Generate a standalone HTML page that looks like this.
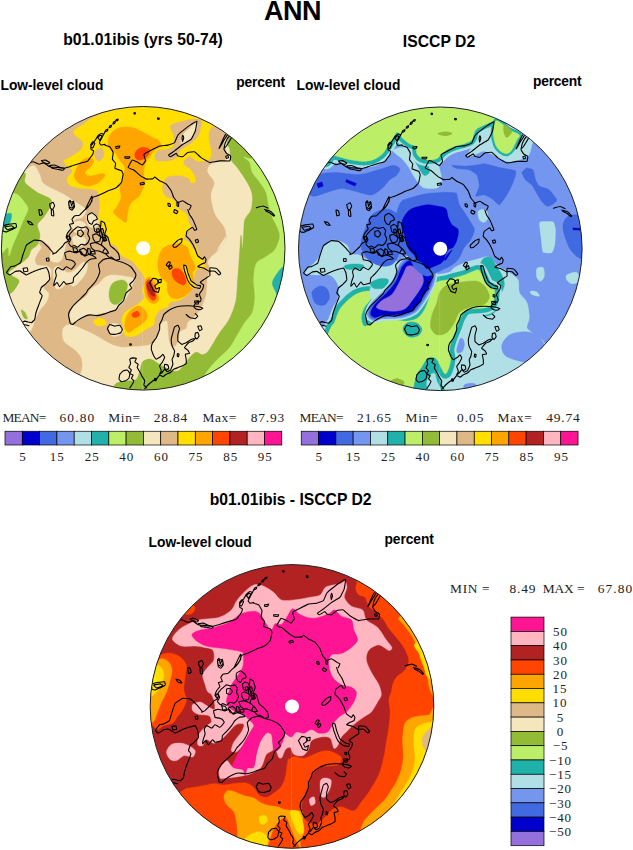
<!DOCTYPE html>
<html><head><meta charset="utf-8"><title>ANN</title>
<style>
html,body{margin:0;padding:0;background:#fff;}
body{width:633px;height:850px;position:relative;overflow:hidden;}
.t{position:absolute;white-space:nowrap;line-height:1.15;color:#000;}
.s{font-family:"Liberation Sans",sans-serif;}
.b{font-weight:bold;}
.r{font-family:"Liberation Serif",serif;}
</style></head><body>
<svg width="633" height="850" viewBox="0 0 633 850" style="position:absolute;left:0;top:0"><defs><clipPath id="cl"><circle cx="143.2" cy="248.3" r="141.8"/></clipPath></defs><g clip-path="url(#cl)"><rect x="-0.6000000000000227" y="104.5" width="287.6" height="287.6" fill="#DEB887"/><path d="M226.1,137.4C226.9,137.3 229.2,139.3 229.9,141.2C230.5,143.1 230.2,147.1 230.3,149.9C230.5,152.7 230.0,157.3 231.1,159.9C232.1,162.5 234.9,164.0 237.3,167.4C239.8,170.8 245.1,178.3 247.3,182.4C249.6,186.5 251.8,190.7 252.3,194.9C252.9,199.0 252.2,206.1 251.1,209.8C249.9,213.6 246.0,216.1 244.8,219.8C243.7,223.6 244.0,230.3 243.6,234.8C243.2,239.3 242.7,249.7 242.3,249.8C242.0,249.8 241.5,235.0 241.1,235.0C240.7,235.0 240.2,245.1 239.8,250.0C239.5,254.8 239.0,262.2 238.6,267.5C238.2,272.7 237.7,280.1 237.3,284.9C237.0,289.8 236.8,295.8 236.1,299.9C235.3,304.0 233.7,309.0 232.3,312.4C231.0,315.8 229.2,319.4 227.4,322.4C225.5,325.4 222.1,329.0 219.9,332.4C217.6,335.7 214.2,341.8 212.4,344.8C210.5,347.8 208.9,350.8 207.4,352.3C205.9,353.8 204.1,354.8 202.4,354.8C200.7,354.8 198.0,351.9 196.2,352.3C194.3,352.7 192.3,354.7 189.9,357.3C187.5,359.9 182.5,367.7 179.9,369.8C177.3,371.9 174.7,371.4 172.4,371.0C170.2,370.7 166.8,368.2 164.9,367.3C163.1,366.4 161.8,365.9 160.0,364.8C158.1,363.7 153.7,361.7 152.5,359.8C151.2,357.9 151.4,354.6 151.5,352.3C151.5,350.1 152.3,347.1 153.0,344.8C153.7,342.6 155.2,339.6 156.2,337.3C157.2,335.1 158.6,332.0 159.5,329.9C160.3,327.7 160.8,324.1 162.0,322.9C163.1,321.6 166.0,320.1 166.9,321.4C167.8,322.7 167.6,328.8 167.9,331.6C168.2,334.4 168.4,337.6 168.9,339.8C169.5,342.1 170.4,345.7 171.4,346.6C172.5,347.4 175.1,346.9 176.2,345.6C177.3,344.3 178.0,340.2 178.7,338.1C179.3,336.0 179.3,333.1 180.4,331.6C181.5,330.1 185.0,329.7 186.2,328.4C187.3,327.0 187.0,323.8 187.9,322.4C188.8,320.9 191.2,320.0 192.4,318.9C193.6,317.8 195.0,316.3 196.2,314.9C197.3,313.5 199.2,311.3 200.4,309.4C201.6,307.4 203.0,304.3 203.9,301.9C204.8,299.5 205.9,296.2 206.4,293.7C206.8,291.1 206.7,287.5 206.9,284.9C207.1,282.3 207.4,278.6 207.9,276.2C208.4,273.8 210.4,270.8 210.4,268.7C210.4,266.6 207.8,264.2 207.9,262.5C208.0,260.7 209.7,258.7 211.1,257.0C212.6,255.3 215.5,253.2 217.4,251.2C219.3,249.2 222.4,246.2 223.9,243.7C225.3,241.3 227.8,234.1 226.9,235.0C225.9,235.9 218.0,248.3 217.4,249.8C216.8,251.2 221.6,246.8 222.9,244.8C224.2,242.7 225.9,238.7 226.1,236.0C226.3,233.4 225.7,230.1 224.4,227.3C223.0,224.5 218.5,219.9 216.9,217.3C215.3,214.7 214.5,213.2 213.6,209.8C212.8,206.5 211.0,199.0 211.1,194.9C211.2,190.7 214.9,185.7 214.4,182.4C213.9,179.0 208.6,174.9 207.9,172.4C207.1,169.8 208.1,167.0 209.4,165.4C210.6,163.8 213.6,162.8 216.1,161.9C218.6,161.0 224.6,161.2 226.1,159.4C227.6,157.6 226.1,152.5 225.9,149.9C225.6,147.4 224.3,144.3 224.4,142.4C224.4,140.6 225.3,137.6 226.1,137.4Z" fill="#F5E6BE" stroke="#F5E6BE" stroke-width="0.4" stroke-linejoin="round"/><path d="M62.4,334.9C62.2,332.6 62.5,328.9 63.7,327.4C64.8,325.8 67.5,324.3 69.9,324.4C72.3,324.4 76.5,326.5 79.9,327.9C83.3,329.2 89.0,331.9 92.4,333.6C95.7,335.3 99.4,337.7 102.3,339.3C105.3,341.0 109.3,343.6 112.3,344.8C115.3,346.0 119.3,347.0 122.3,347.3C125.3,347.6 129.3,347.0 132.3,346.8C135.3,346.6 139.7,346.4 142.3,346.1C144.9,345.8 147.9,345.3 149.8,344.8C151.7,344.3 154.5,342.3 155.0,342.8C155.4,343.4 153.5,346.8 153.0,348.6C152.4,350.4 151.5,352.9 151.5,354.8C151.5,356.7 153.6,360.3 153.0,361.1C152.4,361.8 149.0,359.6 147.5,359.8C145.9,360.0 143.6,360.6 142.5,362.3C141.4,364.0 141.0,368.4 140.0,371.0C139.0,373.7 137.9,378.3 136.0,379.8C134.1,381.3 129.9,380.7 127.3,381.0C124.7,381.4 120.6,381.3 118.6,382.3C116.5,383.3 114.9,385.1 113.6,387.8C112.3,390.4 115.6,398.7 109.8,399.8C104.0,400.8 79.4,398.3 74.9,394.8C70.4,391.2 78.8,380.2 79.9,376.0C81.0,371.9 82.2,370.1 82.4,367.3C82.6,364.5 82.3,359.9 81.1,357.3C80.0,354.7 77.3,352.1 74.9,349.8C72.5,347.6 66.8,344.6 64.9,342.3C63.0,340.1 62.6,337.1 62.4,334.9Z" fill="#F5E6BE" stroke="#F5E6BE" stroke-width="0.4" stroke-linejoin="round"/><path d="M27.5,258.0C29.9,255.3 29.7,252.1 31.2,250.0C32.7,247.8 35.9,244.1 37.4,243.7C38.9,243.4 41.2,246.0 41.2,247.5C41.2,249.0 38.4,251.8 37.4,253.7C36.5,255.6 34.9,258.3 34.9,260.0C34.9,261.6 35.6,264.0 37.4,265.0C39.3,265.9 45.4,265.5 47.4,266.2C49.5,267.0 50.8,267.9 51.2,269.9C51.5,272.0 51.0,277.3 49.9,279.9C48.8,282.6 43.9,285.4 43.7,287.4C43.5,289.5 48.3,291.4 48.7,293.7C49.1,295.9 47.5,300.0 46.2,302.4C44.9,304.8 41.6,307.3 39.9,309.9C38.3,312.5 36.1,317.3 34.9,319.9C33.8,322.5 33.4,325.7 32.5,327.4C31.5,329.0 31.3,332.2 28.7,331.1C26.1,330.0 19.3,324.9 15.0,319.9C10.7,314.8 0.7,301.3 0.0,297.4C-0.7,293.5 7.4,295.5 10.0,293.7C12.6,291.8 16.2,287.0 17.5,284.9C18.8,282.9 19.5,281.2 18.7,279.9C18.0,278.6 14.0,277.3 12.5,276.2C11.0,275.1 8.4,273.8 8.7,272.4C9.1,271.1 12.2,269.6 15.0,267.5C17.8,265.3 25.0,260.6 27.5,258.0Z" fill="#F5E6BE" stroke="#F5E6BE" stroke-width="0.4" stroke-linejoin="round"/><path d="M71.1,321.1C70.4,319.6 69.1,315.0 69.9,312.4C70.6,309.8 73.7,306.1 76.1,303.6C78.6,301.2 83.9,298.4 86.1,296.2C88.4,293.9 89.2,290.5 91.1,288.7C93.0,286.8 96.5,285.4 98.6,283.7C100.7,282.0 102.8,278.7 104.8,277.4C106.9,276.1 109.3,275.1 112.3,274.9C115.3,274.8 121.4,275.6 124.8,276.2C128.2,276.7 133.7,277.4 134.8,278.7C135.9,280.0 133.4,282.3 132.3,284.9C131.2,287.5 128.8,293.3 127.3,296.2C125.8,299.0 124.4,301.6 122.3,303.6C120.3,305.7 116.2,308.6 113.6,309.9C111.0,311.2 107.7,311.7 104.8,312.4C102.0,313.1 97.9,313.8 94.9,314.4C91.9,314.9 87.9,314.9 84.9,316.1C81.9,317.3 76.9,321.6 74.9,322.4C72.8,323.1 71.9,322.6 71.1,321.1Z" fill="#F5E6BE" stroke="#F5E6BE" stroke-width="0.4" stroke-linejoin="round"/><path d="M53.7,268.7C54.4,266.6 56.6,265.6 58.7,266.2C60.7,266.8 65.0,271.9 67.4,272.4C69.8,273.0 72.6,271.4 74.9,269.9C77.1,268.4 80.5,263.4 82.4,262.5C84.2,261.5 86.8,262.2 87.4,263.7C87.9,265.2 87.2,269.8 86.1,272.4C85.0,275.1 81.8,279.1 79.9,281.2C78.0,283.2 75.5,286.0 73.6,286.2C71.8,286.4 69.1,282.2 67.4,282.4C65.7,282.6 64.1,286.5 62.4,287.4C60.7,288.4 57.5,289.8 56.2,288.7C54.9,287.5 54.0,282.9 53.7,279.9C53.3,276.9 52.9,270.8 53.7,268.7Z" fill="#F5E6BE" stroke="#F5E6BE" stroke-width="0.4" stroke-linejoin="round"/><path d="M108.6,328.6C108.6,326.7 110.6,324.2 112.3,323.6C114.0,323.1 118.1,323.9 119.8,324.9C121.5,325.8 123.6,328.4 123.6,329.9C123.6,331.4 121.5,333.9 119.8,334.9C118.1,335.8 114.0,337.0 112.3,336.1C110.6,335.2 108.6,330.5 108.6,328.6Z" fill="#F5E6BE" stroke="#F5E6BE" stroke-width="0.4" stroke-linejoin="round"/><path d="M23.7,172.4C25.0,169.8 31.3,165.0 33.7,165.4C36.1,165.8 38.6,172.3 39.9,174.9C41.3,177.4 40.9,180.5 42.4,182.4C43.9,184.2 46.9,185.7 49.9,187.4C52.9,189.1 59.0,191.7 62.4,193.6C65.8,195.5 69.8,198.2 72.4,199.9C75.0,201.5 77.8,203.3 79.9,204.8C81.9,206.3 85.7,208.0 86.1,209.8C86.5,211.7 84.1,215.8 82.4,217.3C80.7,218.8 76.4,218.3 74.9,219.8C73.4,221.3 73.5,225.1 72.4,227.3C71.3,229.6 68.4,231.8 67.4,234.8C66.4,237.8 66.2,243.8 65.4,247.3C64.7,250.8 62.9,256.3 62.4,258.0C62.0,259.7 63.2,258.0 62.4,258.7C61.7,259.4 59.3,262.3 57.4,262.5C55.5,262.6 50.9,261.8 49.9,260.0C49.0,258.1 51.4,252.2 51.2,250.0C51.0,247.7 50.2,246.3 48.7,245.0C47.2,243.7 42.9,241.3 41.2,241.2C39.5,241.2 37.6,245.7 37.4,244.8C37.3,243.8 39.9,237.8 39.9,234.8C39.9,231.8 36.9,227.4 37.4,224.8C38.0,222.2 41.6,220.3 43.7,217.3C45.7,214.3 50.2,207.7 51.2,204.8C52.1,202.0 52.0,200.5 49.9,198.6C47.9,196.7 41.2,194.8 37.4,192.4C33.7,189.9 27.0,185.4 25.0,182.4C22.9,179.4 22.4,174.9 23.7,172.4Z" fill="#F5E6BE" stroke="#F5E6BE" stroke-width="0.4" stroke-linejoin="round"/><path d="M72.4,223.6C73.1,221.9 77.8,220.9 79.9,221.1C81.9,221.3 85.6,223.3 86.1,224.8C86.7,226.3 85.3,229.9 83.6,231.1C81.9,232.2 76.6,233.4 74.9,232.3C73.2,231.2 71.6,225.2 72.4,223.6Z" fill="#F5E6BE" stroke="#F5E6BE" stroke-width="0.4" stroke-linejoin="round"/><path d="M86.1,216.1C86.9,214.2 91.7,213.0 93.6,213.6C95.5,214.1 98.2,217.8 98.6,219.8C99.0,221.9 97.6,226.4 96.1,227.3C94.6,228.2 90.1,227.7 88.6,226.1C87.1,224.4 85.4,217.9 86.1,216.1Z" fill="#F5E6BE" stroke="#F5E6BE" stroke-width="0.4" stroke-linejoin="round"/><path d="M72.4,237.5C73.1,236.0 77.8,234.6 79.9,235.0C81.9,235.4 85.7,238.3 86.1,240.0C86.5,241.7 84.1,245.5 82.4,246.2C80.7,247.0 76.4,246.3 74.9,245.0C73.4,243.7 71.6,239.0 72.4,237.5Z" fill="#F5E6BE" stroke="#F5E6BE" stroke-width="0.4" stroke-linejoin="round"/><path d="M228.6,138.7C224.9,143.9 229.5,146.7 229.9,149.9C230.2,153.1 230.0,157.3 231.1,159.9C232.2,162.5 234.9,164.0 237.3,167.4C239.8,170.8 245.1,178.3 247.3,182.4C249.6,186.5 251.8,190.7 252.3,194.9C252.9,199.0 252.2,206.1 251.1,209.8C249.9,213.6 246.0,216.1 244.8,219.8C243.7,223.6 244.0,230.3 243.6,234.8C243.2,239.3 242.7,249.7 242.3,249.8C242.0,249.8 241.5,235.0 241.1,235.0C240.7,235.0 240.2,245.1 239.8,250.0C239.5,254.8 239.0,262.2 238.6,267.5C238.2,272.7 237.7,280.1 237.3,284.9C237.0,289.8 236.8,295.8 236.1,299.9C235.3,304.0 233.7,309.0 232.3,312.4C231.0,315.8 229.2,319.4 227.4,322.4C225.5,325.4 222.1,329.0 219.9,332.4C217.6,335.7 214.2,341.8 212.4,344.8C210.5,347.8 208.9,350.8 207.4,352.3C205.9,353.8 204.1,354.8 202.4,354.8C200.7,354.8 198.0,351.9 196.2,352.3C194.3,352.7 192.3,354.7 189.9,357.3C187.5,359.9 182.5,367.7 179.9,369.8C177.3,371.9 174.7,371.4 172.4,371.0C170.2,370.7 166.8,368.2 164.9,367.3C163.1,366.4 161.8,365.9 160.0,364.8C158.1,363.7 154.3,360.6 152.5,359.8C150.6,359.0 149.0,358.9 147.5,359.3C145.9,359.7 143.4,360.5 142.3,362.3C141.1,364.1 140.7,368.4 139.8,371.0C138.9,373.7 137.9,378.3 136.0,379.8C134.2,381.3 129.9,380.7 127.3,381.0C124.7,381.4 120.6,381.3 118.6,382.3C116.5,383.3 114.5,383.7 113.6,387.8C112.6,391.9 83.7,406.4 112.3,409.7C141.0,413.0 275.9,447.2 304.7,409.7C333.6,372.3 312.2,204.3 304.7,160.1C297.2,115.9 266.2,118.2 254.8,115.0C243.4,111.8 232.3,133.4 228.6,138.7Z" fill="#93BB35" stroke="#93BB35" stroke-width="0.4" stroke-linejoin="round"/><path d="M23.7,172.4C28.2,173.5 22.9,179.4 25.0,182.4C27.0,185.4 33.7,189.9 37.4,192.4C41.2,194.8 47.9,196.7 49.9,198.6C52.0,200.5 52.1,202.0 51.2,204.8C50.2,207.7 45.7,214.3 43.7,217.3C41.6,220.3 38.0,222.2 37.4,224.8C36.9,227.4 39.9,231.8 39.9,234.8C39.9,237.8 38.8,242.5 37.4,244.8C36.1,247.1 32.7,248.0 31.2,250.0C29.7,252.0 29.9,255.3 27.5,258.0C25.0,260.6 17.8,265.3 15.0,267.5C12.2,269.6 9.1,271.1 8.7,272.4C8.4,273.8 11.0,275.1 12.5,276.2C14.0,277.3 18.0,278.6 18.7,279.9C19.5,281.2 18.8,282.9 17.5,284.9C16.2,287.0 13.4,292.2 10.0,293.7C6.6,295.2 -2.7,312.7 -5.0,294.9C-7.2,277.1 -9.3,193.3 -5.0,174.9C-0.7,156.5 19.2,171.3 23.7,172.4Z" fill="#93BB35" stroke="#93BB35" stroke-width="0.4" stroke-linejoin="round"/><path d="M21.2,309.9C21.4,309.1 24.0,311.1 25.0,312.4C25.9,313.7 27.6,317.9 27.5,318.6C27.3,319.4 24.7,318.7 23.7,317.4C22.8,316.1 21.0,310.6 21.2,309.9Z" fill="#93BB35" stroke="#93BB35" stroke-width="0.4" stroke-linejoin="round"/><path d="M109.8,288.7C110.5,286.6 111.7,283.7 113.6,282.4C115.5,281.1 120.3,279.7 122.3,279.9C124.4,280.1 126.7,281.8 127.3,283.7C127.9,285.5 126.8,290.0 126.1,292.4C125.3,294.8 123.8,298.1 122.3,299.9C120.8,301.7 117.8,304.0 116.1,304.4C114.4,304.8 112.1,303.6 111.1,302.4C110.0,301.2 109.3,298.2 109.1,296.2C108.9,294.1 109.2,290.7 109.8,288.7Z" fill="#93BB35" stroke="#93BB35" stroke-width="0.4" stroke-linejoin="round"/><path d="M246.8,157.9C238.6,154.5 249.0,160.2 249.8,162.4C250.6,164.6 250.8,169.4 252.3,172.4C253.8,175.4 257.7,179.4 259.8,182.4C261.9,185.4 264.7,189.0 266.0,192.4C267.4,195.7 267.6,201.1 268.5,204.8C269.5,208.6 271.0,214.0 272.3,217.3C273.6,220.7 276.2,224.5 277.3,227.3C278.4,230.1 279.8,233.4 279.8,236.0C279.8,238.7 278.2,242.7 277.3,245.0C276.3,247.3 275.4,249.4 273.5,251.2C271.7,253.1 267.4,255.6 264.8,257.5C262.2,259.3 257.7,260.3 256.1,263.7C254.4,267.1 253.8,274.9 253.6,279.9C253.4,285.0 255.0,292.5 254.8,297.4C254.6,302.3 253.8,308.6 252.3,312.4C250.8,316.1 247.1,319.0 244.8,322.4C242.6,325.7 239.6,331.1 237.3,334.9C235.1,338.6 232.1,344.3 229.9,347.3C227.6,350.3 225.0,352.2 222.4,354.8C219.7,357.4 215.0,361.8 212.4,364.8C209.8,367.8 206.6,371.8 204.9,374.8C203.2,377.8 197.4,379.5 201.1,384.8C204.9,390.0 214.3,406.0 229.9,409.7C245.4,413.5 293.5,443.4 304.7,409.7C316.0,376.0 313.4,222.8 304.7,185.1C296.1,147.3 255.1,161.3 246.8,157.9Z" fill="#BCEE68" stroke="#BCEE68" stroke-width="0.4" stroke-linejoin="round"/><path d="M15.0,193.6C19.5,194.2 23.5,201.2 25.5,203.6C27.4,206.0 28.3,207.2 28.0,209.8C27.6,212.5 24.5,217.5 23.0,221.1C21.5,224.6 19.5,230.0 18.0,233.5C16.5,237.1 14.3,241.4 13.0,244.8C11.6,248.2 9.7,255.6 9.0,256.0C8.2,256.4 9.3,247.8 8.0,247.5C6.6,247.1 1.9,255.6 0.0,253.7C-1.9,251.8 -4.2,243.1 -5.0,235.0C-5.7,226.9 -8.0,206.1 -5.0,199.9C-2.0,193.6 10.4,193.0 15.0,193.6Z" fill="#BCEE68" stroke="#BCEE68" stroke-width="0.4" stroke-linejoin="round"/><path d="M272.3,282.4C272.8,279.1 277.4,272.8 279.3,270.4C281.1,268.1 282.4,266.7 284.8,267.0C287.1,267.3 294.0,266.0 294.8,272.4C295.5,278.9 292.0,305.7 289.8,309.9C287.5,314.1 281.8,303.0 279.8,300.4C277.7,297.8 277.2,295.1 276.0,292.4C274.9,289.7 271.8,285.7 272.3,282.4Z" fill="#20B2AA" stroke="#20B2AA" stroke-width="0.4" stroke-linejoin="round"/><path d="M3.0,215.3C4.9,213.6 10.2,212.5 11.2,213.6C12.3,214.6 11.2,220.2 10.0,222.3C8.7,224.5 4.7,227.4 3.0,227.8C1.3,228.2 -1.2,226.7 -1.2,224.8C-1.2,222.9 1.1,217.0 3.0,215.3Z" fill="#20B2AA" stroke="#20B2AA" stroke-width="0.4" stroke-linejoin="round"/><path d="M99.9,114.5C88.5,119.0 86.3,122.5 82.4,125.0C78.4,127.5 74.8,129.7 73.6,131.2C72.5,132.7 73.6,133.4 74.9,134.9C76.2,136.4 81.3,139.3 82.4,141.2C83.5,143.1 83.1,145.7 82.4,147.4C81.6,149.1 79.6,150.7 77.4,152.4C75.1,154.1 69.5,157.4 67.4,158.7C65.3,160.0 63.7,160.0 63.7,161.2C63.7,162.3 66.1,164.7 67.4,166.2C68.7,167.6 72.2,169.6 72.4,171.1C72.6,172.6 69.5,174.6 68.6,176.1C67.8,177.6 66.5,179.6 66.9,181.1C67.3,182.6 68.8,185.0 71.1,186.1C73.5,187.2 78.8,188.1 82.4,188.6C85.9,189.2 92.4,189.1 94.9,189.9C97.3,190.6 97.9,191.4 98.6,193.6C99.4,195.9 99.9,201.3 99.9,204.8C99.9,208.4 98.6,214.3 98.6,217.3C98.6,220.3 99.1,222.9 99.9,224.8C100.6,226.7 102.5,228.3 103.6,229.8C104.7,231.3 106.4,233.1 107.3,235.0C108.3,236.9 108.3,240.6 109.8,242.5C111.3,244.4 115.8,245.8 117.3,247.5C118.8,249.2 118.7,252.2 119.8,253.7C120.9,255.2 122.9,256.3 124.8,257.5C126.7,258.6 130.4,259.7 132.3,261.2C134.2,262.7 135.8,265.6 137.3,267.5C138.8,269.3 141.2,272.2 142.3,273.7C143.3,275.2 143.9,275.9 144.3,277.4C144.7,278.9 145.1,281.8 144.8,283.7C144.5,285.5 142.4,287.9 142.3,289.9C142.2,292.0 144.7,295.5 144.3,297.4C143.9,299.3 141.6,300.9 139.8,302.4C138.0,303.9 134.5,305.9 132.3,307.4C130.1,308.9 126.4,310.5 124.8,312.4C123.2,314.3 122.0,317.6 121.8,319.9C121.6,322.1 123.1,325.1 123.6,327.4C124.0,329.6 123.9,333.4 124.8,334.9C125.7,336.3 127.9,336.8 129.8,336.8C131.7,336.8 135.2,335.9 137.5,334.9C139.8,333.8 142.5,331.4 145.0,329.9C147.4,328.4 152.2,326.7 153.7,324.9C155.2,323.0 154.0,319.6 155.0,317.4C155.9,315.1 158.1,311.4 160.0,309.9C161.8,308.4 165.9,308.5 167.4,307.4C168.9,306.3 168.1,303.5 169.9,302.4C171.8,301.3 177.1,301.2 179.9,299.9C182.7,298.6 186.8,295.9 188.7,293.7C190.5,291.4 191.3,288.5 192.4,284.9C193.5,281.4 194.3,272.6 196.2,269.9C198.0,267.3 204.0,268.9 204.9,267.5C205.8,266.0 203.5,262.6 202.4,260.0C201.3,257.3 198.7,252.8 197.4,250.0C196.1,247.2 193.1,240.0 193.7,241.2C194.2,242.4 201.1,256.7 201.1,258.0C201.1,259.3 195.5,252.1 193.7,249.8C191.8,247.4 190.2,244.0 188.7,242.3C187.2,240.6 183.9,240.0 183.7,238.5C183.5,237.0 186.3,234.0 187.4,232.3C188.5,230.6 191.0,228.8 191.2,227.3C191.3,225.8 189.4,224.4 188.7,222.3C187.9,220.3 187.5,215.5 186.2,213.6C184.9,211.7 181.4,211.0 179.9,209.8C178.4,208.7 177.1,207.6 176.2,206.1C175.2,204.6 175.1,201.2 173.7,199.9C172.2,198.5 168.0,197.9 166.4,196.9C164.9,195.8 163.8,194.5 163.2,192.9C162.6,191.3 162.1,188.3 162.4,186.3C162.6,184.3 163.9,181.1 164.9,179.6C165.9,178.1 167.0,176.9 169.0,176.3C171.0,175.7 175.3,175.2 178.1,175.5C181.0,175.7 186.1,176.8 188.1,178.0C190.1,179.1 190.3,182.4 191.4,182.9C192.5,183.4 195.2,182.5 195.6,181.3C195.9,180.0 194.8,176.5 193.9,174.7C193.0,172.8 191.3,170.5 189.8,168.8C188.2,167.2 184.2,165.2 183.4,163.9C182.7,162.5 183.8,160.8 184.8,159.7C185.7,158.6 188.3,156.4 189.8,156.4C191.2,156.4 193.4,159.0 194.7,159.7C196.1,160.5 196.8,161.4 198.9,161.4C201.0,161.4 207.0,161.0 208.8,159.7C210.7,158.5 211.2,155.6 211.3,153.1C211.4,150.6 209.7,146.1 209.3,143.1C208.9,140.2 208.5,135.6 208.8,133.2C209.1,130.8 210.4,128.9 211.3,127.4C212.2,125.9 222.6,128.1 214.6,123.2C206.6,118.4 175.2,96.3 158.0,95.0C140.8,93.7 111.2,110.0 99.9,114.5Z" fill="#FFDE00" stroke="#FFDE00" stroke-width="0.4" stroke-linejoin="round"/><path d="M170.7,125.7C172.0,124.2 177.9,122.6 181.5,121.6C185.1,120.6 191.7,119.2 194.7,119.1C197.8,119.0 200.8,119.4 201.7,120.8C202.6,122.1 201.1,125.9 200.5,128.2C200.0,130.6 199.7,134.1 198.0,136.5C196.4,138.9 192.5,141.9 189.8,144.0C187.0,146.1 181.7,148.7 179.8,150.6C177.9,152.5 178.8,154.9 177.3,156.4C175.8,157.9 173.0,159.9 169.9,160.6C166.7,161.2 158.8,161.4 156.6,160.6C154.3,159.7 154.7,156.2 154.9,154.8C155.2,153.3 156.3,151.4 158.2,150.6C160.2,149.8 166.0,150.1 168.2,149.4C170.4,148.8 172.3,148.2 173.2,146.5C174.0,144.8 174.1,140.4 174.0,138.2C173.9,135.9 172.8,133.4 172.3,131.5C171.8,129.7 169.3,127.2 170.7,125.7Z" fill="#DEB887" stroke="#DEB887" stroke-width="0.4" stroke-linejoin="round"/><path d="M180.6,140.7C180.7,139.0 182.1,135.9 183.4,134.0C184.8,132.2 187.9,129.8 189.8,128.2C191.6,126.6 194.4,123.6 195.6,123.2C196.7,122.9 197.5,124.1 197.2,125.7C197.0,127.3 195.3,131.8 193.9,134.0C192.5,136.3 189.7,139.0 188.1,140.7C186.5,142.3 184.2,144.8 183.1,144.8C182.0,144.8 180.6,142.3 180.6,140.7Z" fill="#F5E6BE" stroke="#F5E6BE" stroke-width="0.4" stroke-linejoin="round"/><path d="M96.1,149.9C97.2,148.8 101.2,147.7 102.3,148.7C103.5,149.6 104.2,154.3 103.6,156.2C103.0,158.0 99.9,161.2 98.6,161.2C97.3,161.2 95.2,157.9 94.9,156.2C94.5,154.5 95.0,151.0 96.1,149.9Z" fill="#DEB887" stroke="#DEB887" stroke-width="0.4" stroke-linejoin="round"/><path d="M93.6,321.1C94.2,320.1 96.9,318.1 98.6,317.9C100.3,317.7 103.7,318.9 104.8,319.9C106.0,320.8 106.8,323.4 106.1,324.4C105.3,325.3 101.5,326.1 99.9,326.1C98.2,326.1 95.8,325.1 94.9,324.4C93.9,323.6 93.0,322.1 93.6,321.1Z" fill="#FFDE00" stroke="#FFDE00" stroke-width="0.4" stroke-linejoin="round"/><path d="M108.1,143.7C108.1,141.6 108.3,137.3 109.8,134.9C111.4,132.6 115.2,129.1 118.6,128.0C121.9,126.8 128.6,126.8 132.3,127.5C136.0,128.1 140.5,131.0 143.5,132.5C146.5,133.9 150.1,136.3 152.3,137.4C154.5,138.6 156.9,138.6 158.2,139.9C159.5,141.3 161.7,144.7 161.2,146.2C160.7,147.7 156.6,148.4 155.0,149.9C153.3,151.4 151.5,153.9 150.0,156.2C148.5,158.4 145.9,162.1 145.0,164.9C144.0,167.7 143.7,172.3 143.7,174.9C143.7,177.5 145.5,179.4 145.0,182.4C144.4,185.4 141.3,192.4 140.0,194.9C138.6,197.3 137.6,197.1 136.0,198.6C134.5,200.1 131.1,202.4 129.8,204.8C128.5,207.3 127.9,212.2 127.3,214.8C126.7,217.4 127.2,221.8 126.1,222.3C124.9,222.9 121.7,220.1 119.8,218.6C117.9,217.1 114.0,214.2 113.6,212.3C113.2,210.5 116.2,208.3 117.3,206.1C118.4,203.8 120.7,200.2 121.1,197.4C121.4,194.5 119.6,190.4 119.8,187.4C120.0,184.4 121.6,180.4 122.3,177.4C123.1,174.4 125.4,170.2 124.8,167.4C124.3,164.6 119.9,160.7 118.6,158.7C117.3,156.6 117.4,155.2 116.1,153.7C114.8,152.2 111.0,150.2 109.8,148.7C108.6,147.2 108.1,145.7 108.1,143.7Z" fill="#FFA500" stroke="#FFA500" stroke-width="0.4" stroke-linejoin="round"/><path d="M74.9,172.4C75.6,170.0 78.0,164.6 79.9,162.4C81.8,160.2 85.3,158.3 87.4,157.9C89.4,157.5 93.0,158.7 93.6,159.9C94.2,161.1 92.4,164.3 91.1,166.2C89.8,168.0 85.1,170.9 84.9,172.4C84.7,173.9 87.2,175.9 89.9,176.1C92.5,176.3 100.1,173.6 102.3,173.6C104.6,173.6 105.4,174.8 104.8,176.1C104.3,177.4 101.0,180.9 98.6,182.4C96.2,183.9 91.4,185.9 88.6,186.1C85.8,186.3 81.9,184.7 79.9,183.6C77.8,182.5 75.6,180.3 74.9,178.6C74.1,176.9 74.1,174.8 74.9,172.4Z" fill="#FFA500" stroke="#FFA500" stroke-width="0.4" stroke-linejoin="round"/><path d="M124.8,327.4C124.4,325.1 125.1,320.0 126.1,317.4C127.0,314.8 129.2,311.6 131.1,309.9C132.9,308.2 136.5,306.1 138.5,306.1C140.6,306.1 143.5,308.2 144.8,309.9C146.1,311.6 147.7,315.3 147.3,317.4C146.9,319.4 144.2,321.9 142.3,323.6C140.4,325.3 136.9,327.3 134.8,328.6C132.7,329.9 130.1,332.5 128.6,332.4C127.1,332.2 125.2,329.6 124.8,327.4Z" fill="#FFA500" stroke="#FFA500" stroke-width="0.4" stroke-linejoin="round"/><path d="M145.0,281.2C145.5,278.7 147.4,277.1 148.7,276.9C150.0,276.7 152.6,278.2 153.7,279.9C154.8,281.7 155.5,285.9 156.2,288.7C157.0,291.5 158.9,296.4 158.7,298.7C158.5,300.9 156.5,303.3 155.0,303.6C153.5,304.0 150.2,302.6 148.7,301.2C147.2,299.7 145.5,296.7 145.0,293.7C144.4,290.7 144.4,283.7 145.0,281.2Z" fill="#FFA500" stroke="#FFA500" stroke-width="0.4" stroke-linejoin="round"/><path d="M158.7,257.5C159.4,254.7 160.8,250.6 162.5,248.7C164.1,246.9 167.3,245.7 169.9,245.0C172.6,244.2 177.3,243.4 179.9,243.7C182.5,244.1 185.9,245.8 187.4,247.5C188.9,249.2 189.0,252.7 189.9,255.0C190.8,257.2 192.8,260.4 193.7,262.5C194.5,264.5 195.6,267.2 195.4,268.7C195.2,270.2 192.7,270.6 192.4,272.4C192.1,274.3 193.7,278.7 193.7,281.2C193.7,283.6 193.5,286.6 192.4,288.7C191.3,290.7 188.2,293.4 186.2,294.9C184.1,296.4 180.9,298.3 178.7,298.7C176.4,299.0 172.9,298.5 171.2,297.4C169.5,296.3 168.1,293.4 167.4,291.2C166.8,288.9 167.9,284.5 166.9,282.4C166.0,280.4 162.6,279.7 161.2,277.4C159.9,275.2 158.3,270.4 158.0,267.5C157.6,264.5 158.0,260.3 158.7,257.5Z" fill="#FFA500" stroke="#FFA500" stroke-width="0.4" stroke-linejoin="round"/><path d="M182.9,266.2C183.2,264.8 185.3,263.5 186.2,264.5C187.0,265.4 187.7,269.9 188.7,272.4C189.6,275.0 191.4,279.1 192.4,281.2C193.4,283.2 195.4,285.2 195.4,286.2C195.4,287.2 193.5,288.5 192.4,287.9C191.3,287.4 189.1,284.6 187.9,282.4C186.7,280.3 185.2,276.1 184.4,273.7C183.7,271.3 182.7,267.6 182.9,266.2Z" fill="#FFDE00" stroke="#FFDE00" stroke-width="0.4" stroke-linejoin="round"/><path d="M134.8,153.7C135.2,152.2 137.0,149.6 138.5,148.7C140.0,147.7 143.1,147.2 144.8,147.4C146.5,147.6 149.4,148.6 149.8,149.9C150.1,151.2 148.6,154.7 147.3,156.2C146.0,157.7 142.7,159.5 141.0,159.9C139.4,160.3 137.0,159.6 136.0,158.7C135.1,157.7 134.4,155.2 134.8,153.7Z" fill="#FF4500" stroke="#FF4500" stroke-width="0.4" stroke-linejoin="round"/><path d="M132.3,313.6C133.0,312.8 136.2,310.9 137.3,311.1C138.4,311.3 140.0,313.9 139.8,314.9C139.6,315.8 137.1,317.1 136.0,317.4C135.0,317.7 133.4,317.4 132.8,316.9C132.2,316.3 131.6,314.5 132.3,313.6Z" fill="#FF4500" stroke="#FF4500" stroke-width="0.4" stroke-linejoin="round"/><path d="M146.2,282.4C146.5,280.2 148.7,279.0 150.0,279.9C151.2,280.9 153.5,286.0 154.5,288.7C155.4,291.3 156.5,295.6 156.2,297.4C155.9,299.2 153.7,300.8 152.5,300.4C151.2,300.0 148.9,297.6 148.0,294.9C147.0,292.2 145.9,284.7 146.2,282.4Z" fill="#FF4500" stroke="#FF4500" stroke-width="0.4" stroke-linejoin="round"/><path d="M172.4,269.9C173.3,268.6 177.0,268.1 178.7,268.7C180.4,269.3 182.5,271.8 183.7,273.7C184.8,275.6 186.2,279.5 186.2,281.2C186.2,282.9 185.0,284.7 183.7,284.9C182.4,285.1 179.0,283.6 177.4,282.4C175.8,281.3 173.7,279.3 172.9,277.4C172.2,275.6 171.6,271.3 172.4,269.9Z" fill="#FF4500" stroke="#FF4500" stroke-width="0.4" stroke-linejoin="round"/><path d="M147.0,283.7C147.3,282.7 149.0,281.3 150.0,282.4C151.0,283.6 153.0,289.1 153.7,291.2C154.5,293.2 155.3,295.6 155.0,296.2C154.6,296.7 152.3,296.0 151.2,294.9C150.1,293.8 148.1,290.4 147.5,288.7C146.8,287.0 146.6,284.6 147.0,283.7Z" fill="#B22222" stroke="#B22222" stroke-width="0.4" stroke-linejoin="round"/><line x1="142.6" y1="276.3" x2="142.6" y2="390.1" stroke="#fff" stroke-opacity="0.22" stroke-width="0.7"/><g transform="translate(-297.10,-0.50)" fill="none" stroke="#000" stroke-width="1.1" stroke-linejoin="round" stroke-linecap="round"><path d="M325.2,163.4C325.4,163.3 329.6,162.1 330.2,162.2C330.7,162.3 335.4,164.6 336.0,164.7C336.5,164.8 340.4,163.3 340.9,163.4C341.5,163.5 346.1,167.0 346.8,167.2C347.4,167.4 352.7,167.9 353.4,168.0C354.1,168.1 360.2,168.9 360.8,168.8C361.5,168.8 366.0,167.4 366.7,167.2C367.3,167.0 372.6,165.2 373.3,165.0C373.9,164.8 379.3,163.2 379.9,163.0C380.5,162.9 384.5,161.6 384.9,161.4C385.3,161.1 387.1,158.4 387.4,158.1C387.6,157.7 389.7,155.1 389.9,154.8C390.0,154.4 390.8,151.7 390.7,151.4C390.6,151.2 388.4,150.0 388.2,149.8C388.1,149.5 387.8,146.7 387.9,146.5C388.0,146.2 389.6,144.3 389.9,144.0C390.1,143.7 392.1,141.0 392.4,140.7C392.6,140.3 394.6,136.8 394.8,136.5C395.1,136.2 397.9,134.1 398.2,134.0C398.5,133.9 400.6,134.6 400.6,134.9C400.7,135.1 399.2,137.8 399.0,138.2C398.8,138.6 396.5,142.8 396.5,143.1C396.5,143.5 397.9,145.5 398.2,145.6C398.4,145.7 401.8,144.8 402.0,144.8C402.2,144.8 401.8,145.5 402.0,145.6C402.2,145.8 406.6,146.9 407.0,147.3C407.4,147.7 410.2,152.5 410.3,153.1C410.4,153.7 409.3,159.2 409.5,159.7C409.6,160.3 412.7,163.4 412.8,163.9C412.9,164.3 411.7,168.5 412.0,168.8C412.2,169.2 418.2,171.0 418.6,171.3C419.0,171.6 420.2,174.1 420.2,174.7C420.2,175.2 418.9,182.3 418.6,182.9C418.3,183.6 414.3,187.5 413.6,187.9C412.9,188.3 405.9,191.0 405.3,191.2C404.7,191.5 402.4,192.7 402.0,192.9C401.6,193.1 397.1,195.1 396.5,195.4C395.9,195.6 390.3,197.5 389.9,197.9C389.5,198.2 388.5,202.3 388.2,202.8C388.0,203.3 385.2,207.5 384.9,207.8C384.6,208.2 382.2,210.5 382.4,210.0C382.6,209.4 388.6,197.0 389.0,196.6C389.3,196.2 389.1,201.1 389.0,201.6C388.8,202.1 386.0,206.1 385.7,206.5C385.3,207.0 382.0,210.2 381.5,210.7C381.1,211.1 377.0,215.4 376.5,215.7C376.0,215.9 371.9,216.3 371.6,216.5C371.2,216.7 369.1,219.4 369.1,219.8C369.0,220.2 370.9,223.7 370.7,223.9C370.6,224.2 366.7,224.5 366.6,224.8C366.5,225.0 368.3,228.5 368.2,228.9C368.2,229.3 365.2,232.6 364.9,233.1C364.7,233.5 363.2,237.6 363.3,238.0C363.3,238.5 365.8,241.1 365.8,241.4C365.7,241.6 362.7,242.8 362.4,243.0C362.1,243.3 360.2,246.0 360.0,246.3C359.7,246.7 357.0,249.3 356.6,249.7C356.3,250.0 353.6,252.7 353.3,253.0C353.0,253.2 350.2,254.5 350.0,254.6 M338.5,161.1C338.7,161.0 342.2,160.5 342.6,160.6C343.0,160.7 346.6,162.9 346.8,163.0C346.9,163.2 345.4,164.4 345.1,164.4C344.8,164.4 341.3,163.2 340.9,163.0C340.6,162.9 338.6,161.2 338.5,161.1 M346.8,166.0C347.0,166.0 351.2,165.4 351.7,165.5C352.2,165.6 356.2,167.5 356.7,167.7C357.2,167.9 361.5,168.7 361.7,168.8C361.8,169.0 360.4,170.8 360.0,170.8C359.6,170.9 354.8,169.8 354.2,169.7C353.7,169.6 349.6,169.0 349.2,168.8C348.9,168.7 346.9,166.2 346.8,166.0 M387.9,144.8C388.0,144.7 389.7,142.4 389.9,142.3C390.1,142.3 391.9,143.7 391.9,144.0C391.9,144.3 390.1,148.3 389.9,148.4C389.7,148.6 388.3,148.0 388.2,147.8C388.1,147.6 387.9,145.0 387.9,144.8 M394.8,138.2C395.0,138.0 397.1,135.8 397.3,135.7C397.5,135.6 399.0,136.3 399.0,136.5C399.0,136.8 397.2,140.6 397.0,140.7C396.8,140.7 395.0,138.3 394.8,138.2 M402.0,132.4C402.1,132.3 404.0,131.8 404.2,131.6C404.3,131.5 405.0,129.6 405.0,129.5C404.9,129.5 403.1,130.3 403.0,130.5C402.8,130.6 402.0,132.3 402.0,132.4 M406.1,128.2C406.2,128.2 407.9,127.8 408.1,127.6C408.2,127.5 408.7,125.8 408.6,125.7C408.6,125.7 407.0,126.4 406.9,126.5C406.8,126.6 406.2,128.1 406.1,128.2 M410.0,124.6C410.1,124.5 411.7,124.0 411.8,123.9C411.9,123.8 412.3,122.0 412.3,121.9C412.2,121.9 410.7,122.6 410.6,122.7C410.5,122.9 410.0,124.5 410.0,124.6 M412.9,121.3C413.0,121.2 414.7,121.2 414.8,121.1C414.9,121.0 415.3,119.7 415.3,119.6C415.2,119.5 413.7,119.8 413.6,119.9C413.5,120.0 413.0,121.2 412.9,121.3 M402.0,132.4C401.9,132.6 400.1,136.1 399.8,136.5C399.5,136.9 396.7,140.4 396.5,140.7 M431.2,113.0C431.3,113.0 432.5,113.2 432.5,113.3C432.6,113.4 432.3,114.6 432.2,114.6C432.1,114.7 431.1,114.2 431.0,114.1C431.0,114.0 431.2,113.0 431.2,113.0 M454.7,118.3C454.8,118.3 456.3,118.5 456.4,118.6C456.5,118.7 456.1,119.9 456.1,119.9C456.0,120.0 454.8,119.7 454.7,119.6C454.7,119.5 454.7,118.3 454.7,118.3 M412.8,147.3C413.0,147.2 416.8,146.4 416.9,146.5C417.1,146.5 416.3,148.3 416.1,148.4C415.9,148.6 413.4,149.0 413.3,148.9C413.1,148.9 412.8,147.4 412.8,147.3 M421.9,157.2C422.1,157.2 426.7,157.2 426.9,157.2C427.1,157.3 426.3,158.8 426.0,158.9C425.8,159.0 422.4,158.6 422.2,158.6C422.0,158.5 421.9,157.3 421.9,157.2 M346.8,204.5C346.9,204.4 349.8,202.8 350.1,202.8C350.3,202.9 351.7,205.8 351.7,206.2C351.7,206.5 349.9,209.9 349.7,210.0C349.5,210.1 347.7,208.9 347.6,208.6C347.4,208.4 346.8,204.7 346.8,204.5 M365.8,202.8C366.0,202.8 369.7,201.9 370.0,202.0C370.2,202.1 371.3,205.0 371.3,205.3C371.3,205.7 369.4,208.6 369.1,208.6C368.9,208.7 366.5,207.3 366.3,207.0C366.2,206.7 365.8,203.1 365.8,202.8 M486.6,210.0C486.7,209.8 488.3,206.4 488.2,206.2C488.2,205.9 485.3,204.8 484.9,204.5C484.5,204.3 480.4,201.3 479.9,201.2C479.4,201.1 475.4,203.0 475.0,202.8C474.5,202.7 471.2,198.4 470.8,197.9C470.5,197.3 468.7,191.9 468.3,191.2C468.0,190.6 463.9,185.1 463.4,184.6C462.8,184.1 457.3,181.6 456.7,181.3C456.1,180.9 452.1,177.7 451.8,177.6C451.4,177.5 450.5,179.2 450.1,179.3C449.7,179.4 444.1,179.8 443.5,179.6C442.8,179.5 438.3,176.8 437.7,176.3C437.0,175.9 431.6,170.9 431.0,170.5C430.4,170.1 425.3,168.5 425.2,168.0C425.1,167.5 428.9,160.8 429.4,160.6C429.9,160.3 434.7,162.8 435.2,163.0C435.7,163.3 438.9,165.6 439.3,165.5C439.7,165.4 442.5,161.9 442.6,161.4C442.7,160.8 440.8,155.2 441.0,154.8C441.2,154.3 446.0,151.8 446.8,151.4C447.6,151.0 455.8,146.7 456.7,146.5C457.6,146.2 464.3,145.8 465.0,145.6C465.8,145.5 471.2,143.6 471.7,143.1C472.1,142.6 474.5,136.3 475.0,135.7C475.5,135.0 480.9,130.4 481.6,129.9C482.3,129.3 487.6,125.3 488.2,124.9C488.9,124.5 493.8,121.3 494.0,121.6C494.2,121.9 492.7,130.6 492.4,131.5C492.1,132.4 488.9,139.2 488.2,139.8C487.6,140.5 480.8,144.2 479.9,144.8C479.1,145.4 472.4,150.9 471.7,151.4C470.9,152.0 466.1,155.3 465.8,155.6C465.6,155.9 467.1,157.3 467.5,157.2C467.9,157.2 472.9,154.0 473.3,153.9C473.7,153.9 474.6,156.2 475.0,156.4C475.3,156.6 479.4,157.4 479.9,157.2C480.4,157.1 484.3,153.3 484.9,153.1C485.5,152.8 490.9,152.0 491.6,152.3C492.2,152.5 497.4,157.5 498.2,158.1C499.0,158.6 506.5,162.8 507.0,163.0C507.4,163.3 506.5,163.1 507.0,163.0C507.5,163.0 516.0,161.5 517.0,161.4C517.9,161.3 526.4,161.6 526.9,161.4C527.4,161.1 527.9,156.8 527.7,156.4C527.6,156.0 523.9,154.3 523.6,153.9C523.3,153.6 521.2,150.2 521.1,149.8C521.0,149.3 521.8,145.3 521.9,144.8C522.0,144.3 523.4,141.1 523.6,140.7C523.8,140.2 526.4,136.7 526.6,136.5 M522.8,134.9C522.5,135.3 518.9,142.4 518.6,143.1C518.3,143.8 516.2,148.8 516.1,148.9C516.1,149.1 517.4,147.0 517.8,146.5C518.1,145.9 522.4,138.7 522.8,138.2C523.1,137.6 524.3,135.8 524.4,135.7 M528.6,138.2C528.3,138.6 524.0,145.9 523.6,146.5C523.2,147.0 521.2,148.8 521.1,148.9 M522.8,156.7C522.9,156.7 524.8,156.0 524.9,156.1C525.1,156.1 525.6,157.9 525.6,158.1C525.5,158.2 523.7,159.0 523.6,158.9C523.4,158.8 522.8,156.8 522.8,156.7 M437.3,183.6C437.5,183.6 440.8,182.9 441.0,182.9C441.2,183.0 441.6,184.5 441.5,184.6C441.3,184.7 437.9,185.5 437.7,185.4C437.4,185.4 437.3,183.7 437.3,183.6 M465.0,203.7C465.1,203.7 466.9,204.0 467.0,204.2C467.1,204.3 467.6,206.9 467.5,207.0C467.4,207.1 465.6,206.7 465.5,206.5C465.4,206.3 465.0,203.8 465.0,203.7 M474.1,202.8C474.2,202.9 475.7,203.5 475.8,203.7C475.9,203.9 475.5,206.9 475.5,207.0C475.4,207.1 474.2,206.4 474.1,206.2C474.1,206.0 474.1,203.0 474.1,202.8 M479.1,138.2C479.2,138.0 479.9,135.7 479.9,135.7C480.0,135.7 480.8,137.8 480.8,138.2C480.8,138.5 479.7,142.3 479.6,142.3C479.5,142.3 479.1,138.4 479.1,138.2 M561.7,210.0C562.0,210.1 567.0,211.4 567.5,211.7C568.0,211.9 571.5,215.6 571.7,215.8C571.8,216.1 571.1,216.8 570.8,216.6C570.6,216.5 567.1,213.6 566.7,213.3C566.3,213.1 562.8,211.4 562.6,211.3 M553.4,208.2C553.8,208.1 559.5,206.5 560.1,206.5C560.6,206.5 564.8,208.5 565.0,208.6 M484.9,210.0C485.0,210.2 486.3,214.5 486.6,215.0C486.8,215.5 489.6,219.4 489.9,220.0C490.2,220.5 492.2,225.3 492.4,225.8C492.6,226.3 494.1,229.7 494.0,229.9C494.0,230.1 491.8,230.8 491.6,230.7C491.3,230.6 490.1,228.0 489.9,227.9C489.7,227.8 487.7,228.9 487.4,229.1C487.1,229.3 484.3,231.2 484.1,231.6C483.9,231.9 483.1,236.1 483.3,236.5C483.4,236.9 486.2,239.4 486.6,239.9C486.9,240.3 489.6,244.3 489.9,244.8C490.2,245.3 492.1,249.2 492.4,249.8C492.6,250.4 494.5,255.9 494.9,256.4C495.2,256.9 499.5,259.7 499.8,259.8C500.2,259.8 501.3,257.3 501.5,257.3C501.7,257.3 503.1,259.5 503.2,259.8C503.2,260.0 502.6,262.8 502.3,263.1C502.1,263.3 498.6,264.5 498.2,264.7C497.8,264.9 494.7,267.0 494.9,267.2C495.0,267.4 500.9,268.6 501.5,268.9C502.1,269.1 506.7,272.2 507.0,272.2C507.2,272.2 506.7,268.5 507.0,268.4C507.3,268.2 513.1,268.6 513.6,268.9C514.2,269.1 517.7,273.5 517.8,273.8C517.9,274.2 516.4,275.6 516.1,275.5C515.8,275.4 512.4,271.9 512.0,271.7C511.5,271.5 507.2,271.5 507.0,271.7C506.8,271.9 507.2,275.6 507.0,276.0C506.7,276.4 502.0,279.3 501.5,279.7C501.0,280.0 497.4,282.7 497.4,283.0C497.3,283.3 500.5,285.1 500.7,285.5C500.8,285.8 500.1,289.1 499.8,289.6C499.6,290.1 496.6,294.1 496.5,294.6C496.4,295.1 498.1,299.2 498.2,299.6C498.2,299.9 497.6,301.9 497.4,302.0C497.1,302.2 493.5,302.6 493.2,302.9C492.9,303.1 490.7,306.7 490.7,307.0C490.7,307.3 492.9,309.3 493.2,309.5C493.5,309.7 497.0,310.4 497.4,310.3C497.7,310.3 499.7,308.8 499.8,308.7 M471.7,210.0C471.8,210.1 474.9,211.8 475.0,212.0C475.1,212.2 473.8,214.1 473.6,214.1C473.4,214.2 470.9,212.7 470.8,212.5C470.7,212.3 471.6,210.1 471.7,210.0 M470.0,245.7C470.2,245.4 474.5,241.0 475.0,240.7C475.4,240.3 478.9,238.9 479.1,239.0C479.3,239.1 478.9,242.4 478.6,242.8C478.3,243.3 474.0,247.1 473.6,247.3C473.3,247.6 471.0,247.9 470.8,247.8C470.6,247.7 470.0,245.8 470.0,245.7 M492.4,240.7C492.5,240.6 494.7,239.8 494.9,239.9C495.0,239.9 495.8,242.2 495.7,242.3C495.6,242.5 493.4,243.3 493.2,243.2C493.0,243.1 492.4,240.8 492.4,240.7 M480.8,265.6C480.9,265.6 483.1,266.0 483.3,266.4C483.5,266.8 484.7,272.3 484.9,273.0C485.2,273.8 487.8,280.7 488.2,281.3C488.7,281.9 493.6,285.2 494.0,285.5C494.5,285.7 497.5,286.1 497.7,286.3C497.8,286.5 497.2,288.9 496.9,288.9C496.6,289.0 492.1,288.2 491.6,287.9C491.0,287.7 487.0,284.4 486.6,283.8C486.2,283.2 483.5,277.0 483.3,276.3C483.0,275.6 481.4,270.2 481.3,269.7C481.1,269.2 480.8,265.8 480.8,265.6 M463.4,265.6C463.5,265.4 465.6,262.4 465.8,262.2C466.1,262.1 467.5,262.8 467.5,263.1C467.5,263.3 465.6,267.1 465.3,267.2C465.1,267.3 463.5,265.6 463.4,265.6 M465.8,268.0C466.0,267.9 468.2,265.6 468.3,265.6C468.5,265.6 469.2,267.8 469.2,268.0C469.1,268.3 466.8,270.0 466.7,270.0C466.5,270.0 465.9,268.1 465.8,268.0 M446.8,283.0C446.9,282.8 449.7,279.0 450.1,278.8C450.5,278.7 454.0,279.4 454.2,279.7C454.5,279.9 455.2,283.5 455.1,283.8C454.9,284.1 451.8,286.0 451.8,286.3C451.7,286.6 453.2,289.5 453.4,289.6C453.7,289.7 456.6,287.8 456.7,287.9C456.8,288.1 455.7,292.8 455.4,292.9C455.1,293.1 451.3,291.6 450.9,291.3C450.6,290.9 448.6,286.7 448.4,286.3C448.2,285.9 446.9,283.1 446.8,283.0 M455.4,280.5C455.5,280.4 458.3,279.5 458.4,279.7C458.5,279.8 458.2,282.8 458.1,283.0C457.9,283.1 456.0,283.1 455.9,283.0C455.8,282.8 455.4,280.6 455.4,280.5 M493.2,294.6C493.3,294.6 494.8,294.8 494.9,294.9C495.0,295.0 495.0,297.0 494.9,297.1C494.8,297.2 493.3,296.9 493.2,296.7C493.1,296.6 493.2,294.7 493.2,294.6 M491.6,301.5C491.8,301.5 495.5,301.1 495.7,301.2C495.9,301.4 495.5,304.4 495.4,304.5C495.2,304.7 492.6,304.3 492.4,304.2C492.2,304.0 491.6,301.7 491.6,301.5 M499.8,308.7C499.6,308.6 495.6,307.1 494.9,307.0C494.1,306.9 485.9,306.2 484.9,306.2C483.9,306.2 475.8,306.8 475.0,307.0C474.1,307.2 468.9,309.2 468.3,309.5C467.8,309.8 463.7,312.5 463.4,312.8C463.0,313.1 461.0,314.9 460.9,315.0C460.7,315.1 461.0,314.8 460.9,315.0C460.8,315.2 459.4,319.5 459.2,320.0C459.0,320.5 456.9,324.5 456.7,325.0C456.6,325.4 456.9,329.3 456.7,329.9C456.6,330.6 453.8,337.5 453.4,338.2C453.0,338.9 449.5,343.4 449.3,344.0C449.0,344.6 448.4,349.2 448.4,349.8C448.5,350.4 450.7,356.0 450.9,356.5C451.2,357.0 453.1,359.7 453.4,359.8C453.7,359.8 457.2,357.5 457.6,357.3C457.9,357.0 459.8,354.8 460.0,354.8C460.3,354.8 461.7,357.7 461.7,358.1C461.7,358.5 459.5,362.7 459.2,363.1C459.0,363.5 456.8,366.0 456.7,366.4C456.7,366.8 458.4,371.0 458.4,371.4C458.4,371.8 456.7,374.6 456.7,374.7C456.8,374.8 459.0,373.3 459.2,373.0C459.5,372.8 461.5,369.8 461.7,369.7C462.0,369.7 463.9,372.2 464.2,372.2C464.5,372.3 467.2,370.9 467.5,370.6C467.8,370.2 469.9,365.3 470.0,364.8C470.1,364.2 469.1,360.2 469.2,359.8C469.2,359.4 470.7,356.9 470.8,356.5C470.9,356.0 471.7,352.0 471.7,351.5C471.6,351.0 469.3,347.1 469.2,346.5C469.0,345.9 468.3,340.5 468.3,339.9C468.4,339.2 469.8,333.9 470.0,333.2C470.2,332.6 471.4,327.8 471.7,327.4C471.9,327.1 474.7,325.7 475.0,325.8C475.2,325.9 476.6,328.6 476.6,329.1C476.6,329.6 475.1,334.3 475.0,334.9C474.9,335.5 474.8,341.0 475.0,341.5C475.2,342.0 478.7,344.8 479.1,344.9C479.5,344.9 482.8,343.4 483.3,343.2C483.7,342.9 487.8,340.1 488.2,339.9C488.7,339.7 492.3,339.0 492.4,339.0C492.5,339.1 490.2,341.3 489.9,341.5C489.6,341.7 486.2,342.9 485.7,343.2C485.3,343.5 481.6,347.8 481.6,348.2C481.6,348.5 484.7,350.4 484.9,350.7C485.2,350.9 486.7,353.8 486.6,354.0C486.5,354.2 482.6,354.5 482.4,354.8C482.3,355.1 483.2,359.3 483.3,359.8C483.3,360.2 483.5,363.6 483.3,363.9C483.1,364.3 479.5,366.2 479.1,366.4C478.7,366.6 475.4,367.9 475.0,368.1C474.6,368.2 471.2,369.5 470.8,369.7C470.4,370.0 467.9,372.8 467.5,373.0C467.1,373.3 463.7,374.5 463.4,374.7C463.0,374.9 460.4,377.1 460.0,377.2C459.7,377.2 457.1,375.4 456.7,375.5C456.4,375.7 453.7,379.4 453.4,379.7C453.1,380.0 450.5,381.0 450.1,381.3C449.7,381.6 445.5,385.1 445.1,385.5C444.7,385.9 442.0,388.9 441.8,389.1 M483.3,315.0C483.5,315.2 487.0,318.1 487.4,318.3C487.9,318.5 492.0,319.2 492.4,319.1C492.8,319.1 494.9,316.9 494.9,316.7C494.9,316.4 492.5,314.3 492.4,314.2 M492.4,333.6C492.5,333.5 494.7,332.8 494.9,332.9C495.1,333.1 496.2,336.2 496.2,336.6C496.2,336.9 494.2,339.5 494.0,339.5C493.8,339.6 492.1,337.7 492.0,337.4C492.0,337.1 492.4,333.8 492.4,333.6 M494.9,326.9C495.0,326.9 497.6,326.1 497.9,326.3C498.1,326.4 499.2,329.3 499.2,329.6C499.1,329.8 497.1,331.4 496.9,331.3C496.6,331.1 495.0,327.2 494.9,326.9 M474.6,354.0C474.7,354.0 476.1,354.6 476.1,354.8C476.2,355.0 475.6,357.2 475.5,357.3C475.4,357.4 474.3,356.6 474.3,356.5C474.3,356.3 474.6,354.1 474.6,354.0 M451.8,378.8C451.9,378.9 453.7,379.2 453.7,379.3C453.8,379.5 453.2,381.3 453.1,381.3C453.0,381.4 451.5,381.0 451.4,380.8C451.4,380.7 451.7,378.9 451.8,378.8 M461.7,364.8C461.9,364.8 464.8,365.4 465.0,365.6C465.2,365.8 465.9,368.6 465.8,368.9C465.8,369.1 463.6,370.6 463.4,370.6C463.1,370.5 461.5,368.4 461.4,368.1C461.3,367.8 461.7,364.9 461.7,364.8 M404.5,329.1C404.6,328.9 406.6,325.1 407.0,325.0C407.3,324.8 410.6,326.6 411.1,326.6C411.6,326.7 416.5,325.6 416.9,325.8C417.3,325.9 419.4,329.6 419.4,329.9C419.5,330.3 418.1,333.0 417.8,333.2C417.4,333.5 412.5,334.9 412.0,334.9C411.4,334.9 407.3,334.4 407.0,334.1C406.6,333.8 404.6,329.3 404.5,329.1 M426.9,344.2C427.0,344.2 428.5,344.4 428.5,344.5C428.6,344.6 428.3,345.8 428.2,345.8C428.1,345.9 426.9,345.6 426.9,345.5C426.8,345.4 426.9,344.3 426.9,344.2 M426.9,388.5C427.0,388.3 429.2,385.0 429.4,384.7C429.6,384.3 431.1,381.6 431.0,381.3C431.0,381.0 428.6,379.1 428.5,378.8C428.5,378.6 430.3,375.8 430.2,375.5C430.1,375.3 427.0,374.1 426.9,373.9C426.8,373.6 428.6,370.8 428.5,370.6C428.5,370.3 426.1,368.4 426.0,368.1C426.0,367.7 427.7,364.3 427.7,363.9C427.7,363.5 426.8,360.0 426.9,359.8C427.0,359.5 429.0,358.5 429.4,358.4C429.7,358.4 433.4,358.8 433.5,358.9C433.6,359.1 431.8,362.0 431.9,362.3C431.9,362.6 435.0,364.5 435.2,364.8C435.3,365.0 434.3,367.7 434.3,368.1C434.4,368.4 436.6,371.8 436.8,372.2C437.1,372.7 439.1,376.7 439.3,377.2C439.6,377.6 441.7,380.9 441.8,381.3C441.9,381.7 440.9,385.1 441.0,385.5C441.1,385.8 443.3,388.2 443.5,388.3 M416.9,374.7C417.1,374.5 419.9,371.6 420.2,371.4C420.6,371.2 424.1,370.4 424.4,370.6C424.7,370.7 426.8,373.5 426.9,373.9C427.0,374.3 426.3,378.5 426.0,378.8C425.8,379.2 423.1,381.2 422.7,381.3C422.4,381.5 418.9,382.2 418.6,382.2C418.3,382.1 416.2,380.0 416.1,379.7C416.0,379.3 416.9,375.0 416.9,374.7 M367.4,324.1C367.2,323.3 365.5,316.3 365.6,314.9C365.8,313.5 368.5,308.6 369.4,307.4C370.3,306.1 375.7,301.0 376.9,299.9C378.0,298.8 382.5,294.5 383.1,293.7C383.8,292.9 384.5,290.9 384.9,290.4C385.2,289.9 386.7,288.7 387.4,287.9C388.1,287.2 392.3,282.5 393.1,281.2C393.9,279.9 396.6,273.8 396.9,272.4C397.1,271.1 395.3,266.0 395.6,265.0C395.9,263.9 399.7,260.5 400.6,260.0C401.5,259.4 405.7,258.6 406.8,258.7C408.0,258.8 413.1,260.8 414.3,261.2C415.6,261.6 420.7,263.2 421.8,263.7C423.0,264.2 427.1,266.5 428.1,267.5C429.0,268.4 432.8,273.8 433.0,274.9C433.3,276.1 431.1,280.3 430.5,281.2C430.0,282.0 427.0,284.3 426.8,284.9C426.6,285.5 428.9,287.9 428.6,288.7C428.2,289.4 423.7,292.6 423.1,293.7C422.4,294.7 421.2,300.1 420.6,301.2C419.9,302.2 416.1,305.5 415.6,306.1C415.0,306.8 414.1,309.0 413.8,309.4C413.5,309.8 412.4,310.9 411.8,311.1C411.2,311.4 407.7,312.1 406.8,312.4C406.0,312.7 402.9,314.1 401.8,314.4C400.8,314.7 395.6,316.0 394.4,316.1C393.1,316.2 388.0,315.3 386.9,315.4C385.7,315.5 381.7,316.9 380.6,317.4C379.6,317.9 375.3,320.5 374.4,321.1C373.5,321.7 370.5,324.6 369.9,324.9C369.3,325.1 367.6,324.2 367.4,324.1 M398.1,221.5C398.3,221.5 401.1,222.7 401.4,223.1C401.7,223.5 403.4,229.2 403.4,229.8C403.4,230.3 401.7,234.3 401.7,234.7C401.8,235.1 404.8,237.5 405.1,238.0C405.3,238.6 407.2,245.8 407.5,246.3C407.9,246.9 411.3,249.2 411.7,249.7C412.1,250.1 415.6,254.1 415.8,254.6C416.1,255.1 416.8,259.3 416.7,259.6C416.5,259.9 413.4,260.9 413.0,260.8C412.6,260.7 408.7,257.8 408.4,257.6C408.0,257.5 406.3,258.1 406.1,257.9C405.8,257.8 403.1,254.5 402.7,254.3C402.4,254.0 399.8,253.2 399.8,253.0C399.7,252.7 401.8,249.2 401.7,248.8C401.7,248.4 398.5,245.4 398.4,245.0C398.3,244.6 400.2,240.5 400.1,240.0C400.0,239.5 396.9,235.6 396.8,235.1C396.6,234.5 397.5,229.1 397.6,228.4C397.7,227.7 398.1,221.8 398.1,221.5 M384.5,219.8C384.5,219.6 384.6,216.0 384.8,215.7C385.0,215.3 388.5,213.1 389.0,213.2C389.4,213.2 393.2,216.5 393.4,216.8C393.7,217.1 394.6,219.6 394.4,219.8C394.3,220.0 390.9,221.2 390.6,221.5C390.4,221.7 389.2,224.7 389.0,224.8C388.7,224.9 386.4,223.7 386.2,223.4C385.9,223.2 384.6,220.0 384.5,219.8 M371.6,229.8C371.7,229.6 374.5,227.3 374.9,227.3C375.2,227.2 378.6,228.4 379.0,228.4C379.4,228.4 382.8,227.2 383.2,227.3C383.5,227.4 385.6,230.2 385.7,230.6C385.7,231.0 384.8,234.3 384.8,234.7C384.9,235.1 386.8,238.5 386.8,238.9C386.8,239.3 385.4,242.7 385.2,243.0C384.9,243.3 382.7,245.4 382.3,245.5C382.0,245.6 378.6,244.6 378.2,244.7C377.8,244.8 375.2,247.6 374.9,247.7C374.5,247.7 371.5,246.0 371.2,246.0C370.9,246.0 368.8,247.3 368.6,247.2C368.3,247.1 365.8,244.2 365.8,243.8C365.7,243.5 367.9,240.1 367.9,239.7C367.9,239.3 366.2,235.9 366.3,235.6C366.3,235.2 368.3,233.0 368.6,232.7C368.8,232.4 371.4,229.9 371.6,229.8 M374.9,231.4C375.0,231.4 377.9,230.5 378.2,230.6C378.5,230.7 380.7,233.6 380.7,233.9C380.7,234.2 378.5,237.1 378.2,237.2C377.9,237.3 375.0,235.8 374.9,235.6C374.7,235.3 374.9,231.6 374.9,231.4 M390.6,226.4C390.8,226.3 393.2,224.5 393.4,224.4C393.7,224.4 396.2,225.4 396.4,225.6C396.7,225.9 397.8,229.0 397.8,229.4C397.7,229.8 395.4,233.3 395.1,233.4C394.8,233.5 392.0,232.1 391.8,231.7C391.6,231.4 390.7,226.7 390.6,226.4 M389.8,235.6C390.0,235.5 393.1,234.3 393.4,234.4C393.8,234.5 397.6,236.8 397.8,237.2C397.9,237.6 397.0,241.4 396.8,241.7C396.5,242.0 393.1,242.8 392.8,242.7C392.5,242.6 390.6,240.1 390.5,239.7C390.3,239.3 389.8,235.8 389.8,235.6 M387.3,244.3C387.5,244.3 391.3,243.0 391.8,243.0C392.3,243.1 397.5,245.2 398.1,245.5C398.7,245.8 402.7,249.2 403.1,249.7C403.4,250.1 405.7,253.6 405.6,253.8C405.5,254.0 401.5,253.9 401.1,253.8C400.6,253.7 396.9,251.8 396.4,251.6C396.0,251.5 392.2,251.1 391.8,251.0C391.4,250.8 388.7,248.7 388.5,248.3C388.3,248.0 387.4,244.5 387.3,244.3 M398.9,234.7C399.1,234.8 401.5,235.7 401.7,236.1C402.0,236.4 403.9,240.8 403.9,241.0C403.9,241.3 401.3,241.3 401.1,241.0C400.8,240.7 399.0,235.0 398.9,234.7 M393.4,229.8C393.6,229.7 395.5,228.8 395.6,228.9C395.8,229.0 396.5,231.6 396.4,231.7C396.4,231.9 394.6,232.8 394.4,232.7C394.3,232.6 393.5,229.9 393.4,229.8 M398.1,229.8C398.2,229.7 399.6,228.9 399.8,229.1C399.9,229.3 400.6,233.2 400.6,233.4C400.5,233.6 399.0,234.1 398.9,233.9C398.8,233.7 398.1,230.0 398.1,229.8 M399.8,237.2C399.9,237.3 401.6,237.8 401.7,238.0C401.9,238.3 402.3,241.5 402.2,241.7C402.2,241.8 400.2,241.3 400.1,241.0C400.0,240.8 399.8,237.4 399.8,237.2 M376.5,250.5C376.7,250.4 380.3,248.8 380.7,248.8C381.1,248.9 383.9,251.0 384.0,251.3C384.1,251.6 383.1,255.3 382.8,255.5C382.6,255.6 378.8,255.2 378.5,255.0C378.2,254.7 376.6,250.7 376.5,250.5 M384.8,248.8C385.0,248.9 387.2,249.4 387.3,249.7C387.4,249.9 387.6,254.4 387.5,254.6C387.4,254.8 385.3,254.3 385.2,254.0C385.0,253.7 384.8,249.1 384.8,248.8 M388.1,252.1C388.3,252.1 391.3,251.5 391.5,251.6C391.7,251.7 392.4,254.1 392.3,254.3C392.2,254.4 389.2,254.7 389.0,254.6C388.8,254.5 388.2,252.3 388.1,252.1 M369.9,248.0C370.1,248.0 373.3,248.6 373.5,248.8C373.8,249.0 375.0,251.5 374.9,251.6C374.8,251.8 371.5,252.5 371.2,252.3C371.0,252.1 370.0,248.2 369.9,248.0 M364.6,236.4C364.7,236.4 366.5,237.0 366.6,237.2C366.7,237.4 366.4,239.9 366.3,240.0C366.1,240.1 364.3,239.6 364.3,239.4C364.2,239.2 364.6,236.5 364.6,236.4 M363.3,259.8C363.9,259.9 369.2,261.0 370.0,261.4C370.7,261.8 372.6,264.0 372.5,264.7C372.3,265.4 369.1,269.5 368.3,269.7C367.6,269.9 364.0,267.1 363.3,267.2C362.6,267.3 360.7,270.5 360.0,270.5C359.3,270.6 355.7,268.0 355.0,268.0C354.4,268.1 352.7,270.7 352.6,271.4C352.4,272.1 353.5,275.5 353.4,276.3C353.3,277.2 351.9,280.5 351.7,281.3C351.5,282.1 350.7,286.1 350.9,286.3C351.1,286.4 353.7,282.9 354.2,283.0C354.7,283.0 356.1,287.2 356.7,287.1C357.3,287.0 360.3,282.3 360.8,282.1C361.4,281.9 362.6,284.6 363.3,284.6C364.1,284.7 369.3,283.5 370.0,283.0C370.6,282.4 370.4,278.8 370.8,278.0C371.2,277.2 374.2,274.7 374.9,273.8C375.7,273.0 379.2,268.9 379.9,268.0C380.6,267.1 382.6,263.8 383.2,263.1C383.9,262.4 386.6,260.1 387.4,259.8C388.2,259.4 392.9,259.2 393.2,258.9C393.5,258.7 391.3,256.9 390.6,256.6C390.0,256.3 386.4,255.0 385.7,255.0C384.9,255.0 382.2,256.9 381.5,256.6C380.8,256.3 378.1,251.9 377.4,251.6C376.7,251.4 374.1,253.3 373.2,253.3C372.3,253.3 367.5,251.6 366.6,251.6C365.6,251.6 362.2,252.8 361.9,253.3C361.6,253.8 362.8,257.4 362.9,257.9C363.1,258.5 363.3,259.6 363.3,259.8 M365.8,202.4C365.8,202.3 367.3,200.5 367.4,200.7C367.6,200.9 368.4,206.5 368.6,206.5C368.7,206.6 370.6,201.5 370.7,201.6C370.9,201.6 371.6,206.9 371.6,207.4C371.5,207.8 369.3,210.6 369.1,210.7C368.8,210.8 366.7,209.4 366.6,209.0C366.4,208.6 365.8,202.7 365.8,202.4 M350.0,254.6C350.0,254.6 350.3,253.5 350.1,253.1C349.8,252.8 345.7,247.9 345.1,247.3C344.5,246.7 339.2,241.8 338.5,241.5C337.8,241.2 331.7,240.5 331.0,240.7C330.3,240.9 324.1,245.0 323.5,245.7C323.0,246.4 320.5,253.9 320.2,254.8C319.9,255.6 318.1,262.5 317.7,263.1C317.3,263.6 312.4,266.2 311.9,266.4C311.4,266.6 308.2,266.9 307.8,267.2C307.4,267.5 303.7,272.6 303.6,273.0C303.6,273.4 306.5,275.5 307.0,275.5C307.4,275.5 311.4,272.4 311.9,272.2C312.4,272.0 316.3,271.2 316.9,271.4C317.5,271.5 322.9,275.5 323.5,275.5C324.2,275.5 329.5,272.5 330.2,272.2C330.8,271.9 336.1,269.9 336.8,269.7C337.5,269.5 343.0,267.9 343.4,268.0C343.9,268.2 345.8,272.4 345.9,273.0C346.1,273.6 346.9,279.1 346.8,279.7C346.6,280.2 343.0,284.2 342.6,284.6C342.2,285.0 338.7,287.5 338.5,287.9C338.2,288.4 336.8,292.5 336.8,292.9C336.8,293.3 339.3,295.7 339.3,296.2C339.3,296.7 337.0,302.2 336.8,302.9C336.6,303.5 334.5,308.9 334.3,309.5C334.1,310.1 332.7,314.7 332.7,315.0C332.6,315.2 332.7,314.8 332.7,315.0C332.6,315.2 332.0,319.6 331.8,320.0C331.6,320.4 328.8,323.2 328.5,323.3C328.2,323.4 325.5,322.5 325.2,322.5C324.9,322.4 322.2,321.6 321.9,321.6C321.5,321.7 318.6,323.1 318.6,323.3C318.5,323.5 320.7,324.8 321.0,325.0C321.4,325.1 325.8,326.1 326.0,326.1 M320.2,268.9C320.4,268.8 324.1,268.2 324.4,268.4C324.6,268.5 325.0,271.5 324.9,271.7C324.7,271.9 321.3,272.3 321.0,272.2C320.8,272.0 320.3,269.0 320.2,268.9 M343.4,258.9C343.6,258.9 345.8,258.3 345.9,258.4C346.1,258.5 346.2,261.3 346.1,261.4C346.0,261.6 343.9,261.5 343.8,261.4C343.6,261.3 343.5,259.0 343.4,258.9 M299.5,226.6C299.8,226.5 304.6,225.0 305.3,224.9C306.0,224.8 312.3,224.0 312.8,224.1C313.2,224.2 313.7,227.1 313.6,227.4C313.4,227.7 309.9,229.7 309.4,229.9C308.9,230.1 304.1,232.3 303.6,232.4C303.2,232.5 300.5,231.8 300.3,231.6C300.1,231.3 299.5,226.8 299.5,226.6 M302.0,227.4C302.3,227.4 308.2,226.2 308.6,226.3C309.1,226.3 311.3,228.0 311.1,228.2C310.9,228.4 304.9,230.3 304.5,230.2C304.0,230.2 302.1,227.6 302.0,227.4 M324.4,221.6C324.5,221.7 327.4,222.3 327.7,222.4C328.0,222.6 330.2,225.1 330.2,225.3C330.1,225.4 327.1,225.1 326.9,224.9C326.6,224.7 324.5,221.8 324.4,221.6 M336.0,210.0C336.1,210.0 338.3,210.6 338.5,210.8C338.6,211.1 339.4,214.7 339.3,215.0C339.2,215.2 337.0,216.1 336.8,215.8C336.6,215.6 336.0,210.3 336.0,210.0 M348.4,210.0C348.5,210.0 350.3,210.5 350.4,210.8C350.5,211.1 351.0,216.1 350.9,216.3C350.8,216.6 348.9,216.1 348.7,215.8C348.6,215.5 348.4,210.3 348.4,210.0"/></g></g><circle cx="143.2" cy="248.3" r="141.8" fill="none" stroke="#222" stroke-width="1"/><circle cx="143.2" cy="248.3" r="7" fill="#fff"/><defs><clipPath id="cr"><circle cx="440.3" cy="248.8" r="141.8"/></clipPath></defs><g clip-path="url(#cr)"><rect x="296.5" y="105.0" width="287.6" height="287.6" fill="#7496EE"/><path d="M393.1,149.9C394.0,149.0 399.4,147.4 401.8,147.4C404.3,147.4 407.5,148.6 409.3,149.9C411.2,151.2 413.2,153.9 414.3,156.2C415.4,158.4 415.5,162.1 416.8,164.9C418.1,167.7 421.2,173.8 423.1,174.9C424.9,176.0 428.4,173.8 429.3,172.4C430.2,171.0 427.7,166.9 428.8,165.4C429.9,163.9 435.0,161.4 436.8,162.4C438.6,163.5 439.8,169.4 440.5,172.4C441.3,175.4 442.2,180.1 441.8,182.4C441.4,184.6 439.5,186.4 438.0,187.4C436.5,188.3 434.0,188.6 431.8,188.6C429.6,188.6 425.1,188.3 423.1,187.4C421.0,186.4 419.6,184.2 418.1,182.4C416.6,180.5 414.6,177.3 413.1,174.9C411.6,172.5 409.8,168.6 408.1,166.2C406.4,163.7 403.7,160.5 401.8,158.7C400.0,156.8 396.9,155.0 395.6,153.7C394.3,152.4 392.2,150.9 393.1,149.9Z" fill="#B0E0E6" stroke="#B0E0E6" stroke-width="0.4" stroke-linejoin="round"/><path d="M466.9,156.2C466.8,154.6 471.7,147.6 473.2,144.4C474.7,141.3 474.9,137.7 476.9,134.9C479.0,132.2 484.3,128.3 486.9,126.2C489.5,124.2 492.2,122.9 494.4,121.2C496.6,119.5 496.3,112.9 501.9,115.0C507.5,117.0 527.3,130.5 531.8,134.9C536.3,139.4 532.4,141.7 531.8,144.9C531.3,148.1 530.0,153.9 528.1,156.2C526.2,158.4 522.2,159.0 519.4,159.9C516.6,160.8 512.4,162.1 509.4,161.9C506.4,161.7 502.2,159.9 499.4,158.7C496.6,157.4 493.1,154.8 490.7,153.7C488.2,152.5 485.6,151.0 483.2,151.2C480.7,151.4 476.9,154.2 474.4,154.9C472.0,155.7 467.1,157.7 466.9,156.2Z" fill="#B0E0E6" stroke="#B0E0E6" stroke-width="0.4" stroke-linejoin="round"/><path d="M539.8,222.3C540.6,221.1 552.0,221.3 553.1,221.8C554.1,222.3 555.4,228.3 555.6,229.8C555.7,231.3 555.1,243.3 554.8,244.8C554.6,246.3 552.6,252.3 551.8,252.8C551.0,253.3 543.8,253.1 543.1,252.3C542.4,251.4 541.5,241.8 541.3,239.8C541.1,237.8 539.0,223.5 539.8,222.3Z" fill="#B0E0E6" stroke="#B0E0E6" stroke-width="0.4" stroke-linejoin="round"/><path d="M478.2,211.1C479.1,209.6 484.2,208.9 485.7,209.8C487.2,210.8 488.3,215.5 488.2,217.3C488.0,219.2 485.7,221.9 484.4,222.3C483.1,222.7 480.4,221.5 479.4,219.8C478.5,218.1 477.2,212.6 478.2,211.1Z" fill="#B0E0E6" stroke="#B0E0E6" stroke-width="0.4" stroke-linejoin="round"/><path d="M304.5,272.4C304.9,270.2 314.0,264.1 317.0,260.0C320.0,255.8 321.8,248.0 324.5,245.0C327.1,242.0 331.1,240.0 334.4,240.0C337.8,240.0 344.5,242.9 346.9,245.0C349.4,247.0 348.8,252.2 350.7,253.7C352.5,255.2 356.2,253.7 359.4,255.0C362.6,256.3 368.5,260.6 371.9,262.5C375.3,264.3 380.0,265.4 381.9,267.5C383.7,269.5 384.7,273.9 384.4,276.2C384.0,278.4 381.6,280.6 379.4,282.4C377.1,284.3 372.8,286.8 369.4,288.7C366.0,290.5 360.3,292.9 356.9,294.9C353.5,297.0 349.5,300.0 346.9,302.4C344.3,304.8 341.3,308.0 339.4,311.1C337.6,314.3 336.1,320.1 334.4,323.6C332.8,327.2 330.3,333.7 328.2,334.9C326.1,336.0 320.3,333.7 320.7,331.1C321.1,328.5 328.5,321.3 330.7,317.4C332.9,313.4 334.5,308.6 335.7,304.9C336.9,301.2 338.7,295.8 338.9,292.4C339.1,289.0 338.4,285.0 336.9,282.4C335.5,279.8 332.8,276.1 329.5,274.9C326.1,273.8 318.2,275.3 314.5,274.9C310.7,274.6 304.1,274.7 304.5,272.4Z" fill="#B0E0E6" stroke="#B0E0E6" stroke-width="0.4" stroke-linejoin="round"/><path d="M452.0,269.9C454.2,266.7 460.7,264.6 464.4,263.0C468.2,261.3 473.6,260.1 476.9,259.2C480.3,258.3 484.6,256.6 486.9,256.7C489.2,256.8 490.7,258.5 492.4,260.0C494.1,261.4 495.6,264.3 498.1,266.2C500.7,268.1 506.4,270.4 509.4,272.4C512.4,274.5 516.6,276.9 518.1,279.9C519.6,282.9 518.1,289.0 519.4,292.4C520.7,295.8 525.4,298.7 526.9,302.4C528.3,306.1 529.3,313.6 529.3,317.4C529.3,321.1 526.5,325.1 526.9,327.4C527.2,329.6 529.6,330.5 531.8,332.4C534.1,334.2 538.8,337.6 541.8,339.8C544.8,342.1 542.8,344.3 551.8,347.3C560.8,350.3 594.2,350.5 601.7,359.8C609.2,369.2 627.9,402.2 601.7,409.7C575.5,417.2 454.7,409.7 427.0,409.7C399.3,409.7 418.7,414.2 416.8,409.7C414.9,405.2 412.8,388.0 414.3,379.8C415.9,371.5 422.9,361.6 427.0,354.8C431.1,348.1 438.6,341.6 442.0,334.9C445.3,328.1 448.3,317.4 449.5,309.9C450.6,302.4 449.1,290.9 449.5,284.9C449.8,278.9 449.7,273.2 452.0,269.9Z" fill="#B0E0E6" stroke="#B0E0E6" stroke-width="0.4" stroke-linejoin="round"/><path d="M501.9,344.8C502.6,341.8 506.4,336.8 509.4,334.9C512.4,332.9 518.1,332.0 521.9,331.9C525.6,331.7 531.2,332.0 534.3,333.6C537.5,335.2 541.6,339.5 543.1,342.3C544.6,345.1 545.3,349.7 544.3,352.3C543.4,354.9 539.5,358.3 536.8,359.8C534.2,361.3 530.2,362.3 526.9,362.3C523.5,362.3 517.7,360.9 514.4,359.8C511.0,358.7 506.3,357.1 504.4,354.8C502.5,352.6 501.1,347.8 501.9,344.8Z" fill="#7496EE" stroke="#7496EE" stroke-width="0.4" stroke-linejoin="round"/><path d="M454.0,344.8C454.0,342.9 455.7,340.3 457.0,339.3C458.2,338.4 461.3,337.8 462.4,338.6C463.6,339.4 464.5,342.9 464.4,344.8C464.4,346.8 463.1,350.7 461.9,351.8C460.7,352.9 457.7,353.4 456.5,352.3C455.3,351.3 453.9,346.8 454.0,344.8Z" fill="#7496EE" stroke="#7496EE" stroke-width="0.4" stroke-linejoin="round"/><path d="M464.4,384.8C465.9,383.1 472.6,382.8 474.4,383.5C476.3,384.3 478.4,388.1 476.9,389.8C475.4,391.5 466.3,395.5 464.4,394.8C462.6,394.0 462.9,386.5 464.4,384.8Z" fill="#7496EE" stroke="#7496EE" stroke-width="0.4" stroke-linejoin="round"/><path d="M536.8,268.7C537.8,267.2 542.0,266.3 543.1,267.5C544.2,268.6 544.7,274.1 544.3,276.2C543.9,278.2 541.7,281.0 540.6,281.2C539.5,281.4 537.4,279.3 536.8,277.4C536.3,275.6 535.9,270.2 536.8,268.7Z" fill="#B0E0E6" stroke="#B0E0E6" stroke-width="0.4" stroke-linejoin="round"/><path d="M566.8,274.9C568.3,273.8 574.9,271.5 576.8,272.4C578.6,273.4 580.0,279.5 579.3,281.2C578.5,282.9 573.7,283.9 571.8,283.7C569.9,283.5 567.5,281.2 566.8,279.9C566.0,278.6 565.3,276.1 566.8,274.9Z" fill="#B0E0E6" stroke="#B0E0E6" stroke-width="0.4" stroke-linejoin="round"/><path d="M530.6,291.2C531.3,290.8 535.5,291.2 536.8,291.9C538.1,292.7 540.1,295.8 539.3,296.2C538.6,296.5 533.2,295.2 531.8,294.4C530.5,293.7 529.8,291.5 530.6,291.2Z" fill="#B0E0E6" stroke="#B0E0E6" stroke-width="0.4" stroke-linejoin="round"/><path d="M393.1,137.4C393.3,135.3 395.4,132.0 396.9,132.0C398.3,132.0 401.0,135.7 403.1,137.4C405.2,139.2 408.6,142.4 410.6,143.7C412.6,145.0 415.2,144.7 416.3,146.2C417.4,147.7 417.1,151.7 418.1,153.7C419.1,155.7 421.3,158.4 423.1,159.4C424.8,160.4 428.9,159.5 429.8,160.4C430.7,161.3 428.9,163.6 428.8,165.4C428.7,167.2 430.0,170.9 429.3,172.4C428.6,173.9 425.8,176.1 424.3,175.4C422.8,174.6 420.8,169.7 419.3,167.4C417.8,165.1 415.3,162.2 414.3,159.9C413.4,157.7 414.0,154.1 413.1,152.4C412.1,150.7 409.8,149.8 408.1,148.7C406.4,147.6 403.7,145.3 401.8,144.9C400.0,144.6 396.9,147.3 395.6,146.2C394.3,145.1 392.9,139.6 393.1,137.4Z" fill="#20B2AA" stroke="#20B2AA" stroke-width="0.4" stroke-linejoin="round"/><path d="M464.4,272.4C465.9,271.3 474.1,270.8 476.9,268.7C479.7,266.6 481.1,260.4 483.2,258.7C485.2,257.0 488.8,256.5 490.7,257.5C492.5,258.4 494.0,262.3 495.6,265.0C497.3,267.6 500.6,271.9 501.9,274.9C503.2,277.9 504.6,281.9 504.4,284.9C504.2,287.9 501.4,291.9 500.6,294.9C499.9,297.9 500.3,302.3 499.4,304.9C498.5,307.5 496.3,310.7 494.4,312.4C492.5,314.1 488.6,316.1 486.9,316.1C485.2,316.1 482.6,313.9 483.2,312.4C483.7,310.9 489.0,308.4 490.7,306.1C492.3,303.9 493.6,300.0 493.9,297.4C494.2,294.8 493.5,290.5 492.4,288.7C491.4,286.8 488.3,287.0 486.9,284.9C485.5,282.9 484.7,276.8 483.2,274.9C481.7,273.1 479.4,272.3 476.9,272.4C474.5,272.6 468.8,276.2 466.9,276.2C465.1,276.2 462.9,273.6 464.4,272.4Z" fill="#20B2AA" stroke="#20B2AA" stroke-width="0.4" stroke-linejoin="round"/><path d="M344.9,265.5C346.2,264.7 351.7,264.0 354.4,264.0C357.1,263.9 362.0,264.3 363.2,265.0C364.3,265.6 363.9,267.8 362.4,268.4C360.9,269.1 355.7,269.4 353.2,269.4C350.7,269.5 346.9,269.3 345.7,268.7C344.4,268.1 343.6,266.2 344.9,265.5Z" fill="#20B2AA" stroke="#20B2AA" stroke-width="0.4" stroke-linejoin="round"/><path d="M322.0,157.9C327.3,170.0 330.0,155.5 332.7,155.4C335.4,155.3 337.6,156.5 340.2,157.2C342.8,157.8 346.7,159.0 350.2,159.7C353.7,160.3 359.9,161.4 363.4,161.4C366.9,161.4 370.7,160.7 373.4,159.7C376.1,158.6 379.6,156.4 381.6,154.7C383.6,152.9 385.4,149.9 386.6,148.2C387.9,146.5 388.7,145.0 389.9,143.2C391.0,141.4 393.2,137.9 394.4,136.2C395.5,134.5 396.2,131.8 397.3,132.0C398.5,132.1 400.0,135.7 401.8,137.4C403.6,139.2 407.3,142.4 409.3,143.7C411.4,145.0 414.4,144.7 415.6,146.2C416.7,147.7 415.9,151.8 416.8,153.7C417.8,155.5 419.9,157.7 421.8,158.7C423.7,159.6 427.1,159.9 429.3,159.9C431.5,159.9 434.9,159.6 436.8,158.7C438.7,157.7 440.3,155.0 441.8,153.7C443.3,152.4 444.8,151.0 446.8,149.9C448.8,148.8 452.6,147.1 455.2,146.2C457.9,145.2 461.9,144.6 464.4,143.7C467.0,142.7 470.2,142.0 471.9,139.9C473.6,137.9 473.8,132.2 475.7,130.0C477.5,127.7 481.6,126.5 484.4,125.0C487.2,123.5 491.8,122.2 494.4,120.0C497.0,117.7 512.0,116.7 501.9,110.0C491.8,103.2 457.7,80.3 427.0,75.0C396.3,69.8 312.8,62.6 297.0,75.0C281.2,87.5 316.6,145.9 322.0,157.9Z" fill="none" stroke="#B0E0E6" stroke-width="13" stroke-linejoin="round"/><path d="M322.0,157.9C327.3,170.0 330.0,155.5 332.7,155.4C335.4,155.3 337.6,156.5 340.2,157.2C342.8,157.8 346.7,159.0 350.2,159.7C353.7,160.3 359.9,161.4 363.4,161.4C366.9,161.4 370.7,160.7 373.4,159.7C376.1,158.6 379.6,156.4 381.6,154.7C383.6,152.9 385.4,149.9 386.6,148.2C387.9,146.5 388.7,145.0 389.9,143.2C391.0,141.4 393.2,137.9 394.4,136.2C395.5,134.5 396.2,131.8 397.3,132.0C398.5,132.1 400.0,135.7 401.8,137.4C403.6,139.2 407.3,142.4 409.3,143.7C411.4,145.0 414.4,144.7 415.6,146.2C416.7,147.7 415.9,151.8 416.8,153.7C417.8,155.5 419.9,157.7 421.8,158.7C423.7,159.6 427.1,159.9 429.3,159.9C431.5,159.9 434.9,159.6 436.8,158.7C438.7,157.7 440.3,155.0 441.8,153.7C443.3,152.4 444.8,151.0 446.8,149.9C448.8,148.8 452.6,147.1 455.2,146.2C457.9,145.2 461.9,144.6 464.4,143.7C467.0,142.7 470.2,142.0 471.9,139.9C473.6,137.9 473.8,132.2 475.7,130.0C477.5,127.7 481.6,126.5 484.4,125.0C487.2,123.5 491.8,122.2 494.4,120.0C497.0,117.7 512.0,116.7 501.9,110.0C491.8,103.2 457.7,80.3 427.0,75.0C396.3,69.8 312.8,62.6 297.0,75.0C281.2,87.5 316.6,145.9 322.0,157.9Z" fill="none" stroke="#20B2AA" stroke-width="8" stroke-linejoin="round"/><path d="M322.0,157.9C327.3,170.0 330.0,155.5 332.7,155.4C335.4,155.3 337.6,156.5 340.2,157.2C342.8,157.8 346.7,159.0 350.2,159.7C353.7,160.3 359.9,161.4 363.4,161.4C366.9,161.4 370.7,160.7 373.4,159.7C376.1,158.6 379.6,156.4 381.6,154.7C383.6,152.9 385.4,149.9 386.6,148.2C387.9,146.5 388.7,145.0 389.9,143.2C391.0,141.4 393.2,137.9 394.4,136.2C395.5,134.5 396.2,131.8 397.3,132.0C398.5,132.1 400.0,135.7 401.8,137.4C403.6,139.2 407.3,142.4 409.3,143.7C411.4,145.0 414.4,144.7 415.6,146.2C416.7,147.7 415.9,151.8 416.8,153.7C417.8,155.5 419.9,157.7 421.8,158.7C423.7,159.6 427.1,159.9 429.3,159.9C431.5,159.9 434.9,159.6 436.8,158.7C438.7,157.7 440.3,155.0 441.8,153.7C443.3,152.4 444.8,151.0 446.8,149.9C448.8,148.8 452.6,147.1 455.2,146.2C457.9,145.2 461.9,144.6 464.4,143.7C467.0,142.7 470.2,142.0 471.9,139.9C473.6,137.9 473.8,132.2 475.7,130.0C477.5,127.7 481.6,126.5 484.4,125.0C487.2,123.5 491.8,122.2 494.4,120.0C497.0,117.7 512.0,116.7 501.9,110.0C491.8,103.2 457.7,80.3 427.0,75.0C396.3,69.8 312.8,62.6 297.0,75.0C281.2,87.5 316.6,145.9 322.0,157.9Z" fill="#BCEE68" stroke="#BCEE68" stroke-width="0.4" stroke-linejoin="round"/><path d="M495.6,121.2C497.0,119.9 499.8,122.4 501.9,123.7C503.9,125.0 506.8,128.3 509.4,130.0C512.0,131.6 518.2,133.4 519.4,134.9C520.5,136.4 518.0,137.7 516.9,139.9C515.7,142.2 513.4,147.9 511.9,149.9C510.4,152.0 508.6,153.5 506.9,153.7C505.2,153.9 502.3,152.5 500.6,151.2C499.0,149.9 496.8,147.7 495.6,144.9C494.5,142.1 493.2,136.0 493.2,132.5C493.2,128.9 494.3,122.5 495.6,121.2Z" fill="none" stroke="#20B2AA" stroke-width="5" stroke-linejoin="round"/><path d="M495.6,121.2C497.0,119.9 499.8,122.4 501.9,123.7C503.9,125.0 506.8,128.3 509.4,130.0C512.0,131.6 518.2,133.4 519.4,134.9C520.5,136.4 518.0,137.7 516.9,139.9C515.7,142.2 513.4,147.9 511.9,149.9C510.4,152.0 508.6,153.5 506.9,153.7C505.2,153.9 502.3,152.5 500.6,151.2C499.0,149.9 496.8,147.7 495.6,144.9C494.5,142.1 493.2,136.0 493.2,132.5C493.2,128.9 494.3,122.5 495.6,121.2Z" fill="#BCEE68" stroke="#BCEE68" stroke-width="0.4" stroke-linejoin="round"/><path d="M504.4,125.0C505.6,124.8 511.5,129.3 511.9,131.2C512.2,133.1 508.1,137.3 506.9,137.4C505.7,137.6 504.3,134.3 503.9,132.5C503.5,130.6 503.2,125.1 504.4,125.0Z" fill="#93BB35" stroke="#93BB35" stroke-width="0.4" stroke-linejoin="round"/><path d="M438.2,133.7C438.0,133.2 442.4,132.0 444.5,132.0C446.5,131.9 451.8,132.7 452.0,133.2C452.1,133.7 447.8,135.4 445.7,135.4C443.7,135.5 438.4,134.2 438.2,133.7Z" fill="#93BB35" stroke="#93BB35" stroke-width="0.4" stroke-linejoin="round"/><path d="M438.0,133.7C438.2,133.1 444.7,132.0 446.8,132.0C448.8,132.0 452.0,133.1 451.8,133.7C451.6,134.3 447.6,135.7 445.5,135.7C443.5,135.7 437.9,134.3 438.0,133.7Z" fill="#93BB35" stroke="#93BB35" stroke-width="0.4" stroke-linejoin="round"/><path d="M328.2,333.6C333.8,320.5 332.8,325.9 334.4,322.4C336.1,318.8 337.6,313.1 339.4,309.9C341.3,306.7 344.3,303.6 346.9,301.2C349.5,298.7 353.5,295.2 356.9,293.7C360.3,292.2 367.1,290.6 369.4,291.2C371.6,291.7 372.6,295.0 371.9,297.4C371.1,299.8 366.0,304.4 364.4,307.4C362.8,310.4 361.4,314.6 361.4,317.4C361.4,320.2 362.5,325.4 364.4,326.1C366.3,326.9 371.0,323.5 374.4,322.4C377.8,321.2 383.5,319.0 386.9,318.6C390.2,318.3 393.9,319.5 396.9,319.9C399.8,320.2 403.8,321.3 406.8,321.1C409.8,320.9 414.2,320.3 416.8,318.6C419.4,316.9 422.4,313.1 424.3,309.9C426.2,306.7 428.0,301.2 429.3,297.4C430.6,293.7 431.5,287.4 433.0,284.9C434.5,282.5 437.2,281.9 439.3,281.2C441.3,280.4 444.4,280.5 446.8,279.9C449.2,279.4 452.6,278.2 455.2,277.4C457.9,276.7 461.2,276.1 464.4,274.9C467.7,273.8 474.5,270.3 476.9,269.9C479.4,269.6 479.2,270.2 480.7,272.4C482.2,274.7 484.9,282.3 486.9,284.9C489.0,287.5 493.5,287.3 494.4,289.9C495.3,292.5 494.3,299.8 493.2,302.4C492.0,305.0 489.3,306.5 486.9,307.4C484.5,308.3 479.9,308.3 476.9,308.6C473.9,309.0 469.4,308.6 466.9,309.9C464.5,311.2 462.2,314.8 460.7,317.4C459.2,320.0 458.3,324.0 457.0,327.4C455.6,330.7 453.1,336.5 452.0,339.8C450.8,343.2 449.7,346.8 449.5,349.8C449.3,352.8 450.9,356.8 450.7,359.8C450.5,362.8 449.2,367.7 448.2,369.8C447.3,371.9 446.2,375.0 444.5,373.5C442.8,372.0 438.9,362.2 437.0,359.8C435.1,357.4 433.5,357.3 432.0,357.3C430.5,357.3 428.5,357.9 427.0,359.8C425.5,361.7 423.0,366.8 421.8,369.8C420.7,372.8 419.3,377.2 419.3,379.8C419.3,382.4 422.2,382.8 421.8,387.3C421.4,391.8 435.5,406.4 416.8,409.7C398.1,413.1 310.3,421.2 297.0,409.7C283.7,398.3 322.6,346.7 328.2,333.6Z" fill="none" stroke="#B0E0E6" stroke-width="14" stroke-linejoin="round"/><path d="M328.2,333.6C333.8,320.5 332.8,325.9 334.4,322.4C336.1,318.8 337.6,313.1 339.4,309.9C341.3,306.7 344.3,303.6 346.9,301.2C349.5,298.7 353.5,295.2 356.9,293.7C360.3,292.2 367.1,290.6 369.4,291.2C371.6,291.7 372.6,295.0 371.9,297.4C371.1,299.8 366.0,304.4 364.4,307.4C362.8,310.4 361.4,314.6 361.4,317.4C361.4,320.2 362.5,325.4 364.4,326.1C366.3,326.9 371.0,323.5 374.4,322.4C377.8,321.2 383.5,319.0 386.9,318.6C390.2,318.3 393.9,319.5 396.9,319.9C399.8,320.2 403.8,321.3 406.8,321.1C409.8,320.9 414.2,320.3 416.8,318.6C419.4,316.9 422.4,313.1 424.3,309.9C426.2,306.7 428.0,301.2 429.3,297.4C430.6,293.7 431.5,287.4 433.0,284.9C434.5,282.5 437.2,281.9 439.3,281.2C441.3,280.4 444.4,280.5 446.8,279.9C449.2,279.4 452.6,278.2 455.2,277.4C457.9,276.7 461.2,276.1 464.4,274.9C467.7,273.8 474.5,270.3 476.9,269.9C479.4,269.6 479.2,270.2 480.7,272.4C482.2,274.7 484.9,282.3 486.9,284.9C489.0,287.5 493.5,287.3 494.4,289.9C495.3,292.5 494.3,299.8 493.2,302.4C492.0,305.0 489.3,306.5 486.9,307.4C484.5,308.3 479.9,308.3 476.9,308.6C473.9,309.0 469.4,308.6 466.9,309.9C464.5,311.2 462.2,314.8 460.7,317.4C459.2,320.0 458.3,324.0 457.0,327.4C455.6,330.7 453.1,336.5 452.0,339.8C450.8,343.2 449.7,346.8 449.5,349.8C449.3,352.8 450.9,356.8 450.7,359.8C450.5,362.8 449.2,367.7 448.2,369.8C447.3,371.9 446.2,375.0 444.5,373.5C442.8,372.0 438.9,362.2 437.0,359.8C435.1,357.4 433.5,357.3 432.0,357.3C430.5,357.3 428.5,357.9 427.0,359.8C425.5,361.7 423.0,366.8 421.8,369.8C420.7,372.8 419.3,377.2 419.3,379.8C419.3,382.4 422.2,382.8 421.8,387.3C421.4,391.8 435.5,406.4 416.8,409.7C398.1,413.1 310.3,421.2 297.0,409.7C283.7,398.3 322.6,346.7 328.2,333.6Z" fill="none" stroke="#20B2AA" stroke-width="9.5" stroke-linejoin="round"/><path d="M328.2,333.6C333.8,320.5 332.8,325.9 334.4,322.4C336.1,318.8 337.6,313.1 339.4,309.9C341.3,306.7 344.3,303.6 346.9,301.2C349.5,298.7 353.5,295.2 356.9,293.7C360.3,292.2 367.1,290.6 369.4,291.2C371.6,291.7 372.6,295.0 371.9,297.4C371.1,299.8 366.0,304.4 364.4,307.4C362.8,310.4 361.4,314.6 361.4,317.4C361.4,320.2 362.5,325.4 364.4,326.1C366.3,326.9 371.0,323.5 374.4,322.4C377.8,321.2 383.5,319.0 386.9,318.6C390.2,318.3 393.9,319.5 396.9,319.9C399.8,320.2 403.8,321.3 406.8,321.1C409.8,320.9 414.2,320.3 416.8,318.6C419.4,316.9 422.4,313.1 424.3,309.9C426.2,306.7 428.0,301.2 429.3,297.4C430.6,293.7 431.5,287.4 433.0,284.9C434.5,282.5 437.2,281.9 439.3,281.2C441.3,280.4 444.4,280.5 446.8,279.9C449.2,279.4 452.6,278.2 455.2,277.4C457.9,276.7 461.2,276.1 464.4,274.9C467.7,273.8 474.5,270.3 476.9,269.9C479.4,269.6 479.2,270.2 480.7,272.4C482.2,274.7 484.9,282.3 486.9,284.9C489.0,287.5 493.5,287.3 494.4,289.9C495.3,292.5 494.3,299.8 493.2,302.4C492.0,305.0 489.3,306.5 486.9,307.4C484.5,308.3 479.9,308.3 476.9,308.6C473.9,309.0 469.4,308.6 466.9,309.9C464.5,311.2 462.2,314.8 460.7,317.4C459.2,320.0 458.3,324.0 457.0,327.4C455.6,330.7 453.1,336.5 452.0,339.8C450.8,343.2 449.7,346.8 449.5,349.8C449.3,352.8 450.9,356.8 450.7,359.8C450.5,362.8 449.2,367.7 448.2,369.8C447.3,371.9 446.2,375.0 444.5,373.5C442.8,372.0 438.9,362.2 437.0,359.8C435.1,357.4 433.5,357.3 432.0,357.3C430.5,357.3 428.5,357.9 427.0,359.8C425.5,361.7 423.0,366.8 421.8,369.8C420.7,372.8 419.3,377.2 419.3,379.8C419.3,382.4 422.2,382.8 421.8,387.3C421.4,391.8 435.5,406.4 416.8,409.7C398.1,413.1 310.3,421.2 297.0,409.7C283.7,398.3 322.6,346.7 328.2,333.6Z" fill="#BCEE68" stroke="#BCEE68" stroke-width="0.4" stroke-linejoin="round"/><path d="M403.1,327.4C403.6,325.7 406.0,323.0 408.1,322.4C410.1,321.7 414.8,321.9 416.8,322.9C418.9,323.8 421.4,326.8 421.8,328.6C422.2,330.4 421.0,333.5 419.3,334.9C417.6,336.2 412.8,337.5 410.6,337.3C408.4,337.2 406.0,335.1 404.8,333.6C403.7,332.1 402.6,329.0 403.1,327.4Z" fill="#20B2AA" stroke="#20B2AA" stroke-width="0.4" stroke-linejoin="round"/><path d="M414.3,384.8C414.7,381.8 415.7,377.4 416.8,374.8C417.9,372.2 420.3,369.5 421.8,367.3C423.3,365.1 425.1,361.1 426.8,359.8C428.5,358.5 431.5,357.8 433.0,358.6C434.5,359.3 436.0,362.4 436.8,364.8C437.5,367.2 437.3,371.8 438.0,374.8C438.8,377.8 440.8,381.8 441.8,384.8C442.7,387.8 448.4,393.3 444.3,394.8C440.2,396.3 418.8,396.3 414.3,394.8C409.8,393.3 413.9,387.8 414.3,384.8Z" fill="#20B2AA" stroke="#20B2AA" stroke-width="0.4" stroke-linejoin="round"/><path d="M426.8,382.3C427.0,379.7 429.4,376.1 430.5,374.8C431.7,373.5 433.9,372.6 434.8,373.5C435.7,374.5 435.9,378.4 436.8,381.0C437.7,383.7 441.7,389.3 440.5,391.0C439.4,392.7 431.4,393.6 429.3,392.3C427.2,391.0 426.6,384.9 426.8,382.3Z" fill="#B0E0E6" stroke="#B0E0E6" stroke-width="0.4" stroke-linejoin="round"/><path d="M439.5,292.4C441.0,289.8 444.0,286.4 447.0,284.9C450.0,283.4 455.0,283.0 459.5,282.4C463.9,281.9 473.0,280.4 476.9,281.2C480.9,281.9 483.8,285.0 485.7,287.4C487.5,289.9 489.8,294.8 489.4,297.4C489.0,300.0 486.2,303.4 483.2,304.9C480.2,306.4 473.0,306.3 469.4,307.4C465.9,308.5 461.7,310.1 459.5,312.4C457.2,314.6 456.3,319.4 454.5,322.4C452.6,325.4 449.6,330.5 447.0,332.4C444.3,334.2 439.4,335.6 437.0,334.9C434.6,334.1 431.5,330.4 430.7,327.4C430.0,324.4 431.1,318.6 432.0,314.9C432.9,311.1 435.9,305.8 437.0,302.4C438.1,299.0 438.0,295.0 439.5,292.4Z" fill="#93BB35" stroke="#93BB35" stroke-width="0.4" stroke-linejoin="round"/><path d="M389.4,382.3C390.1,381.0 394.6,378.5 396.9,378.5C399.1,378.5 404.0,381.0 404.3,382.3C404.7,383.6 401.2,386.5 399.3,387.3C397.5,388.0 393.4,388.0 391.9,387.3C390.4,386.5 388.6,383.6 389.4,382.3Z" fill="#93BB35" stroke="#93BB35" stroke-width="0.4" stroke-linejoin="round"/><path d="M452.0,165.4C452.6,165.2 462.4,166.2 464.4,166.2C466.5,166.1 475.3,165.1 476.9,164.9C478.6,164.7 482.5,163.4 484.4,163.7C486.3,163.9 496.8,166.8 499.4,167.4C502.0,168.0 514.5,169.9 515.6,171.1C516.8,172.4 513.8,180.4 513.1,182.4C512.4,184.4 508.0,193.0 506.9,194.9C505.7,196.7 500.6,204.5 499.4,204.8C498.1,205.2 493.2,199.4 491.9,198.6C490.7,197.8 485.8,195.1 484.4,194.9C483.1,194.6 476.1,196.8 475.7,196.1C475.3,195.4 479.3,187.9 479.4,186.1C479.5,184.4 477.8,176.2 476.9,174.9C476.1,173.5 471.1,170.4 469.4,169.9C467.8,169.4 458.4,169.0 457.0,168.6C455.5,168.3 451.3,165.6 452.0,165.4Z" fill="#4169E1" stroke="#4169E1" stroke-width="0.4" stroke-linejoin="round"/><path d="M521.9,172.4C522.0,171.4 525.9,168.1 526.9,167.9C527.8,167.7 532.4,168.9 533.1,169.9C533.8,170.9 535.1,178.5 535.6,179.9C536.1,181.2 538.2,185.3 539.3,186.1C540.5,187.0 547.9,188.7 549.3,189.9C550.8,191.0 556.6,198.6 556.8,199.9C557.0,201.1 552.6,204.3 551.8,204.8C551.0,205.4 547.8,206.5 546.8,206.1C545.9,205.7 541.5,201.1 540.6,199.9C539.6,198.6 536.3,192.4 535.6,191.1C534.9,189.9 532.7,185.8 531.8,184.9C531.0,183.9 526.4,180.9 525.6,179.9C524.8,178.8 521.8,173.4 521.9,172.4Z" fill="#4169E1" stroke="#4169E1" stroke-width="0.4" stroke-linejoin="round"/><path d="M566.8,217.3C568.5,215.8 571.3,214.5 574.3,214.8C577.3,215.2 584.9,213.3 586.8,219.8C588.6,226.3 587.9,252.3 586.8,258.0C585.6,263.7 581.7,259.2 579.3,258.0C576.8,256.8 572.8,253.3 570.5,249.8C568.3,246.3 565.4,238.5 564.3,234.8C563.2,231.1 562.7,227.4 563.0,224.8C563.4,222.2 565.1,218.8 566.8,217.3Z" fill="#4169E1" stroke="#4169E1" stroke-width="0.4" stroke-linejoin="round"/><path d="M318.2,174.9C322.3,173.0 328.3,172.5 334.4,172.4C340.6,172.3 352.7,174.8 359.4,174.4C366.1,173.9 374.3,170.7 379.4,169.4C384.4,168.0 390.0,165.5 393.1,165.4C396.2,165.3 399.3,167.2 399.8,168.6C400.4,170.1 398.4,173.2 396.9,174.9C395.3,176.6 391.4,178.0 389.4,179.9C387.3,181.8 385.7,185.1 383.1,187.4C380.5,189.6 375.4,194.1 371.9,194.9C368.3,195.6 363.9,193.3 359.4,192.4C354.9,191.4 346.8,188.6 341.9,188.6C337.1,188.6 331.4,191.2 327.0,192.4C322.5,193.5 315.0,197.2 312.0,196.1C309.0,195.0 306.0,188.1 307.0,184.9C307.9,181.7 314.1,176.8 318.2,174.9Z" fill="#4169E1" stroke="#4169E1" stroke-width="0.4" stroke-linejoin="round"/><path d="M395.6,177.4C396.4,175.9 399.6,174.5 401.8,174.9C404.1,175.3 409.5,178.0 410.6,179.9C411.7,181.8 410.6,185.9 409.3,187.4C408.0,188.9 403.7,190.2 401.8,189.9C400.0,189.5 397.8,186.7 396.9,184.9C395.9,183.0 394.9,178.9 395.6,177.4Z" fill="#7496EE" stroke="#7496EE" stroke-width="0.4" stroke-linejoin="round"/><path d="M369.4,262.5C369.8,260.8 376.0,259.5 379.4,258.7C382.7,258.0 389.2,256.9 391.9,257.5C394.5,258.0 396.3,260.2 396.9,262.5C397.4,264.7 396.2,269.4 395.6,272.4C395.0,275.4 394.4,279.8 393.1,282.4C391.8,285.0 388.6,287.9 386.9,289.9C385.2,292.0 383.7,294.5 381.9,296.2C380.0,297.8 376.3,301.3 374.4,301.2C372.5,301.0 369.8,297.3 369.4,294.9C369.0,292.5 370.4,287.5 371.9,284.9C373.4,282.3 378.6,279.7 379.4,277.4C380.1,275.2 378.4,272.2 376.9,269.9C375.4,267.7 369.0,264.1 369.4,262.5Z" fill="#B0E0E6" stroke="#B0E0E6" stroke-width="0.4" stroke-linejoin="round"/><path d="M370.6,282.9C371.6,281.5 376.8,279.2 379.4,278.7C382.0,278.2 387.0,278.3 388.1,279.4C389.2,280.6 388.0,284.8 386.9,286.2C385.7,287.6 382.7,288.4 380.6,288.7C378.6,288.9 374.6,288.8 373.1,287.9C371.6,287.1 369.7,284.3 370.6,282.9Z" fill="#20B2AA" stroke="#20B2AA" stroke-width="0.4" stroke-linejoin="round"/><path d="M370.6,313.6C370.6,311.8 372.7,307.3 374.4,304.9C376.1,302.5 379.4,299.8 381.9,297.4C384.3,295.0 388.4,291.3 390.6,288.7C392.9,286.0 395.2,283.1 396.9,279.9C398.5,276.7 400.2,270.3 401.8,267.5C403.5,264.6 405.8,262.3 408.1,261.2C410.3,260.1 414.0,259.6 416.8,260.0C419.6,260.3 424.6,261.8 426.8,263.7C429.1,265.6 431.2,269.6 431.8,272.4C432.4,275.3 431.5,279.4 430.5,282.4C429.6,285.4 427.2,289.4 425.6,292.4C423.9,295.4 421.2,299.8 419.3,302.4C417.4,305.0 415.3,308.2 413.1,309.9C410.8,311.6 407.1,312.9 404.3,313.6C401.5,314.4 397.7,314.6 394.4,314.9C391.0,315.1 384.9,315.0 381.9,315.4C378.9,315.8 376.1,317.6 374.4,317.4C372.7,317.1 370.6,315.5 370.6,313.6Z" fill="none" stroke="#B0E0E6" stroke-width="11" stroke-linejoin="round"/><path d="M370.6,313.6C370.6,311.8 372.7,307.3 374.4,304.9C376.1,302.5 379.4,299.8 381.9,297.4C384.3,295.0 388.4,291.3 390.6,288.7C392.9,286.0 395.2,283.1 396.9,279.9C398.5,276.7 400.2,270.3 401.8,267.5C403.5,264.6 405.8,262.3 408.1,261.2C410.3,260.1 414.0,259.6 416.8,260.0C419.6,260.3 424.6,261.8 426.8,263.7C429.1,265.6 431.2,269.6 431.8,272.4C432.4,275.3 431.5,279.4 430.5,282.4C429.6,285.4 427.2,289.4 425.6,292.4C423.9,295.4 421.2,299.8 419.3,302.4C417.4,305.0 415.3,308.2 413.1,309.9C410.8,311.6 407.1,312.9 404.3,313.6C401.5,314.4 397.7,314.6 394.4,314.9C391.0,315.1 384.9,315.0 381.9,315.4C378.9,315.8 376.1,317.6 374.4,317.4C372.7,317.1 370.6,315.5 370.6,313.6Z" fill="none" stroke="#7496EE" stroke-width="7.5" stroke-linejoin="round"/><path d="M370.6,313.6C370.6,311.8 372.7,307.3 374.4,304.9C376.1,302.5 379.4,299.8 381.9,297.4C384.3,295.0 388.4,291.3 390.6,288.7C392.9,286.0 395.2,283.1 396.9,279.9C398.5,276.7 400.2,270.3 401.8,267.5C403.5,264.6 405.8,262.3 408.1,261.2C410.3,260.1 414.0,259.6 416.8,260.0C419.6,260.3 424.6,261.8 426.8,263.7C429.1,265.6 431.2,269.6 431.8,272.4C432.4,275.3 431.5,279.4 430.5,282.4C429.6,285.4 427.2,289.4 425.6,292.4C423.9,295.4 421.2,299.8 419.3,302.4C417.4,305.0 415.3,308.2 413.1,309.9C410.8,311.6 407.1,312.9 404.3,313.6C401.5,314.4 397.7,314.6 394.4,314.9C391.0,315.1 384.9,315.0 381.9,315.4C378.9,315.8 376.1,317.6 374.4,317.4C372.7,317.1 370.6,315.5 370.6,313.6Z" fill="none" stroke="#4169E1" stroke-width="4" stroke-linejoin="round"/><path d="M370.6,313.6C370.6,311.8 372.7,307.3 374.4,304.9C376.1,302.5 379.4,299.8 381.9,297.4C384.3,295.0 388.4,291.3 390.6,288.7C392.9,286.0 395.2,283.1 396.9,279.9C398.5,276.7 400.2,270.3 401.8,267.5C403.5,264.6 405.8,262.3 408.1,261.2C410.3,260.1 414.0,259.6 416.8,260.0C419.6,260.3 424.6,261.8 426.8,263.7C429.1,265.6 431.2,269.6 431.8,272.4C432.4,275.3 431.5,279.4 430.5,282.4C429.6,285.4 427.2,289.4 425.6,292.4C423.9,295.4 421.2,299.8 419.3,302.4C417.4,305.0 415.3,308.2 413.1,309.9C410.8,311.6 407.1,312.9 404.3,313.6C401.5,314.4 397.7,314.6 394.4,314.9C391.0,315.1 384.9,315.0 381.9,315.4C378.9,315.8 376.1,317.6 374.4,317.4C372.7,317.1 370.6,315.5 370.6,313.6Z" fill="#0000CD" stroke="#0000CD" stroke-width="0.4" stroke-linejoin="round"/><path d="M376.4,307.4C375.8,305.9 379.6,302.3 381.9,300.4C384.2,298.5 389.4,296.8 391.9,294.4C394.3,292.0 396.4,287.4 398.1,284.4C399.8,281.4 401.7,277.2 403.1,274.4C404.5,271.7 405.6,267.3 407.3,266.2C409.1,265.1 412.7,265.8 414.8,267.0C417.0,268.1 420.5,271.4 421.8,273.7C423.1,276.0 423.8,279.7 423.3,282.4C422.8,285.2 420.0,289.1 418.3,291.9C416.6,294.7 413.7,298.4 411.8,300.9C409.9,303.4 407.8,306.9 405.6,308.4C403.3,309.9 399.8,310.8 396.9,311.1C393.9,311.5 388.7,311.2 385.6,310.6C382.5,310.1 376.9,308.9 376.4,307.4Z" fill="#9370DB" stroke="#9370DB" stroke-width="0.4" stroke-linejoin="round"/><path d="M395.6,229.8C396.2,226.4 395.9,216.6 396.9,212.3C397.8,208.0 399.6,203.3 401.8,201.1C404.1,198.9 408.1,198.5 411.8,197.4C415.6,196.2 422.3,194.4 426.8,193.6C431.3,192.9 437.5,192.5 441.8,192.4C446.0,192.2 452.9,192.5 455.2,192.9C457.5,193.2 456.3,193.1 457.0,194.9C457.6,196.7 458.3,202.2 459.5,204.8C460.6,207.5 462.8,209.7 464.4,212.3C466.1,215.0 469.2,219.7 470.7,222.3C472.2,224.9 474.4,227.2 474.4,229.8C474.4,232.4 472.2,237.2 470.7,239.8C469.2,242.4 466.1,245.0 464.4,247.3C462.8,249.5 459.5,255.1 459.5,254.8C459.5,254.4 464.4,244.6 464.4,245.0C464.4,245.4 461.3,254.5 459.5,257.5C457.6,260.5 454.6,263.1 452.0,265.0C449.3,266.8 444.6,268.6 442.0,269.9C439.4,271.3 436.8,272.8 434.5,273.7C432.2,274.6 429.1,276.4 426.8,276.2C424.5,276.0 421.2,273.8 419.3,272.4C417.4,271.1 415.6,269.3 414.3,267.5C413.0,265.6 411.7,261.8 410.6,260.0C409.5,258.1 408.5,256.5 406.8,255.0C405.2,253.5 401.2,251.8 399.3,250.0C397.5,248.1 395.3,244.8 394.4,242.5C393.4,240.2 392.9,236.7 393.1,234.8C393.3,232.9 395.0,233.2 395.6,229.8Z" fill="#4169E1" stroke="#4169E1" stroke-width="0.4" stroke-linejoin="round"/><path d="M366.9,224.8C368.5,221.0 369.6,217.1 371.9,214.8C374.1,212.6 379.1,210.6 381.9,209.8C384.7,209.1 388.0,208.7 390.6,209.8C393.2,211.0 398.6,213.6 399.3,217.3C400.1,221.1 396.0,231.0 395.6,234.8C395.2,238.6 396.3,239.8 396.9,242.5C397.4,245.1 399.9,249.3 399.3,252.5C398.8,255.7 395.7,261.6 393.1,263.7C390.5,265.8 385.2,266.6 381.9,266.2C378.5,265.8 373.6,263.5 370.6,261.2C367.7,259.0 363.8,254.4 362.4,251.2C361.0,248.0 360.7,244.0 361.4,240.0C362.1,236.0 365.3,228.6 366.9,224.8Z" fill="#4169E1" stroke="#4169E1" stroke-width="0.4" stroke-linejoin="round"/><path d="M312.0,292.4C312.5,289.8 317.2,286.7 319.5,286.2C321.7,285.6 325.5,287.0 327.0,288.7C328.5,290.4 329.8,295.0 329.5,297.4C329.1,299.8 326.5,304.0 324.5,304.9C322.4,305.8 317.6,305.5 315.7,303.6C313.8,301.8 311.4,295.0 312.0,292.4Z" fill="#4169E1" stroke="#4169E1" stroke-width="0.4" stroke-linejoin="round"/><path d="M403.1,218.6C404.4,215.9 407.0,211.4 410.6,209.3C414.1,207.3 422.8,205.3 426.8,204.8C430.8,204.4 434.1,205.5 437.0,206.1C439.8,206.7 444.0,206.9 445.7,208.6C447.4,210.3 447.3,214.9 448.2,217.3C449.2,219.8 450.5,222.9 452.0,224.8C453.5,226.7 457.5,227.6 458.2,229.8C459.0,232.1 457.7,237.2 457.0,239.8C456.2,242.4 454.5,245.8 453.2,247.3C451.9,248.8 449.5,248.2 448.2,249.8C446.9,251.4 444.8,256.5 444.5,258.0C444.1,259.5 444.6,261.2 445.7,260.0C446.8,258.8 451.8,250.7 452.0,250.0C452.1,249.2 448.5,253.1 447.0,255.0C445.5,256.8 443.8,260.8 442.0,262.5C440.1,264.1 436.8,265.3 434.5,266.2C432.2,267.1 428.7,269.3 426.8,268.7C424.9,268.1 423.3,263.8 421.8,262.5C420.3,261.1 417.9,261.1 416.8,260.0C415.7,258.8 415.4,256.5 414.3,255.0C413.2,253.5 410.5,251.8 409.3,250.0C408.2,248.1 407.6,244.8 406.8,242.5C406.1,240.2 405.1,237.1 404.3,234.8C403.6,232.5 402.0,229.7 401.8,227.3C401.7,224.9 401.8,221.3 403.1,218.6Z" fill="#0000CD" stroke="#0000CD" stroke-width="0.4" stroke-linejoin="round"/><path d="M317.0,183.6 L322.0,181.9 L323.2,186.1 L318.2,187.9Z" fill="#0000CD" stroke="#0000CD" stroke-width="0.4" stroke-linejoin="round"/><path d="M346.4,179.4 L356.4,183.6 L354.9,186.1 L345.7,181.9Z" fill="#0000CD" stroke="#0000CD" stroke-width="0.4" stroke-linejoin="round"/><path d="M573.0,227.8 L580.5,228.6 L580.5,230.3 L573.0,229.8Z" fill="#0000CD" stroke="#0000CD" stroke-width="0.4" stroke-linejoin="round"/><line x1="439.7" y1="276.8" x2="439.7" y2="390.6" stroke="#fff" stroke-opacity="0.22" stroke-width="0.7"/><g transform="translate(0.00,0.00)" fill="none" stroke="#000" stroke-width="1.1" stroke-linejoin="round" stroke-linecap="round"><path d="M325.2,163.4C325.4,163.3 329.6,162.1 330.2,162.2C330.7,162.3 335.4,164.6 336.0,164.7C336.5,164.8 340.4,163.3 340.9,163.4C341.5,163.5 346.1,167.0 346.8,167.2C347.4,167.4 352.7,167.9 353.4,168.0C354.1,168.1 360.2,168.9 360.8,168.8C361.5,168.8 366.0,167.4 366.7,167.2C367.3,167.0 372.6,165.2 373.3,165.0C373.9,164.8 379.3,163.2 379.9,163.0C380.5,162.9 384.5,161.6 384.9,161.4C385.3,161.1 387.1,158.4 387.4,158.1C387.6,157.7 389.7,155.1 389.9,154.8C390.0,154.4 390.8,151.7 390.7,151.4C390.6,151.2 388.4,150.0 388.2,149.8C388.1,149.5 387.8,146.7 387.9,146.5C388.0,146.2 389.6,144.3 389.9,144.0C390.1,143.7 392.1,141.0 392.4,140.7C392.6,140.3 394.6,136.8 394.8,136.5C395.1,136.2 397.9,134.1 398.2,134.0C398.5,133.9 400.6,134.6 400.6,134.9C400.7,135.1 399.2,137.8 399.0,138.2C398.8,138.6 396.5,142.8 396.5,143.1C396.5,143.5 397.9,145.5 398.2,145.6C398.4,145.7 401.8,144.8 402.0,144.8C402.2,144.8 401.8,145.5 402.0,145.6C402.2,145.8 406.6,146.9 407.0,147.3C407.4,147.7 410.2,152.5 410.3,153.1C410.4,153.7 409.3,159.2 409.5,159.7C409.6,160.3 412.7,163.4 412.8,163.9C412.9,164.3 411.7,168.5 412.0,168.8C412.2,169.2 418.2,171.0 418.6,171.3C419.0,171.6 420.2,174.1 420.2,174.7C420.2,175.2 418.9,182.3 418.6,182.9C418.3,183.6 414.3,187.5 413.6,187.9C412.9,188.3 405.9,191.0 405.3,191.2C404.7,191.5 402.4,192.7 402.0,192.9C401.6,193.1 397.1,195.1 396.5,195.4C395.9,195.6 390.3,197.5 389.9,197.9C389.5,198.2 388.5,202.3 388.2,202.8C388.0,203.3 385.2,207.5 384.9,207.8C384.6,208.2 382.2,210.5 382.4,210.0C382.6,209.4 388.6,197.0 389.0,196.6C389.3,196.2 389.1,201.1 389.0,201.6C388.8,202.1 386.0,206.1 385.7,206.5C385.3,207.0 382.0,210.2 381.5,210.7C381.1,211.1 377.0,215.4 376.5,215.7C376.0,215.9 371.9,216.3 371.6,216.5C371.2,216.7 369.1,219.4 369.1,219.8C369.0,220.2 370.9,223.7 370.7,223.9C370.6,224.2 366.7,224.5 366.6,224.8C366.5,225.0 368.3,228.5 368.2,228.9C368.2,229.3 365.2,232.6 364.9,233.1C364.7,233.5 363.2,237.6 363.3,238.0C363.3,238.5 365.8,241.1 365.8,241.4C365.7,241.6 362.7,242.8 362.4,243.0C362.1,243.3 360.2,246.0 360.0,246.3C359.7,246.7 357.0,249.3 356.6,249.7C356.3,250.0 353.6,252.7 353.3,253.0C353.0,253.2 350.2,254.5 350.0,254.6 M338.5,161.1C338.7,161.0 342.2,160.5 342.6,160.6C343.0,160.7 346.6,162.9 346.8,163.0C346.9,163.2 345.4,164.4 345.1,164.4C344.8,164.4 341.3,163.2 340.9,163.0C340.6,162.9 338.6,161.2 338.5,161.1 M346.8,166.0C347.0,166.0 351.2,165.4 351.7,165.5C352.2,165.6 356.2,167.5 356.7,167.7C357.2,167.9 361.5,168.7 361.7,168.8C361.8,169.0 360.4,170.8 360.0,170.8C359.6,170.9 354.8,169.8 354.2,169.7C353.7,169.6 349.6,169.0 349.2,168.8C348.9,168.7 346.9,166.2 346.8,166.0 M387.9,144.8C388.0,144.7 389.7,142.4 389.9,142.3C390.1,142.3 391.9,143.7 391.9,144.0C391.9,144.3 390.1,148.3 389.9,148.4C389.7,148.6 388.3,148.0 388.2,147.8C388.1,147.6 387.9,145.0 387.9,144.8 M394.8,138.2C395.0,138.0 397.1,135.8 397.3,135.7C397.5,135.6 399.0,136.3 399.0,136.5C399.0,136.8 397.2,140.6 397.0,140.7C396.8,140.7 395.0,138.3 394.8,138.2 M402.0,132.4C402.1,132.3 404.0,131.8 404.2,131.6C404.3,131.5 405.0,129.6 405.0,129.5C404.9,129.5 403.1,130.3 403.0,130.5C402.8,130.6 402.0,132.3 402.0,132.4 M406.1,128.2C406.2,128.2 407.9,127.8 408.1,127.6C408.2,127.5 408.7,125.8 408.6,125.7C408.6,125.7 407.0,126.4 406.9,126.5C406.8,126.6 406.2,128.1 406.1,128.2 M410.0,124.6C410.1,124.5 411.7,124.0 411.8,123.9C411.9,123.8 412.3,122.0 412.3,121.9C412.2,121.9 410.7,122.6 410.6,122.7C410.5,122.9 410.0,124.5 410.0,124.6 M412.9,121.3C413.0,121.2 414.7,121.2 414.8,121.1C414.9,121.0 415.3,119.7 415.3,119.6C415.2,119.5 413.7,119.8 413.6,119.9C413.5,120.0 413.0,121.2 412.9,121.3 M402.0,132.4C401.9,132.6 400.1,136.1 399.8,136.5C399.5,136.9 396.7,140.4 396.5,140.7 M431.2,113.0C431.3,113.0 432.5,113.2 432.5,113.3C432.6,113.4 432.3,114.6 432.2,114.6C432.1,114.7 431.1,114.2 431.0,114.1C431.0,114.0 431.2,113.0 431.2,113.0 M454.7,118.3C454.8,118.3 456.3,118.5 456.4,118.6C456.5,118.7 456.1,119.9 456.1,119.9C456.0,120.0 454.8,119.7 454.7,119.6C454.7,119.5 454.7,118.3 454.7,118.3 M412.8,147.3C413.0,147.2 416.8,146.4 416.9,146.5C417.1,146.5 416.3,148.3 416.1,148.4C415.9,148.6 413.4,149.0 413.3,148.9C413.1,148.9 412.8,147.4 412.8,147.3 M421.9,157.2C422.1,157.2 426.7,157.2 426.9,157.2C427.1,157.3 426.3,158.8 426.0,158.9C425.8,159.0 422.4,158.6 422.2,158.6C422.0,158.5 421.9,157.3 421.9,157.2 M346.8,204.5C346.9,204.4 349.8,202.8 350.1,202.8C350.3,202.9 351.7,205.8 351.7,206.2C351.7,206.5 349.9,209.9 349.7,210.0C349.5,210.1 347.7,208.9 347.6,208.6C347.4,208.4 346.8,204.7 346.8,204.5 M365.8,202.8C366.0,202.8 369.7,201.9 370.0,202.0C370.2,202.1 371.3,205.0 371.3,205.3C371.3,205.7 369.4,208.6 369.1,208.6C368.9,208.7 366.5,207.3 366.3,207.0C366.2,206.7 365.8,203.1 365.8,202.8 M486.6,210.0C486.7,209.8 488.3,206.4 488.2,206.2C488.2,205.9 485.3,204.8 484.9,204.5C484.5,204.3 480.4,201.3 479.9,201.2C479.4,201.1 475.4,203.0 475.0,202.8C474.5,202.7 471.2,198.4 470.8,197.9C470.5,197.3 468.7,191.9 468.3,191.2C468.0,190.6 463.9,185.1 463.4,184.6C462.8,184.1 457.3,181.6 456.7,181.3C456.1,180.9 452.1,177.7 451.8,177.6C451.4,177.5 450.5,179.2 450.1,179.3C449.7,179.4 444.1,179.8 443.5,179.6C442.8,179.5 438.3,176.8 437.7,176.3C437.0,175.9 431.6,170.9 431.0,170.5C430.4,170.1 425.3,168.5 425.2,168.0C425.1,167.5 428.9,160.8 429.4,160.6C429.9,160.3 434.7,162.8 435.2,163.0C435.7,163.3 438.9,165.6 439.3,165.5C439.7,165.4 442.5,161.9 442.6,161.4C442.7,160.8 440.8,155.2 441.0,154.8C441.2,154.3 446.0,151.8 446.8,151.4C447.6,151.0 455.8,146.7 456.7,146.5C457.6,146.2 464.3,145.8 465.0,145.6C465.8,145.5 471.2,143.6 471.7,143.1C472.1,142.6 474.5,136.3 475.0,135.7C475.5,135.0 480.9,130.4 481.6,129.9C482.3,129.3 487.6,125.3 488.2,124.9C488.9,124.5 493.8,121.3 494.0,121.6C494.2,121.9 492.7,130.6 492.4,131.5C492.1,132.4 488.9,139.2 488.2,139.8C487.6,140.5 480.8,144.2 479.9,144.8C479.1,145.4 472.4,150.9 471.7,151.4C470.9,152.0 466.1,155.3 465.8,155.6C465.6,155.9 467.1,157.3 467.5,157.2C467.9,157.2 472.9,154.0 473.3,153.9C473.7,153.9 474.6,156.2 475.0,156.4C475.3,156.6 479.4,157.4 479.9,157.2C480.4,157.1 484.3,153.3 484.9,153.1C485.5,152.8 490.9,152.0 491.6,152.3C492.2,152.5 497.4,157.5 498.2,158.1C499.0,158.6 506.5,162.8 507.0,163.0C507.4,163.3 506.5,163.1 507.0,163.0C507.5,163.0 516.0,161.5 517.0,161.4C517.9,161.3 526.4,161.6 526.9,161.4C527.4,161.1 527.9,156.8 527.7,156.4C527.6,156.0 523.9,154.3 523.6,153.9C523.3,153.6 521.2,150.2 521.1,149.8C521.0,149.3 521.8,145.3 521.9,144.8C522.0,144.3 523.4,141.1 523.6,140.7C523.8,140.2 526.4,136.7 526.6,136.5 M522.8,134.9C522.5,135.3 518.9,142.4 518.6,143.1C518.3,143.8 516.2,148.8 516.1,148.9C516.1,149.1 517.4,147.0 517.8,146.5C518.1,145.9 522.4,138.7 522.8,138.2C523.1,137.6 524.3,135.8 524.4,135.7 M528.6,138.2C528.3,138.6 524.0,145.9 523.6,146.5C523.2,147.0 521.2,148.8 521.1,148.9 M522.8,156.7C522.9,156.7 524.8,156.0 524.9,156.1C525.1,156.1 525.6,157.9 525.6,158.1C525.5,158.2 523.7,159.0 523.6,158.9C523.4,158.8 522.8,156.8 522.8,156.7 M437.3,183.6C437.5,183.6 440.8,182.9 441.0,182.9C441.2,183.0 441.6,184.5 441.5,184.6C441.3,184.7 437.9,185.5 437.7,185.4C437.4,185.4 437.3,183.7 437.3,183.6 M465.0,203.7C465.1,203.7 466.9,204.0 467.0,204.2C467.1,204.3 467.6,206.9 467.5,207.0C467.4,207.1 465.6,206.7 465.5,206.5C465.4,206.3 465.0,203.8 465.0,203.7 M474.1,202.8C474.2,202.9 475.7,203.5 475.8,203.7C475.9,203.9 475.5,206.9 475.5,207.0C475.4,207.1 474.2,206.4 474.1,206.2C474.1,206.0 474.1,203.0 474.1,202.8 M479.1,138.2C479.2,138.0 479.9,135.7 479.9,135.7C480.0,135.7 480.8,137.8 480.8,138.2C480.8,138.5 479.7,142.3 479.6,142.3C479.5,142.3 479.1,138.4 479.1,138.2 M561.7,210.0C562.0,210.1 567.0,211.4 567.5,211.7C568.0,211.9 571.5,215.6 571.7,215.8C571.8,216.1 571.1,216.8 570.8,216.6C570.6,216.5 567.1,213.6 566.7,213.3C566.3,213.1 562.8,211.4 562.6,211.3 M553.4,208.2C553.8,208.1 559.5,206.5 560.1,206.5C560.6,206.5 564.8,208.5 565.0,208.6 M484.9,210.0C485.0,210.2 486.3,214.5 486.6,215.0C486.8,215.5 489.6,219.4 489.9,220.0C490.2,220.5 492.2,225.3 492.4,225.8C492.6,226.3 494.1,229.7 494.0,229.9C494.0,230.1 491.8,230.8 491.6,230.7C491.3,230.6 490.1,228.0 489.9,227.9C489.7,227.8 487.7,228.9 487.4,229.1C487.1,229.3 484.3,231.2 484.1,231.6C483.9,231.9 483.1,236.1 483.3,236.5C483.4,236.9 486.2,239.4 486.6,239.9C486.9,240.3 489.6,244.3 489.9,244.8C490.2,245.3 492.1,249.2 492.4,249.8C492.6,250.4 494.5,255.9 494.9,256.4C495.2,256.9 499.5,259.7 499.8,259.8C500.2,259.8 501.3,257.3 501.5,257.3C501.7,257.3 503.1,259.5 503.2,259.8C503.2,260.0 502.6,262.8 502.3,263.1C502.1,263.3 498.6,264.5 498.2,264.7C497.8,264.9 494.7,267.0 494.9,267.2C495.0,267.4 500.9,268.6 501.5,268.9C502.1,269.1 506.7,272.2 507.0,272.2C507.2,272.2 506.7,268.5 507.0,268.4C507.3,268.2 513.1,268.6 513.6,268.9C514.2,269.1 517.7,273.5 517.8,273.8C517.9,274.2 516.4,275.6 516.1,275.5C515.8,275.4 512.4,271.9 512.0,271.7C511.5,271.5 507.2,271.5 507.0,271.7C506.8,271.9 507.2,275.6 507.0,276.0C506.7,276.4 502.0,279.3 501.5,279.7C501.0,280.0 497.4,282.7 497.4,283.0C497.3,283.3 500.5,285.1 500.7,285.5C500.8,285.8 500.1,289.1 499.8,289.6C499.6,290.1 496.6,294.1 496.5,294.6C496.4,295.1 498.1,299.2 498.2,299.6C498.2,299.9 497.6,301.9 497.4,302.0C497.1,302.2 493.5,302.6 493.2,302.9C492.9,303.1 490.7,306.7 490.7,307.0C490.7,307.3 492.9,309.3 493.2,309.5C493.5,309.7 497.0,310.4 497.4,310.3C497.7,310.3 499.7,308.8 499.8,308.7 M471.7,210.0C471.8,210.1 474.9,211.8 475.0,212.0C475.1,212.2 473.8,214.1 473.6,214.1C473.4,214.2 470.9,212.7 470.8,212.5C470.7,212.3 471.6,210.1 471.7,210.0 M470.0,245.7C470.2,245.4 474.5,241.0 475.0,240.7C475.4,240.3 478.9,238.9 479.1,239.0C479.3,239.1 478.9,242.4 478.6,242.8C478.3,243.3 474.0,247.1 473.6,247.3C473.3,247.6 471.0,247.9 470.8,247.8C470.6,247.7 470.0,245.8 470.0,245.7 M492.4,240.7C492.5,240.6 494.7,239.8 494.9,239.9C495.0,239.9 495.8,242.2 495.7,242.3C495.6,242.5 493.4,243.3 493.2,243.2C493.0,243.1 492.4,240.8 492.4,240.7 M480.8,265.6C480.9,265.6 483.1,266.0 483.3,266.4C483.5,266.8 484.7,272.3 484.9,273.0C485.2,273.8 487.8,280.7 488.2,281.3C488.7,281.9 493.6,285.2 494.0,285.5C494.5,285.7 497.5,286.1 497.7,286.3C497.8,286.5 497.2,288.9 496.9,288.9C496.6,289.0 492.1,288.2 491.6,287.9C491.0,287.7 487.0,284.4 486.6,283.8C486.2,283.2 483.5,277.0 483.3,276.3C483.0,275.6 481.4,270.2 481.3,269.7C481.1,269.2 480.8,265.8 480.8,265.6 M463.4,265.6C463.5,265.4 465.6,262.4 465.8,262.2C466.1,262.1 467.5,262.8 467.5,263.1C467.5,263.3 465.6,267.1 465.3,267.2C465.1,267.3 463.5,265.6 463.4,265.6 M465.8,268.0C466.0,267.9 468.2,265.6 468.3,265.6C468.5,265.6 469.2,267.8 469.2,268.0C469.1,268.3 466.8,270.0 466.7,270.0C466.5,270.0 465.9,268.1 465.8,268.0 M446.8,283.0C446.9,282.8 449.7,279.0 450.1,278.8C450.5,278.7 454.0,279.4 454.2,279.7C454.5,279.9 455.2,283.5 455.1,283.8C454.9,284.1 451.8,286.0 451.8,286.3C451.7,286.6 453.2,289.5 453.4,289.6C453.7,289.7 456.6,287.8 456.7,287.9C456.8,288.1 455.7,292.8 455.4,292.9C455.1,293.1 451.3,291.6 450.9,291.3C450.6,290.9 448.6,286.7 448.4,286.3C448.2,285.9 446.9,283.1 446.8,283.0 M455.4,280.5C455.5,280.4 458.3,279.5 458.4,279.7C458.5,279.8 458.2,282.8 458.1,283.0C457.9,283.1 456.0,283.1 455.9,283.0C455.8,282.8 455.4,280.6 455.4,280.5 M493.2,294.6C493.3,294.6 494.8,294.8 494.9,294.9C495.0,295.0 495.0,297.0 494.9,297.1C494.8,297.2 493.3,296.9 493.2,296.7C493.1,296.6 493.2,294.7 493.2,294.6 M491.6,301.5C491.8,301.5 495.5,301.1 495.7,301.2C495.9,301.4 495.5,304.4 495.4,304.5C495.2,304.7 492.6,304.3 492.4,304.2C492.2,304.0 491.6,301.7 491.6,301.5 M499.8,308.7C499.6,308.6 495.6,307.1 494.9,307.0C494.1,306.9 485.9,306.2 484.9,306.2C483.9,306.2 475.8,306.8 475.0,307.0C474.1,307.2 468.9,309.2 468.3,309.5C467.8,309.8 463.7,312.5 463.4,312.8C463.0,313.1 461.0,314.9 460.9,315.0C460.7,315.1 461.0,314.8 460.9,315.0C460.8,315.2 459.4,319.5 459.2,320.0C459.0,320.5 456.9,324.5 456.7,325.0C456.6,325.4 456.9,329.3 456.7,329.9C456.6,330.6 453.8,337.5 453.4,338.2C453.0,338.9 449.5,343.4 449.3,344.0C449.0,344.6 448.4,349.2 448.4,349.8C448.5,350.4 450.7,356.0 450.9,356.5C451.2,357.0 453.1,359.7 453.4,359.8C453.7,359.8 457.2,357.5 457.6,357.3C457.9,357.0 459.8,354.8 460.0,354.8C460.3,354.8 461.7,357.7 461.7,358.1C461.7,358.5 459.5,362.7 459.2,363.1C459.0,363.5 456.8,366.0 456.7,366.4C456.7,366.8 458.4,371.0 458.4,371.4C458.4,371.8 456.7,374.6 456.7,374.7C456.8,374.8 459.0,373.3 459.2,373.0C459.5,372.8 461.5,369.8 461.7,369.7C462.0,369.7 463.9,372.2 464.2,372.2C464.5,372.3 467.2,370.9 467.5,370.6C467.8,370.2 469.9,365.3 470.0,364.8C470.1,364.2 469.1,360.2 469.2,359.8C469.2,359.4 470.7,356.9 470.8,356.5C470.9,356.0 471.7,352.0 471.7,351.5C471.6,351.0 469.3,347.1 469.2,346.5C469.0,345.9 468.3,340.5 468.3,339.9C468.4,339.2 469.8,333.9 470.0,333.2C470.2,332.6 471.4,327.8 471.7,327.4C471.9,327.1 474.7,325.7 475.0,325.8C475.2,325.9 476.6,328.6 476.6,329.1C476.6,329.6 475.1,334.3 475.0,334.9C474.9,335.5 474.8,341.0 475.0,341.5C475.2,342.0 478.7,344.8 479.1,344.9C479.5,344.9 482.8,343.4 483.3,343.2C483.7,342.9 487.8,340.1 488.2,339.9C488.7,339.7 492.3,339.0 492.4,339.0C492.5,339.1 490.2,341.3 489.9,341.5C489.6,341.7 486.2,342.9 485.7,343.2C485.3,343.5 481.6,347.8 481.6,348.2C481.6,348.5 484.7,350.4 484.9,350.7C485.2,350.9 486.7,353.8 486.6,354.0C486.5,354.2 482.6,354.5 482.4,354.8C482.3,355.1 483.2,359.3 483.3,359.8C483.3,360.2 483.5,363.6 483.3,363.9C483.1,364.3 479.5,366.2 479.1,366.4C478.7,366.6 475.4,367.9 475.0,368.1C474.6,368.2 471.2,369.5 470.8,369.7C470.4,370.0 467.9,372.8 467.5,373.0C467.1,373.3 463.7,374.5 463.4,374.7C463.0,374.9 460.4,377.1 460.0,377.2C459.7,377.2 457.1,375.4 456.7,375.5C456.4,375.7 453.7,379.4 453.4,379.7C453.1,380.0 450.5,381.0 450.1,381.3C449.7,381.6 445.5,385.1 445.1,385.5C444.7,385.9 442.0,388.9 441.8,389.1 M483.3,315.0C483.5,315.2 487.0,318.1 487.4,318.3C487.9,318.5 492.0,319.2 492.4,319.1C492.8,319.1 494.9,316.9 494.9,316.7C494.9,316.4 492.5,314.3 492.4,314.2 M492.4,333.6C492.5,333.5 494.7,332.8 494.9,332.9C495.1,333.1 496.2,336.2 496.2,336.6C496.2,336.9 494.2,339.5 494.0,339.5C493.8,339.6 492.1,337.7 492.0,337.4C492.0,337.1 492.4,333.8 492.4,333.6 M494.9,326.9C495.0,326.9 497.6,326.1 497.9,326.3C498.1,326.4 499.2,329.3 499.2,329.6C499.1,329.8 497.1,331.4 496.9,331.3C496.6,331.1 495.0,327.2 494.9,326.9 M474.6,354.0C474.7,354.0 476.1,354.6 476.1,354.8C476.2,355.0 475.6,357.2 475.5,357.3C475.4,357.4 474.3,356.6 474.3,356.5C474.3,356.3 474.6,354.1 474.6,354.0 M451.8,378.8C451.9,378.9 453.7,379.2 453.7,379.3C453.8,379.5 453.2,381.3 453.1,381.3C453.0,381.4 451.5,381.0 451.4,380.8C451.4,380.7 451.7,378.9 451.8,378.8 M461.7,364.8C461.9,364.8 464.8,365.4 465.0,365.6C465.2,365.8 465.9,368.6 465.8,368.9C465.8,369.1 463.6,370.6 463.4,370.6C463.1,370.5 461.5,368.4 461.4,368.1C461.3,367.8 461.7,364.9 461.7,364.8 M404.5,329.1C404.6,328.9 406.6,325.1 407.0,325.0C407.3,324.8 410.6,326.6 411.1,326.6C411.6,326.7 416.5,325.6 416.9,325.8C417.3,325.9 419.4,329.6 419.4,329.9C419.5,330.3 418.1,333.0 417.8,333.2C417.4,333.5 412.5,334.9 412.0,334.9C411.4,334.9 407.3,334.4 407.0,334.1C406.6,333.8 404.6,329.3 404.5,329.1 M426.9,344.2C427.0,344.2 428.5,344.4 428.5,344.5C428.6,344.6 428.3,345.8 428.2,345.8C428.1,345.9 426.9,345.6 426.9,345.5C426.8,345.4 426.9,344.3 426.9,344.2 M426.9,388.5C427.0,388.3 429.2,385.0 429.4,384.7C429.6,384.3 431.1,381.6 431.0,381.3C431.0,381.0 428.6,379.1 428.5,378.8C428.5,378.6 430.3,375.8 430.2,375.5C430.1,375.3 427.0,374.1 426.9,373.9C426.8,373.6 428.6,370.8 428.5,370.6C428.5,370.3 426.1,368.4 426.0,368.1C426.0,367.7 427.7,364.3 427.7,363.9C427.7,363.5 426.8,360.0 426.9,359.8C427.0,359.5 429.0,358.5 429.4,358.4C429.7,358.4 433.4,358.8 433.5,358.9C433.6,359.1 431.8,362.0 431.9,362.3C431.9,362.6 435.0,364.5 435.2,364.8C435.3,365.0 434.3,367.7 434.3,368.1C434.4,368.4 436.6,371.8 436.8,372.2C437.1,372.7 439.1,376.7 439.3,377.2C439.6,377.6 441.7,380.9 441.8,381.3C441.9,381.7 440.9,385.1 441.0,385.5C441.1,385.8 443.3,388.2 443.5,388.3 M416.9,374.7C417.1,374.5 419.9,371.6 420.2,371.4C420.6,371.2 424.1,370.4 424.4,370.6C424.7,370.7 426.8,373.5 426.9,373.9C427.0,374.3 426.3,378.5 426.0,378.8C425.8,379.2 423.1,381.2 422.7,381.3C422.4,381.5 418.9,382.2 418.6,382.2C418.3,382.1 416.2,380.0 416.1,379.7C416.0,379.3 416.9,375.0 416.9,374.7 M367.4,324.1C367.2,323.3 365.5,316.3 365.6,314.9C365.8,313.5 368.5,308.6 369.4,307.4C370.3,306.1 375.7,301.0 376.9,299.9C378.0,298.8 382.5,294.5 383.1,293.7C383.8,292.9 384.5,290.9 384.9,290.4C385.2,289.9 386.7,288.7 387.4,287.9C388.1,287.2 392.3,282.5 393.1,281.2C393.9,279.9 396.6,273.8 396.9,272.4C397.1,271.1 395.3,266.0 395.6,265.0C395.9,263.9 399.7,260.5 400.6,260.0C401.5,259.4 405.7,258.6 406.8,258.7C408.0,258.8 413.1,260.8 414.3,261.2C415.6,261.6 420.7,263.2 421.8,263.7C423.0,264.2 427.1,266.5 428.1,267.5C429.0,268.4 432.8,273.8 433.0,274.9C433.3,276.1 431.1,280.3 430.5,281.2C430.0,282.0 427.0,284.3 426.8,284.9C426.6,285.5 428.9,287.9 428.6,288.7C428.2,289.4 423.7,292.6 423.1,293.7C422.4,294.7 421.2,300.1 420.6,301.2C419.9,302.2 416.1,305.5 415.6,306.1C415.0,306.8 414.1,309.0 413.8,309.4C413.5,309.8 412.4,310.9 411.8,311.1C411.2,311.4 407.7,312.1 406.8,312.4C406.0,312.7 402.9,314.1 401.8,314.4C400.8,314.7 395.6,316.0 394.4,316.1C393.1,316.2 388.0,315.3 386.9,315.4C385.7,315.5 381.7,316.9 380.6,317.4C379.6,317.9 375.3,320.5 374.4,321.1C373.5,321.7 370.5,324.6 369.9,324.9C369.3,325.1 367.6,324.2 367.4,324.1 M398.1,221.5C398.3,221.5 401.1,222.7 401.4,223.1C401.7,223.5 403.4,229.2 403.4,229.8C403.4,230.3 401.7,234.3 401.7,234.7C401.8,235.1 404.8,237.5 405.1,238.0C405.3,238.6 407.2,245.8 407.5,246.3C407.9,246.9 411.3,249.2 411.7,249.7C412.1,250.1 415.6,254.1 415.8,254.6C416.1,255.1 416.8,259.3 416.7,259.6C416.5,259.9 413.4,260.9 413.0,260.8C412.6,260.7 408.7,257.8 408.4,257.6C408.0,257.5 406.3,258.1 406.1,257.9C405.8,257.8 403.1,254.5 402.7,254.3C402.4,254.0 399.8,253.2 399.8,253.0C399.7,252.7 401.8,249.2 401.7,248.8C401.7,248.4 398.5,245.4 398.4,245.0C398.3,244.6 400.2,240.5 400.1,240.0C400.0,239.5 396.9,235.6 396.8,235.1C396.6,234.5 397.5,229.1 397.6,228.4C397.7,227.7 398.1,221.8 398.1,221.5 M384.5,219.8C384.5,219.6 384.6,216.0 384.8,215.7C385.0,215.3 388.5,213.1 389.0,213.2C389.4,213.2 393.2,216.5 393.4,216.8C393.7,217.1 394.6,219.6 394.4,219.8C394.3,220.0 390.9,221.2 390.6,221.5C390.4,221.7 389.2,224.7 389.0,224.8C388.7,224.9 386.4,223.7 386.2,223.4C385.9,223.2 384.6,220.0 384.5,219.8 M371.6,229.8C371.7,229.6 374.5,227.3 374.9,227.3C375.2,227.2 378.6,228.4 379.0,228.4C379.4,228.4 382.8,227.2 383.2,227.3C383.5,227.4 385.6,230.2 385.7,230.6C385.7,231.0 384.8,234.3 384.8,234.7C384.9,235.1 386.8,238.5 386.8,238.9C386.8,239.3 385.4,242.7 385.2,243.0C384.9,243.3 382.7,245.4 382.3,245.5C382.0,245.6 378.6,244.6 378.2,244.7C377.8,244.8 375.2,247.6 374.9,247.7C374.5,247.7 371.5,246.0 371.2,246.0C370.9,246.0 368.8,247.3 368.6,247.2C368.3,247.1 365.8,244.2 365.8,243.8C365.7,243.5 367.9,240.1 367.9,239.7C367.9,239.3 366.2,235.9 366.3,235.6C366.3,235.2 368.3,233.0 368.6,232.7C368.8,232.4 371.4,229.9 371.6,229.8 M374.9,231.4C375.0,231.4 377.9,230.5 378.2,230.6C378.5,230.7 380.7,233.6 380.7,233.9C380.7,234.2 378.5,237.1 378.2,237.2C377.9,237.3 375.0,235.8 374.9,235.6C374.7,235.3 374.9,231.6 374.9,231.4 M390.6,226.4C390.8,226.3 393.2,224.5 393.4,224.4C393.7,224.4 396.2,225.4 396.4,225.6C396.7,225.9 397.8,229.0 397.8,229.4C397.7,229.8 395.4,233.3 395.1,233.4C394.8,233.5 392.0,232.1 391.8,231.7C391.6,231.4 390.7,226.7 390.6,226.4 M389.8,235.6C390.0,235.5 393.1,234.3 393.4,234.4C393.8,234.5 397.6,236.8 397.8,237.2C397.9,237.6 397.0,241.4 396.8,241.7C396.5,242.0 393.1,242.8 392.8,242.7C392.5,242.6 390.6,240.1 390.5,239.7C390.3,239.3 389.8,235.8 389.8,235.6 M387.3,244.3C387.5,244.3 391.3,243.0 391.8,243.0C392.3,243.1 397.5,245.2 398.1,245.5C398.7,245.8 402.7,249.2 403.1,249.7C403.4,250.1 405.7,253.6 405.6,253.8C405.5,254.0 401.5,253.9 401.1,253.8C400.6,253.7 396.9,251.8 396.4,251.6C396.0,251.5 392.2,251.1 391.8,251.0C391.4,250.8 388.7,248.7 388.5,248.3C388.3,248.0 387.4,244.5 387.3,244.3 M398.9,234.7C399.1,234.8 401.5,235.7 401.7,236.1C402.0,236.4 403.9,240.8 403.9,241.0C403.9,241.3 401.3,241.3 401.1,241.0C400.8,240.7 399.0,235.0 398.9,234.7 M393.4,229.8C393.6,229.7 395.5,228.8 395.6,228.9C395.8,229.0 396.5,231.6 396.4,231.7C396.4,231.9 394.6,232.8 394.4,232.7C394.3,232.6 393.5,229.9 393.4,229.8 M398.1,229.8C398.2,229.7 399.6,228.9 399.8,229.1C399.9,229.3 400.6,233.2 400.6,233.4C400.5,233.6 399.0,234.1 398.9,233.9C398.8,233.7 398.1,230.0 398.1,229.8 M399.8,237.2C399.9,237.3 401.6,237.8 401.7,238.0C401.9,238.3 402.3,241.5 402.2,241.7C402.2,241.8 400.2,241.3 400.1,241.0C400.0,240.8 399.8,237.4 399.8,237.2 M376.5,250.5C376.7,250.4 380.3,248.8 380.7,248.8C381.1,248.9 383.9,251.0 384.0,251.3C384.1,251.6 383.1,255.3 382.8,255.5C382.6,255.6 378.8,255.2 378.5,255.0C378.2,254.7 376.6,250.7 376.5,250.5 M384.8,248.8C385.0,248.9 387.2,249.4 387.3,249.7C387.4,249.9 387.6,254.4 387.5,254.6C387.4,254.8 385.3,254.3 385.2,254.0C385.0,253.7 384.8,249.1 384.8,248.8 M388.1,252.1C388.3,252.1 391.3,251.5 391.5,251.6C391.7,251.7 392.4,254.1 392.3,254.3C392.2,254.4 389.2,254.7 389.0,254.6C388.8,254.5 388.2,252.3 388.1,252.1 M369.9,248.0C370.1,248.0 373.3,248.6 373.5,248.8C373.8,249.0 375.0,251.5 374.9,251.6C374.8,251.8 371.5,252.5 371.2,252.3C371.0,252.1 370.0,248.2 369.9,248.0 M364.6,236.4C364.7,236.4 366.5,237.0 366.6,237.2C366.7,237.4 366.4,239.9 366.3,240.0C366.1,240.1 364.3,239.6 364.3,239.4C364.2,239.2 364.6,236.5 364.6,236.4 M363.3,259.8C363.9,259.9 369.2,261.0 370.0,261.4C370.7,261.8 372.6,264.0 372.5,264.7C372.3,265.4 369.1,269.5 368.3,269.7C367.6,269.9 364.0,267.1 363.3,267.2C362.6,267.3 360.7,270.5 360.0,270.5C359.3,270.6 355.7,268.0 355.0,268.0C354.4,268.1 352.7,270.7 352.6,271.4C352.4,272.1 353.5,275.5 353.4,276.3C353.3,277.2 351.9,280.5 351.7,281.3C351.5,282.1 350.7,286.1 350.9,286.3C351.1,286.4 353.7,282.9 354.2,283.0C354.7,283.0 356.1,287.2 356.7,287.1C357.3,287.0 360.3,282.3 360.8,282.1C361.4,281.9 362.6,284.6 363.3,284.6C364.1,284.7 369.3,283.5 370.0,283.0C370.6,282.4 370.4,278.8 370.8,278.0C371.2,277.2 374.2,274.7 374.9,273.8C375.7,273.0 379.2,268.9 379.9,268.0C380.6,267.1 382.6,263.8 383.2,263.1C383.9,262.4 386.6,260.1 387.4,259.8C388.2,259.4 392.9,259.2 393.2,258.9C393.5,258.7 391.3,256.9 390.6,256.6C390.0,256.3 386.4,255.0 385.7,255.0C384.9,255.0 382.2,256.9 381.5,256.6C380.8,256.3 378.1,251.9 377.4,251.6C376.7,251.4 374.1,253.3 373.2,253.3C372.3,253.3 367.5,251.6 366.6,251.6C365.6,251.6 362.2,252.8 361.9,253.3C361.6,253.8 362.8,257.4 362.9,257.9C363.1,258.5 363.3,259.6 363.3,259.8 M365.8,202.4C365.8,202.3 367.3,200.5 367.4,200.7C367.6,200.9 368.4,206.5 368.6,206.5C368.7,206.6 370.6,201.5 370.7,201.6C370.9,201.6 371.6,206.9 371.6,207.4C371.5,207.8 369.3,210.6 369.1,210.7C368.8,210.8 366.7,209.4 366.6,209.0C366.4,208.6 365.8,202.7 365.8,202.4 M350.0,254.6C350.0,254.6 350.3,253.5 350.1,253.1C349.8,252.8 345.7,247.9 345.1,247.3C344.5,246.7 339.2,241.8 338.5,241.5C337.8,241.2 331.7,240.5 331.0,240.7C330.3,240.9 324.1,245.0 323.5,245.7C323.0,246.4 320.5,253.9 320.2,254.8C319.9,255.6 318.1,262.5 317.7,263.1C317.3,263.6 312.4,266.2 311.9,266.4C311.4,266.6 308.2,266.9 307.8,267.2C307.4,267.5 303.7,272.6 303.6,273.0C303.6,273.4 306.5,275.5 307.0,275.5C307.4,275.5 311.4,272.4 311.9,272.2C312.4,272.0 316.3,271.2 316.9,271.4C317.5,271.5 322.9,275.5 323.5,275.5C324.2,275.5 329.5,272.5 330.2,272.2C330.8,271.9 336.1,269.9 336.8,269.7C337.5,269.5 343.0,267.9 343.4,268.0C343.9,268.2 345.8,272.4 345.9,273.0C346.1,273.6 346.9,279.1 346.8,279.7C346.6,280.2 343.0,284.2 342.6,284.6C342.2,285.0 338.7,287.5 338.5,287.9C338.2,288.4 336.8,292.5 336.8,292.9C336.8,293.3 339.3,295.7 339.3,296.2C339.3,296.7 337.0,302.2 336.8,302.9C336.6,303.5 334.5,308.9 334.3,309.5C334.1,310.1 332.7,314.7 332.7,315.0C332.6,315.2 332.7,314.8 332.7,315.0C332.6,315.2 332.0,319.6 331.8,320.0C331.6,320.4 328.8,323.2 328.5,323.3C328.2,323.4 325.5,322.5 325.2,322.5C324.9,322.4 322.2,321.6 321.9,321.6C321.5,321.7 318.6,323.1 318.6,323.3C318.5,323.5 320.7,324.8 321.0,325.0C321.4,325.1 325.8,326.1 326.0,326.1 M320.2,268.9C320.4,268.8 324.1,268.2 324.4,268.4C324.6,268.5 325.0,271.5 324.9,271.7C324.7,271.9 321.3,272.3 321.0,272.2C320.8,272.0 320.3,269.0 320.2,268.9 M343.4,258.9C343.6,258.9 345.8,258.3 345.9,258.4C346.1,258.5 346.2,261.3 346.1,261.4C346.0,261.6 343.9,261.5 343.8,261.4C343.6,261.3 343.5,259.0 343.4,258.9 M299.5,226.6C299.8,226.5 304.6,225.0 305.3,224.9C306.0,224.8 312.3,224.0 312.8,224.1C313.2,224.2 313.7,227.1 313.6,227.4C313.4,227.7 309.9,229.7 309.4,229.9C308.9,230.1 304.1,232.3 303.6,232.4C303.2,232.5 300.5,231.8 300.3,231.6C300.1,231.3 299.5,226.8 299.5,226.6 M302.0,227.4C302.3,227.4 308.2,226.2 308.6,226.3C309.1,226.3 311.3,228.0 311.1,228.2C310.9,228.4 304.9,230.3 304.5,230.2C304.0,230.2 302.1,227.6 302.0,227.4 M324.4,221.6C324.5,221.7 327.4,222.3 327.7,222.4C328.0,222.6 330.2,225.1 330.2,225.3C330.1,225.4 327.1,225.1 326.9,224.9C326.6,224.7 324.5,221.8 324.4,221.6 M336.0,210.0C336.1,210.0 338.3,210.6 338.5,210.8C338.6,211.1 339.4,214.7 339.3,215.0C339.2,215.2 337.0,216.1 336.8,215.8C336.6,215.6 336.0,210.3 336.0,210.0 M348.4,210.0C348.5,210.0 350.3,210.5 350.4,210.8C350.5,211.1 351.0,216.1 350.9,216.3C350.8,216.6 348.9,216.1 348.7,215.8C348.6,215.5 348.4,210.3 348.4,210.0"/></g></g><circle cx="440.3" cy="248.8" r="141.8" fill="none" stroke="#222" stroke-width="1"/><circle cx="440.3" cy="248.8" r="7" fill="#fff"/><defs><clipPath id="cb"><circle cx="292.0" cy="706.4" r="141.8"/></clipPath></defs><g clip-path="url(#cb)"><rect x="148.2" y="562.5999999999999" width="287.6" height="287.6" fill="#B22222"/><path d="M182.7,790.6C188.7,786.3 186.5,788.7 188.9,788.1C191.4,787.5 196.2,786.8 198.9,786.4C201.6,785.9 204.6,785.3 206.9,784.9C209.2,784.4 211.9,783.4 214.4,783.4C216.9,783.4 221.0,784.9 223.9,784.9C226.8,784.9 230.5,783.7 233.9,783.4C237.2,783.1 243.4,782.3 246.4,782.9C249.3,783.5 252.0,785.6 253.8,787.4C255.7,789.2 257.0,793.3 258.8,794.8C260.7,796.3 264.1,797.6 266.3,797.3C268.6,797.1 271.6,794.7 273.8,793.1C276.1,791.5 279.6,788.6 281.3,786.4C283.0,784.1 284.2,781.0 285.0,778.1C285.9,775.2 286.3,769.9 286.8,766.9C287.3,763.9 288.0,759.3 288.3,758.2C288.6,757.0 288.1,759.7 289.0,759.4C289.8,759.1 291.7,756.6 294.0,756.4C296.2,756.2 300.6,758.6 304.0,758.2C307.3,757.7 313.3,754.3 316.4,753.2C319.6,752.0 322.7,750.8 325.2,750.7C327.6,750.5 330.2,750.9 332.7,751.9C335.1,752.9 340.5,755.5 341.4,757.4C342.3,759.3 340.8,763.1 338.9,764.4C337.0,765.7 331.9,765.5 328.9,765.9C325.9,766.3 321.4,765.6 318.9,766.9C316.5,768.2 314.2,771.8 312.7,774.4C311.2,777.0 310.3,781.0 309.0,784.4C307.6,787.7 305.1,793.5 304.0,796.8C302.8,800.2 301.7,803.8 301.5,806.8C301.3,809.8 301.6,814.5 302.7,816.8C303.8,819.1 306.9,821.2 309.0,822.3C311.0,823.4 314.0,825.1 316.4,824.3C318.9,823.5 322.7,819.1 325.2,816.8C327.6,814.6 330.2,810.8 332.7,809.3C335.1,807.8 338.2,806.6 341.4,806.8C344.6,807.1 350.9,811.6 353.9,810.8C356.9,810.1 359.1,804.7 361.4,801.8C363.6,799.0 366.2,796.0 368.9,791.9C371.5,787.7 376.6,779.6 378.9,774.4C381.1,769.1 382.7,761.8 383.8,756.9C385.0,752.0 385.6,746.4 386.3,741.9C387.1,737.4 388.3,731.4 388.8,726.9C389.4,722.5 390.1,716.1 390.1,712.0C390.1,707.9 388.6,702.5 388.8,699.5C389.0,696.5 390.8,694.0 391.3,691.8C391.9,689.6 391.8,687.0 392.6,684.8C393.3,682.6 394.5,679.6 396.3,677.3C398.2,675.1 403.2,672.5 405.1,669.8C406.9,667.2 409.0,663.2 408.8,659.9C408.6,656.5 405.7,650.7 403.8,647.4C401.9,644.0 398.6,640.2 396.3,637.4C394.1,634.6 390.7,631.3 388.8,628.6C387.0,626.0 385.5,622.2 383.8,619.9C382.2,617.7 379.8,615.7 377.6,613.7C375.4,611.6 370.7,608.6 368.9,606.2C367.0,603.7 366.6,599.1 365.1,597.4C363.6,595.8 360.3,596.1 358.9,594.9C357.5,593.8 356.2,591.8 355.9,590.0C355.6,588.1 356.1,585.5 356.9,582.5C357.7,579.5 343.1,573.4 361.4,570.0C379.6,566.6 461.1,531.5 478.7,560.0C496.3,588.5 478.7,709.9 478.7,759.7C478.7,809.5 519.9,871.9 478.7,891.7C437.5,911.5 253.6,891.7 204.1,891.7C154.7,891.7 157.3,902.9 149.0,891.7C140.7,880.5 143.9,832.0 149.0,816.8C154.1,801.6 176.7,794.9 182.7,790.6Z" fill="#FF4500" stroke="#FF4500" stroke-width="0.4" stroke-linejoin="round"/><path d="M160.2,654.9C162.5,654.2 166.2,652.7 169.0,652.9C171.8,653.0 176.3,654.3 179.0,656.1C181.6,657.9 185.5,661.7 186.4,664.8C187.4,668.0 185.6,673.6 185.2,677.3C184.8,681.1 183.8,686.4 183.9,689.8C184.1,693.2 186.6,696.8 186.4,699.8C186.3,702.8 184.2,707.0 182.7,709.8C181.2,712.5 177.4,716.7 176.5,718.0C175.5,719.3 177.0,717.4 176.5,718.2C175.9,719.0 174.6,722.1 172.7,723.2C170.8,724.3 166.2,724.8 164.0,725.7C161.7,726.6 159.2,729.3 157.7,729.4C156.2,729.6 156.1,728.8 154.0,726.9C151.9,725.1 145.9,723.3 144.0,717.0C142.1,710.6 140.8,692.6 141.5,684.8C142.3,677.0 147.1,669.0 149.0,664.8C150.9,660.7 152.3,658.9 154.0,657.4C155.7,655.9 158.0,655.5 160.2,654.9Z" fill="#FF4500" stroke="#FF4500" stroke-width="0.4" stroke-linejoin="round"/><path d="M183.9,609.9C184.5,608.5 188.5,605.3 190.2,604.9C191.9,604.6 194.8,606.2 195.2,607.4C195.6,608.6 194.0,611.9 192.7,612.9C191.4,614.0 187.8,614.9 186.4,614.4C185.1,614.0 183.4,611.3 183.9,609.9Z" fill="#FF4500" stroke="#FF4500" stroke-width="0.4" stroke-linejoin="round"/><path d="M399.6,616.9C395.8,619.2 402.1,622.2 403.8,624.9C405.6,627.6 409.4,631.9 411.3,634.9C413.2,637.9 415.0,641.5 416.3,644.9C417.6,648.2 418.9,654.0 420.0,657.4C421.2,660.7 422.7,664.3 423.8,667.3C424.9,670.3 426.6,674.0 427.5,677.3C428.5,680.7 428.3,686.4 430.0,689.8C431.7,693.2 435.2,704.3 438.8,699.8C442.3,695.3 455.2,673.3 453.7,659.9C452.2,646.4 436.9,616.4 428.8,609.9C420.7,603.5 403.3,614.7 399.6,616.9Z" fill="#FFA500" stroke="#FFA500" stroke-width="0.4" stroke-linejoin="round"/><path d="M438.8,712.0C431.3,700.4 432.1,714.3 428.8,715.0C425.4,715.6 419.5,715.7 416.3,716.5C413.1,717.2 409.4,718.4 407.6,720.0C405.7,721.5 404.6,723.7 403.8,726.9C403.1,730.2 402.6,737.4 402.6,741.9C402.5,746.4 403.5,752.8 403.3,756.9C403.1,761.0 402.4,765.6 401.3,769.4C400.3,773.1 398.0,778.5 396.3,781.9C394.6,785.2 391.8,789.2 390.1,791.9C388.4,794.5 386.8,797.3 385.1,799.3C383.4,801.4 381.3,803.1 378.9,805.6C376.4,808.0 371.3,812.8 368.9,815.6C366.4,818.4 363.4,821.1 362.6,824.3C361.9,827.5 357.7,830.4 363.9,836.8C370.1,843.1 386.6,873.5 403.8,866.7C421.0,860.0 473.5,815.1 478.7,791.9C483.9,768.6 446.2,723.5 438.8,712.0Z" fill="#FFA500" stroke="#FFA500" stroke-width="0.4" stroke-linejoin="round"/><path d="M415.0,643.6C412.2,646.6 418.7,651.5 420.0,654.9C421.3,658.2 422.7,662.8 423.8,666.1C424.9,669.4 425.3,674.8 427.5,676.8C429.8,678.9 437.1,686.1 438.8,679.8C440.4,673.5 442.3,640.3 438.8,634.9C435.2,629.5 417.9,640.6 415.0,643.6Z" fill="#FFDE00" stroke="#FFDE00" stroke-width="0.4" stroke-linejoin="round"/><path d="M438.8,720.0C435.4,705.7 433.9,721.3 431.3,722.0C428.7,722.6 423.7,723.3 421.3,724.5C418.9,725.6 416.2,726.8 415.0,729.4C413.9,732.1 413.8,737.8 413.8,741.9C413.8,746.0 415.0,753.2 415.0,756.9C415.0,760.6 414.7,763.5 413.8,766.9C412.9,770.3 410.5,776.0 408.8,779.4C407.1,782.7 404.4,786.4 402.6,789.4C400.7,792.3 397.8,796.7 396.3,799.3C394.8,802.0 392.2,803.5 392.6,806.8C393.0,810.2 389.6,820.3 398.8,821.8C408.0,823.3 447.7,832.1 453.7,816.8C459.7,801.5 442.1,734.2 438.8,720.0Z" fill="#FFDE00" stroke="#FFDE00" stroke-width="0.4" stroke-linejoin="round"/><path d="M422.5,737.4C423.4,735.0 426.9,730.9 428.8,729.4C430.6,727.9 432.8,725.6 435.0,727.4C437.3,729.3 443.8,737.3 443.8,741.9C443.8,746.5 437.6,756.7 435.0,758.2C432.5,759.6 428.6,753.8 426.8,751.9C425.0,750.0 423.7,747.8 423.0,745.7C422.4,743.5 421.7,739.9 422.5,737.4Z" fill="#DEB887" stroke="#DEB887" stroke-width="0.4" stroke-linejoin="round"/><path d="M152.7,664.8C155.7,663.9 159.0,659.0 161.5,658.6C163.9,658.2 167.4,660.7 169.0,662.3C170.5,664.0 171.8,667.2 172.0,669.8C172.2,672.5 171.0,676.5 170.2,679.8C169.4,683.2 167.8,688.9 166.5,692.3C165.2,695.7 163.0,698.9 161.5,702.3C160.0,705.7 157.8,711.8 156.5,714.8C155.2,717.8 155.0,721.1 152.7,722.3C150.5,723.4 143.2,730.9 141.5,722.3C139.8,713.6 139.8,673.5 141.5,664.8C143.2,656.2 149.7,665.8 152.7,664.8Z" fill="#FFA500" stroke="#FFA500" stroke-width="0.4" stroke-linejoin="round"/><path d="M151.0,669.8C153.1,667.7 156.0,665.3 157.7,665.3C159.5,665.3 161.9,668.0 162.7,669.8C163.6,671.6 163.9,674.7 163.5,677.3C163.1,679.9 161.5,684.9 160.2,687.3C159.0,689.7 156.9,692.2 155.2,693.5C153.6,694.9 150.7,698.1 149.0,696.0C147.3,694.0 143.7,683.8 144.0,679.8C144.3,675.9 148.9,672.0 151.0,669.8Z" fill="#FFDE00" stroke="#FFDE00" stroke-width="0.4" stroke-linejoin="round"/><path d="M150.2,677.8C151.4,676.8 154.4,676.2 155.2,676.8C156.1,677.5 156.6,681.0 156.0,682.3C155.4,683.6 152.7,685.1 151.5,685.3C150.3,685.5 147.9,684.7 147.8,683.6C147.6,682.4 149.1,678.8 150.2,677.8Z" fill="#FFEE00" stroke="#FFEE00" stroke-width="0.4" stroke-linejoin="round"/><path d="M223.9,796.8C224.1,794.8 225.9,791.4 227.6,790.6C229.3,789.9 232.7,791.1 235.1,791.9C237.6,792.6 241.0,794.7 243.9,795.6C246.7,796.5 251.2,797.0 253.8,798.1C256.5,799.2 259.1,802.0 261.3,803.1C263.6,804.2 266.4,805.0 268.8,805.6C271.3,806.1 275.3,806.3 277.6,806.8C279.8,807.4 281.4,808.8 283.8,809.3C286.2,809.9 291.0,810.2 293.8,810.6C296.6,810.9 301.2,810.1 302.5,811.8C303.9,813.5 302.5,818.8 302.7,821.8C302.9,824.8 304.3,828.8 304.0,831.8C303.6,834.8 301.3,838.0 300.2,841.8C299.1,845.5 306.1,854.5 296.5,856.8C286.9,859.0 245.3,859.0 236.4,856.8C227.4,854.5 236.7,845.5 236.9,841.8C237.1,838.0 237.7,834.8 237.6,831.8C237.5,828.8 236.9,824.8 236.4,821.8C235.8,818.8 235.4,814.4 233.9,811.8C232.4,809.2 227.9,806.6 226.4,804.3C224.9,802.1 223.7,798.9 223.9,796.8Z" fill="#FFA500" stroke="#FFA500" stroke-width="0.4" stroke-linejoin="round"/><path d="M243.9,841.8C244.6,838.6 246.6,837.0 248.9,835.5C251.1,834.0 256.2,831.8 258.8,831.8C261.5,831.8 265.0,834.0 266.3,835.5C267.6,837.0 267.9,838.6 267.6,841.8C267.2,845.0 267.4,854.5 263.8,856.8C260.3,859.0 246.9,859.0 243.9,856.8C240.9,854.5 243.1,845.0 243.9,841.8Z" fill="#FFDE00" stroke="#FFDE00" stroke-width="0.4" stroke-linejoin="round"/><path d="M259.3,816.8C260.1,815.7 263.8,815.0 265.1,815.6C266.3,816.1 267.8,819.2 267.6,820.6C267.4,821.9 265.0,823.9 263.8,824.3C262.7,824.7 260.8,824.2 260.1,823.1C259.4,821.9 258.6,817.9 259.3,816.8Z" fill="#FFDE00" stroke="#FFDE00" stroke-width="0.4" stroke-linejoin="round"/><path d="M290.2,811.8C290.8,809.9 295.8,809.8 297.7,811.3C299.6,812.8 301.9,818.7 302.7,821.8C303.6,824.9 304.0,830.0 303.5,831.8C302.9,833.6 300.4,834.9 299.0,833.8C297.5,832.7 295.3,827.6 294.0,824.3C292.7,821.0 289.7,813.8 290.2,811.8Z" fill="#FFDE00" stroke="#FFDE00" stroke-width="0.4" stroke-linejoin="round"/><path d="M270.1,840.5C270.8,837.2 272.5,832.1 273.8,829.3C275.1,826.5 277.0,823.5 278.8,821.8C280.6,820.1 284.1,817.3 285.8,818.1C287.5,818.8 288.8,824.0 290.0,826.8C291.2,829.6 292.5,833.0 293.8,836.8C295.1,840.5 302.5,849.5 298.8,851.8C295.0,854.0 273.1,853.4 268.8,851.8C264.5,850.1 269.3,843.9 270.1,840.5Z" fill="#FF4500" stroke="#FF4500" stroke-width="0.4" stroke-linejoin="round"/><path d="M172.7,639.9C171.8,638.0 173.7,635.6 175.2,633.6C176.7,631.7 179.1,629.0 182.7,626.9C186.3,624.8 193.5,621.3 198.9,619.9C204.4,618.5 214.0,618.9 218.9,617.4C223.8,615.9 228.8,612.4 231.4,609.9C234.0,607.5 234.5,603.8 236.4,601.2C238.2,598.6 241.2,594.9 243.9,592.5C246.5,590.0 250.8,585.9 253.8,585.0C256.8,584.0 260.8,585.1 263.8,586.2C266.8,587.3 271.2,590.4 273.8,592.5C276.4,594.5 278.3,598.8 281.3,599.9C284.3,601.1 289.6,600.3 293.8,599.9C297.9,599.6 305.0,598.2 309.0,597.4C312.9,596.7 317.8,596.4 320.2,594.9C322.6,593.4 323.3,589.0 325.2,587.5C327.1,586.0 330.4,585.5 332.7,585.0C334.9,584.4 338.3,584.3 340.2,583.7C342.0,583.2 344.1,580.7 345.2,581.2C346.2,581.8 347.0,585.0 346.9,587.5C346.8,589.9 343.7,594.6 344.4,597.4C345.1,600.3 348.7,604.3 351.4,606.2C354.1,608.1 360.4,607.9 362.6,609.9C364.9,612.0 364.1,617.3 366.4,619.9C368.6,622.5 374.6,624.4 377.6,627.4C380.6,630.4 384.2,636.9 386.3,639.9C388.5,642.9 391.5,645.8 391.8,647.4C392.2,648.9 390.8,650.7 388.8,650.4C386.9,650.0 381.8,644.9 378.9,644.9C375.9,644.8 370.7,647.6 368.9,649.9C367.0,652.1 366.0,656.5 366.4,659.9C366.7,663.2 369.5,668.6 371.4,672.3C373.2,676.1 377.4,681.4 378.9,684.8C380.3,688.2 381.5,692.2 381.3,694.8C381.2,697.4 379.1,699.4 377.6,702.0C376.1,704.6 373.4,709.7 371.4,712.0C369.3,714.2 366.5,715.1 363.9,717.0C361.3,718.8 356.5,722.2 353.9,724.5C351.3,726.7 348.3,730.1 346.4,731.9C344.5,733.8 342.7,734.9 341.4,736.9C340.1,739.0 338.8,744.0 337.7,745.7C336.5,747.4 335.0,749.3 333.9,748.2C332.8,747.0 332.0,739.9 330.2,738.2C328.3,736.5 324.2,736.6 321.4,736.9C318.6,737.3 313.4,738.8 311.5,740.7C309.5,742.5 309.8,747.2 308.5,749.4C307.1,751.7 304.9,754.9 302.7,755.7C300.5,756.4 295.8,755.6 294.0,754.4C292.1,753.2 291.5,748.1 290.2,747.4C288.9,746.7 286.5,748.4 285.2,749.9C284.0,751.4 283.0,756.3 282.0,757.4C281.0,758.5 279.7,758.4 278.8,757.4C278.0,756.4 277.4,753.7 276.3,750.7C275.2,747.6 273.6,740.1 271.3,736.9C269.1,733.7 264.0,730.9 261.3,729.4C258.7,727.9 255.7,726.2 253.8,726.9C252.0,727.7 250.5,731.6 248.9,734.4C247.2,737.2 244.5,743.0 242.6,745.7C240.7,748.3 238.1,751.2 236.4,751.9C234.7,752.7 231.8,752.2 231.4,750.7C231.0,749.2 232.4,744.7 233.9,741.9C235.4,739.1 239.9,734.6 241.4,731.9C242.9,729.3 244.6,725.6 243.9,724.5C243.1,723.3 238.6,723.3 236.4,724.5C234.1,725.6 231.1,729.7 228.9,731.9C226.6,734.2 223.6,737.7 221.4,739.4C219.1,741.1 216.1,743.2 213.9,743.2C211.7,743.2 208.1,739.1 206.4,739.4C204.7,739.8 204.0,744.9 202.7,745.7C201.4,746.4 198.2,746.1 197.7,744.4C197.1,742.7 197.8,737.1 198.9,734.4C200.0,731.8 203.3,728.8 205.2,726.9C207.0,725.1 210.8,723.6 211.4,722.0C212.0,720.3 210.8,716.8 208.9,715.7C207.0,714.6 201.4,715.2 198.9,714.5C196.5,713.7 193.6,712.2 192.7,710.7C191.7,709.2 191.6,705.8 192.7,704.5C193.8,703.2 197.7,701.6 200.2,702.0C202.6,702.4 206.8,705.9 208.9,707.0C211.0,708.1 213.6,710.2 214.4,709.5C215.2,708.7 214.9,704.2 214.4,702.0C214.0,699.7 212.4,696.0 211.4,694.5C210.4,693.0 208.6,693.3 207.7,691.8C206.7,690.3 205.9,687.4 205.2,684.8C204.4,682.3 202.3,677.4 202.7,674.8C203.0,672.2 206.0,669.6 207.7,667.3C209.3,665.1 213.2,662.5 213.9,659.9C214.7,657.2 214.2,651.7 212.7,649.9C211.2,648.0 206.5,647.9 203.9,647.4C201.3,646.8 198.6,646.3 195.2,646.1C191.8,645.9 184.8,647.1 181.5,646.1C178.1,645.2 173.7,641.8 172.7,639.9Z" fill="#FFB6C1" stroke="#FFB6C1" stroke-width="0.4" stroke-linejoin="round"/><path d="M220.1,778.1C219.1,776.8 218.5,772.0 219.4,769.4C220.3,766.8 224.4,761.0 226.4,760.6C228.4,760.3 230.2,765.6 232.6,766.9C235.1,768.2 240.4,769.2 242.6,769.4C244.9,769.6 245.9,768.5 247.6,768.1C249.3,767.8 252.5,768.9 253.8,766.9C255.2,764.8 255.4,758.2 256.3,754.4C257.3,750.7 258.6,745.1 260.1,741.9C261.6,738.7 264.6,734.3 266.3,733.2C268.0,732.1 270.4,733.1 271.3,734.4C272.3,735.7 272.3,739.7 272.6,741.9C272.9,744.2 274.2,747.5 273.3,749.4C272.4,751.3 267.9,752.2 266.3,754.4C264.7,756.7 263.7,762.1 262.6,764.4C261.5,766.6 260.9,767.9 258.8,769.4C256.8,770.9 252.2,773.3 248.9,774.4C245.5,775.5 239.7,776.3 236.4,776.9C233.0,777.4 228.8,777.9 226.4,778.1C224.0,778.3 221.2,779.4 220.1,778.1Z" fill="#FFB6C1" stroke="#FFB6C1" stroke-width="0.4" stroke-linejoin="round"/><path d="M166.5,751.9C166.7,749.7 169.2,745.7 171.5,744.4C173.7,743.1 178.8,743.0 181.5,743.2C184.1,743.4 186.9,744.5 188.9,745.7C191.0,746.8 194.6,749.0 195.2,750.7C195.7,752.3 194.4,756.2 192.7,756.9C191.0,757.7 186.4,755.1 183.9,755.7C181.5,756.2 178.5,760.1 176.5,760.6C174.4,761.2 171.7,760.7 170.2,759.4C168.7,758.1 166.3,754.2 166.5,751.9Z" fill="#FFB6C1" stroke="#FFB6C1" stroke-width="0.4" stroke-linejoin="round"/><path d="M320.2,781.9C320.6,779.2 322.3,778.4 323.9,778.1C325.5,777.8 330.0,778.4 330.9,779.9C331.9,781.4 331.0,785.6 330.2,788.1C329.3,790.7 326.6,795.7 325.2,796.8C323.8,798.0 321.7,797.8 320.9,795.6C320.2,793.3 319.7,784.5 320.2,781.9Z" fill="#FFB6C1" stroke="#FFB6C1" stroke-width="0.4" stroke-linejoin="round"/><path d="M309.5,799.3C309.9,798.0 313.1,796.3 313.9,796.8C314.8,797.4 315.6,801.8 315.2,803.1C314.7,804.4 311.8,806.1 311.0,805.6C310.1,805.0 309.0,800.6 309.5,799.3Z" fill="#FFB6C1" stroke="#FFB6C1" stroke-width="0.4" stroke-linejoin="round"/><path d="M191.9,634.4C192.4,632.9 195.6,631.4 198.9,630.4C202.2,629.3 209.4,628.6 213.9,627.4C218.4,626.2 224.8,624.5 228.9,622.4C233.0,620.3 237.6,615.4 241.4,613.7C245.1,612.0 251.0,611.1 253.8,611.2C256.7,611.3 258.8,612.7 260.6,614.4C262.3,616.2 264.0,620.6 265.6,622.9C267.2,625.2 269.9,629.8 271.3,629.9C272.7,630.0 273.6,624.5 275.1,623.7C276.6,622.8 279.6,625.3 281.3,624.4C283.0,623.5 284.6,620.3 286.3,617.9C288.0,615.6 290.7,609.3 292.5,608.7C294.4,608.0 296.6,612.4 298.8,613.7C301.0,615.0 304.6,616.8 307.2,617.4C309.9,618.1 313.2,618.5 316.4,617.9C319.7,617.4 326.2,614.9 328.9,613.7C331.6,612.5 332.5,609.6 334.4,609.9C336.3,610.3 338.9,614.7 341.4,616.2C344.0,617.7 349.5,617.9 351.4,619.9C353.3,622.0 353.0,626.9 353.9,629.9C354.8,632.9 358.0,637.3 357.6,639.9C357.3,642.5 353.8,645.3 351.4,647.4C349.0,649.4 344.4,652.5 341.4,653.6C338.4,654.7 333.3,653.2 331.4,654.9C329.5,656.5 328.7,661.5 328.9,664.8C329.1,668.2 330.8,674.3 332.7,677.3C334.5,680.3 338.6,683.3 341.4,684.8C344.2,686.3 349.1,686.2 351.4,687.3C353.6,688.4 356.0,690.1 356.4,692.3C356.8,694.5 355.4,699.0 353.9,702.0C352.4,704.9 348.6,709.7 346.4,712.0C344.2,714.2 341.0,715.1 338.9,717.0C336.9,718.8 334.4,722.2 332.7,724.5C331.0,726.7 329.7,730.6 327.7,731.9C325.6,733.3 321.4,733.6 318.9,733.2C316.5,732.8 313.7,729.4 311.5,729.4C309.2,729.4 306.2,732.8 304.0,733.2C301.7,733.6 298.3,731.4 296.5,731.9C294.6,732.5 293.0,736.6 291.5,736.9C290.0,737.3 288.0,735.6 286.5,734.4C285.0,733.3 282.6,730.6 281.5,729.4C280.3,728.3 278.3,726.4 278.8,726.9C279.3,727.5 284.5,730.9 285.0,733.2C285.6,735.4 283.5,739.5 282.5,741.9C281.6,744.4 280.1,748.1 278.8,749.4C277.5,750.7 274.7,751.8 273.8,750.7C272.9,749.5 272.9,744.4 272.6,741.9C272.2,739.5 272.3,735.7 271.3,734.4C270.4,733.1 268.0,732.1 266.3,733.2C264.6,734.3 261.6,738.7 260.1,741.9C258.6,745.1 257.3,750.7 256.3,754.4C255.4,758.2 255.2,764.8 253.8,766.9C252.5,768.9 248.9,766.8 247.6,768.1C246.3,769.4 245.9,775.4 245.1,775.6C244.4,775.8 244.5,770.7 242.6,769.4C240.7,768.1 233.6,768.8 232.6,766.9C231.7,765.0 234.9,760.1 236.4,756.9C237.9,753.7 240.7,749.0 242.6,745.7C244.5,742.3 247.2,737.4 248.9,734.4C250.5,731.4 253.8,727.9 253.8,725.7C253.8,723.5 250.7,721.3 248.9,719.5C247.0,717.6 244.0,714.7 241.4,713.2C238.7,711.7 233.6,711.2 231.4,709.5C229.1,707.8 226.8,704.6 226.4,702.0C226.0,699.4 228.1,694.6 228.9,692.0C229.6,689.4 230.3,687.0 231.4,684.8C232.5,682.6 234.7,679.9 236.4,677.3C238.1,674.7 241.6,670.3 242.6,667.3C243.7,664.3 243.5,659.7 243.4,657.4C243.2,655.0 244.3,653.2 241.4,651.9C238.4,650.6 229.1,649.5 223.9,648.6C218.6,647.8 210.6,647.4 206.4,646.1C202.2,644.9 198.1,642.1 195.9,640.4C193.8,638.6 191.5,635.9 191.9,634.4Z" fill="#FF1493" stroke="#FF1493" stroke-width="0.4" stroke-linejoin="round"/><line x1="291.4" y1="734.4" x2="291.4" y2="848.2" stroke="#fff" stroke-opacity="0.22" stroke-width="0.7"/><g transform="translate(-148.30,457.60)" fill="none" stroke="#000" stroke-width="1.1" stroke-linejoin="round" stroke-linecap="round"><path d="M325.2,163.4C325.4,163.3 329.6,162.1 330.2,162.2C330.7,162.3 335.4,164.6 336.0,164.7C336.5,164.8 340.4,163.3 340.9,163.4C341.5,163.5 346.1,167.0 346.8,167.2C347.4,167.4 352.7,167.9 353.4,168.0C354.1,168.1 360.2,168.9 360.8,168.8C361.5,168.8 366.0,167.4 366.7,167.2C367.3,167.0 372.6,165.2 373.3,165.0C373.9,164.8 379.3,163.2 379.9,163.0C380.5,162.9 384.5,161.6 384.9,161.4C385.3,161.1 387.1,158.4 387.4,158.1C387.6,157.7 389.7,155.1 389.9,154.8C390.0,154.4 390.8,151.7 390.7,151.4C390.6,151.2 388.4,150.0 388.2,149.8C388.1,149.5 387.8,146.7 387.9,146.5C388.0,146.2 389.6,144.3 389.9,144.0C390.1,143.7 392.1,141.0 392.4,140.7C392.6,140.3 394.6,136.8 394.8,136.5C395.1,136.2 397.9,134.1 398.2,134.0C398.5,133.9 400.6,134.6 400.6,134.9C400.7,135.1 399.2,137.8 399.0,138.2C398.8,138.6 396.5,142.8 396.5,143.1C396.5,143.5 397.9,145.5 398.2,145.6C398.4,145.7 401.8,144.8 402.0,144.8C402.2,144.8 401.8,145.5 402.0,145.6C402.2,145.8 406.6,146.9 407.0,147.3C407.4,147.7 410.2,152.5 410.3,153.1C410.4,153.7 409.3,159.2 409.5,159.7C409.6,160.3 412.7,163.4 412.8,163.9C412.9,164.3 411.7,168.5 412.0,168.8C412.2,169.2 418.2,171.0 418.6,171.3C419.0,171.6 420.2,174.1 420.2,174.7C420.2,175.2 418.9,182.3 418.6,182.9C418.3,183.6 414.3,187.5 413.6,187.9C412.9,188.3 405.9,191.0 405.3,191.2C404.7,191.5 402.4,192.7 402.0,192.9C401.6,193.1 397.1,195.1 396.5,195.4C395.9,195.6 390.3,197.5 389.9,197.9C389.5,198.2 388.5,202.3 388.2,202.8C388.0,203.3 385.2,207.5 384.9,207.8C384.6,208.2 382.2,210.5 382.4,210.0C382.6,209.4 388.6,197.0 389.0,196.6C389.3,196.2 389.1,201.1 389.0,201.6C388.8,202.1 386.0,206.1 385.7,206.5C385.3,207.0 382.0,210.2 381.5,210.7C381.1,211.1 377.0,215.4 376.5,215.7C376.0,215.9 371.9,216.3 371.6,216.5C371.2,216.7 369.1,219.4 369.1,219.8C369.0,220.2 370.9,223.7 370.7,223.9C370.6,224.2 366.7,224.5 366.6,224.8C366.5,225.0 368.3,228.5 368.2,228.9C368.2,229.3 365.2,232.6 364.9,233.1C364.7,233.5 363.2,237.6 363.3,238.0C363.3,238.5 365.8,241.1 365.8,241.4C365.7,241.6 362.7,242.8 362.4,243.0C362.1,243.3 360.2,246.0 360.0,246.3C359.7,246.7 357.0,249.3 356.6,249.7C356.3,250.0 353.6,252.7 353.3,253.0C353.0,253.2 350.2,254.5 350.0,254.6 M338.5,161.1C338.7,161.0 342.2,160.5 342.6,160.6C343.0,160.7 346.6,162.9 346.8,163.0C346.9,163.2 345.4,164.4 345.1,164.4C344.8,164.4 341.3,163.2 340.9,163.0C340.6,162.9 338.6,161.2 338.5,161.1 M346.8,166.0C347.0,166.0 351.2,165.4 351.7,165.5C352.2,165.6 356.2,167.5 356.7,167.7C357.2,167.9 361.5,168.7 361.7,168.8C361.8,169.0 360.4,170.8 360.0,170.8C359.6,170.9 354.8,169.8 354.2,169.7C353.7,169.6 349.6,169.0 349.2,168.8C348.9,168.7 346.9,166.2 346.8,166.0 M387.9,144.8C388.0,144.7 389.7,142.4 389.9,142.3C390.1,142.3 391.9,143.7 391.9,144.0C391.9,144.3 390.1,148.3 389.9,148.4C389.7,148.6 388.3,148.0 388.2,147.8C388.1,147.6 387.9,145.0 387.9,144.8 M394.8,138.2C395.0,138.0 397.1,135.8 397.3,135.7C397.5,135.6 399.0,136.3 399.0,136.5C399.0,136.8 397.2,140.6 397.0,140.7C396.8,140.7 395.0,138.3 394.8,138.2 M402.0,132.4C402.1,132.3 404.0,131.8 404.2,131.6C404.3,131.5 405.0,129.6 405.0,129.5C404.9,129.5 403.1,130.3 403.0,130.5C402.8,130.6 402.0,132.3 402.0,132.4 M406.1,128.2C406.2,128.2 407.9,127.8 408.1,127.6C408.2,127.5 408.7,125.8 408.6,125.7C408.6,125.7 407.0,126.4 406.9,126.5C406.8,126.6 406.2,128.1 406.1,128.2 M410.0,124.6C410.1,124.5 411.7,124.0 411.8,123.9C411.9,123.8 412.3,122.0 412.3,121.9C412.2,121.9 410.7,122.6 410.6,122.7C410.5,122.9 410.0,124.5 410.0,124.6 M412.9,121.3C413.0,121.2 414.7,121.2 414.8,121.1C414.9,121.0 415.3,119.7 415.3,119.6C415.2,119.5 413.7,119.8 413.6,119.9C413.5,120.0 413.0,121.2 412.9,121.3 M402.0,132.4C401.9,132.6 400.1,136.1 399.8,136.5C399.5,136.9 396.7,140.4 396.5,140.7 M431.2,113.0C431.3,113.0 432.5,113.2 432.5,113.3C432.6,113.4 432.3,114.6 432.2,114.6C432.1,114.7 431.1,114.2 431.0,114.1C431.0,114.0 431.2,113.0 431.2,113.0 M454.7,118.3C454.8,118.3 456.3,118.5 456.4,118.6C456.5,118.7 456.1,119.9 456.1,119.9C456.0,120.0 454.8,119.7 454.7,119.6C454.7,119.5 454.7,118.3 454.7,118.3 M412.8,147.3C413.0,147.2 416.8,146.4 416.9,146.5C417.1,146.5 416.3,148.3 416.1,148.4C415.9,148.6 413.4,149.0 413.3,148.9C413.1,148.9 412.8,147.4 412.8,147.3 M421.9,157.2C422.1,157.2 426.7,157.2 426.9,157.2C427.1,157.3 426.3,158.8 426.0,158.9C425.8,159.0 422.4,158.6 422.2,158.6C422.0,158.5 421.9,157.3 421.9,157.2 M346.8,204.5C346.9,204.4 349.8,202.8 350.1,202.8C350.3,202.9 351.7,205.8 351.7,206.2C351.7,206.5 349.9,209.9 349.7,210.0C349.5,210.1 347.7,208.9 347.6,208.6C347.4,208.4 346.8,204.7 346.8,204.5 M365.8,202.8C366.0,202.8 369.7,201.9 370.0,202.0C370.2,202.1 371.3,205.0 371.3,205.3C371.3,205.7 369.4,208.6 369.1,208.6C368.9,208.7 366.5,207.3 366.3,207.0C366.2,206.7 365.8,203.1 365.8,202.8 M486.6,210.0C486.7,209.8 488.3,206.4 488.2,206.2C488.2,205.9 485.3,204.8 484.9,204.5C484.5,204.3 480.4,201.3 479.9,201.2C479.4,201.1 475.4,203.0 475.0,202.8C474.5,202.7 471.2,198.4 470.8,197.9C470.5,197.3 468.7,191.9 468.3,191.2C468.0,190.6 463.9,185.1 463.4,184.6C462.8,184.1 457.3,181.6 456.7,181.3C456.1,180.9 452.1,177.7 451.8,177.6C451.4,177.5 450.5,179.2 450.1,179.3C449.7,179.4 444.1,179.8 443.5,179.6C442.8,179.5 438.3,176.8 437.7,176.3C437.0,175.9 431.6,170.9 431.0,170.5C430.4,170.1 425.3,168.5 425.2,168.0C425.1,167.5 428.9,160.8 429.4,160.6C429.9,160.3 434.7,162.8 435.2,163.0C435.7,163.3 438.9,165.6 439.3,165.5C439.7,165.4 442.5,161.9 442.6,161.4C442.7,160.8 440.8,155.2 441.0,154.8C441.2,154.3 446.0,151.8 446.8,151.4C447.6,151.0 455.8,146.7 456.7,146.5C457.6,146.2 464.3,145.8 465.0,145.6C465.8,145.5 471.2,143.6 471.7,143.1C472.1,142.6 474.5,136.3 475.0,135.7C475.5,135.0 480.9,130.4 481.6,129.9C482.3,129.3 487.6,125.3 488.2,124.9C488.9,124.5 493.8,121.3 494.0,121.6C494.2,121.9 492.7,130.6 492.4,131.5C492.1,132.4 488.9,139.2 488.2,139.8C487.6,140.5 480.8,144.2 479.9,144.8C479.1,145.4 472.4,150.9 471.7,151.4C470.9,152.0 466.1,155.3 465.8,155.6C465.6,155.9 467.1,157.3 467.5,157.2C467.9,157.2 472.9,154.0 473.3,153.9C473.7,153.9 474.6,156.2 475.0,156.4C475.3,156.6 479.4,157.4 479.9,157.2C480.4,157.1 484.3,153.3 484.9,153.1C485.5,152.8 490.9,152.0 491.6,152.3C492.2,152.5 497.4,157.5 498.2,158.1C499.0,158.6 506.5,162.8 507.0,163.0C507.4,163.3 506.5,163.1 507.0,163.0C507.5,163.0 516.0,161.5 517.0,161.4C517.9,161.3 526.4,161.6 526.9,161.4C527.4,161.1 527.9,156.8 527.7,156.4C527.6,156.0 523.9,154.3 523.6,153.9C523.3,153.6 521.2,150.2 521.1,149.8C521.0,149.3 521.8,145.3 521.9,144.8C522.0,144.3 523.4,141.1 523.6,140.7C523.8,140.2 526.4,136.7 526.6,136.5 M522.8,134.9C522.5,135.3 518.9,142.4 518.6,143.1C518.3,143.8 516.2,148.8 516.1,148.9C516.1,149.1 517.4,147.0 517.8,146.5C518.1,145.9 522.4,138.7 522.8,138.2C523.1,137.6 524.3,135.8 524.4,135.7 M528.6,138.2C528.3,138.6 524.0,145.9 523.6,146.5C523.2,147.0 521.2,148.8 521.1,148.9 M522.8,156.7C522.9,156.7 524.8,156.0 524.9,156.1C525.1,156.1 525.6,157.9 525.6,158.1C525.5,158.2 523.7,159.0 523.6,158.9C523.4,158.8 522.8,156.8 522.8,156.7 M437.3,183.6C437.5,183.6 440.8,182.9 441.0,182.9C441.2,183.0 441.6,184.5 441.5,184.6C441.3,184.7 437.9,185.5 437.7,185.4C437.4,185.4 437.3,183.7 437.3,183.6 M465.0,203.7C465.1,203.7 466.9,204.0 467.0,204.2C467.1,204.3 467.6,206.9 467.5,207.0C467.4,207.1 465.6,206.7 465.5,206.5C465.4,206.3 465.0,203.8 465.0,203.7 M474.1,202.8C474.2,202.9 475.7,203.5 475.8,203.7C475.9,203.9 475.5,206.9 475.5,207.0C475.4,207.1 474.2,206.4 474.1,206.2C474.1,206.0 474.1,203.0 474.1,202.8 M479.1,138.2C479.2,138.0 479.9,135.7 479.9,135.7C480.0,135.7 480.8,137.8 480.8,138.2C480.8,138.5 479.7,142.3 479.6,142.3C479.5,142.3 479.1,138.4 479.1,138.2 M561.7,210.0C562.0,210.1 567.0,211.4 567.5,211.7C568.0,211.9 571.5,215.6 571.7,215.8C571.8,216.1 571.1,216.8 570.8,216.6C570.6,216.5 567.1,213.6 566.7,213.3C566.3,213.1 562.8,211.4 562.6,211.3 M553.4,208.2C553.8,208.1 559.5,206.5 560.1,206.5C560.6,206.5 564.8,208.5 565.0,208.6 M484.9,210.0C485.0,210.2 486.3,214.5 486.6,215.0C486.8,215.5 489.6,219.4 489.9,220.0C490.2,220.5 492.2,225.3 492.4,225.8C492.6,226.3 494.1,229.7 494.0,229.9C494.0,230.1 491.8,230.8 491.6,230.7C491.3,230.6 490.1,228.0 489.9,227.9C489.7,227.8 487.7,228.9 487.4,229.1C487.1,229.3 484.3,231.2 484.1,231.6C483.9,231.9 483.1,236.1 483.3,236.5C483.4,236.9 486.2,239.4 486.6,239.9C486.9,240.3 489.6,244.3 489.9,244.8C490.2,245.3 492.1,249.2 492.4,249.8C492.6,250.4 494.5,255.9 494.9,256.4C495.2,256.9 499.5,259.7 499.8,259.8C500.2,259.8 501.3,257.3 501.5,257.3C501.7,257.3 503.1,259.5 503.2,259.8C503.2,260.0 502.6,262.8 502.3,263.1C502.1,263.3 498.6,264.5 498.2,264.7C497.8,264.9 494.7,267.0 494.9,267.2C495.0,267.4 500.9,268.6 501.5,268.9C502.1,269.1 506.7,272.2 507.0,272.2C507.2,272.2 506.7,268.5 507.0,268.4C507.3,268.2 513.1,268.6 513.6,268.9C514.2,269.1 517.7,273.5 517.8,273.8C517.9,274.2 516.4,275.6 516.1,275.5C515.8,275.4 512.4,271.9 512.0,271.7C511.5,271.5 507.2,271.5 507.0,271.7C506.8,271.9 507.2,275.6 507.0,276.0C506.7,276.4 502.0,279.3 501.5,279.7C501.0,280.0 497.4,282.7 497.4,283.0C497.3,283.3 500.5,285.1 500.7,285.5C500.8,285.8 500.1,289.1 499.8,289.6C499.6,290.1 496.6,294.1 496.5,294.6C496.4,295.1 498.1,299.2 498.2,299.6C498.2,299.9 497.6,301.9 497.4,302.0C497.1,302.2 493.5,302.6 493.2,302.9C492.9,303.1 490.7,306.7 490.7,307.0C490.7,307.3 492.9,309.3 493.2,309.5C493.5,309.7 497.0,310.4 497.4,310.3C497.7,310.3 499.7,308.8 499.8,308.7 M471.7,210.0C471.8,210.1 474.9,211.8 475.0,212.0C475.1,212.2 473.8,214.1 473.6,214.1C473.4,214.2 470.9,212.7 470.8,212.5C470.7,212.3 471.6,210.1 471.7,210.0 M470.0,245.7C470.2,245.4 474.5,241.0 475.0,240.7C475.4,240.3 478.9,238.9 479.1,239.0C479.3,239.1 478.9,242.4 478.6,242.8C478.3,243.3 474.0,247.1 473.6,247.3C473.3,247.6 471.0,247.9 470.8,247.8C470.6,247.7 470.0,245.8 470.0,245.7 M492.4,240.7C492.5,240.6 494.7,239.8 494.9,239.9C495.0,239.9 495.8,242.2 495.7,242.3C495.6,242.5 493.4,243.3 493.2,243.2C493.0,243.1 492.4,240.8 492.4,240.7 M480.8,265.6C480.9,265.6 483.1,266.0 483.3,266.4C483.5,266.8 484.7,272.3 484.9,273.0C485.2,273.8 487.8,280.7 488.2,281.3C488.7,281.9 493.6,285.2 494.0,285.5C494.5,285.7 497.5,286.1 497.7,286.3C497.8,286.5 497.2,288.9 496.9,288.9C496.6,289.0 492.1,288.2 491.6,287.9C491.0,287.7 487.0,284.4 486.6,283.8C486.2,283.2 483.5,277.0 483.3,276.3C483.0,275.6 481.4,270.2 481.3,269.7C481.1,269.2 480.8,265.8 480.8,265.6 M463.4,265.6C463.5,265.4 465.6,262.4 465.8,262.2C466.1,262.1 467.5,262.8 467.5,263.1C467.5,263.3 465.6,267.1 465.3,267.2C465.1,267.3 463.5,265.6 463.4,265.6 M465.8,268.0C466.0,267.9 468.2,265.6 468.3,265.6C468.5,265.6 469.2,267.8 469.2,268.0C469.1,268.3 466.8,270.0 466.7,270.0C466.5,270.0 465.9,268.1 465.8,268.0 M446.8,283.0C446.9,282.8 449.7,279.0 450.1,278.8C450.5,278.7 454.0,279.4 454.2,279.7C454.5,279.9 455.2,283.5 455.1,283.8C454.9,284.1 451.8,286.0 451.8,286.3C451.7,286.6 453.2,289.5 453.4,289.6C453.7,289.7 456.6,287.8 456.7,287.9C456.8,288.1 455.7,292.8 455.4,292.9C455.1,293.1 451.3,291.6 450.9,291.3C450.6,290.9 448.6,286.7 448.4,286.3C448.2,285.9 446.9,283.1 446.8,283.0 M455.4,280.5C455.5,280.4 458.3,279.5 458.4,279.7C458.5,279.8 458.2,282.8 458.1,283.0C457.9,283.1 456.0,283.1 455.9,283.0C455.8,282.8 455.4,280.6 455.4,280.5 M493.2,294.6C493.3,294.6 494.8,294.8 494.9,294.9C495.0,295.0 495.0,297.0 494.9,297.1C494.8,297.2 493.3,296.9 493.2,296.7C493.1,296.6 493.2,294.7 493.2,294.6 M491.6,301.5C491.8,301.5 495.5,301.1 495.7,301.2C495.9,301.4 495.5,304.4 495.4,304.5C495.2,304.7 492.6,304.3 492.4,304.2C492.2,304.0 491.6,301.7 491.6,301.5 M499.8,308.7C499.6,308.6 495.6,307.1 494.9,307.0C494.1,306.9 485.9,306.2 484.9,306.2C483.9,306.2 475.8,306.8 475.0,307.0C474.1,307.2 468.9,309.2 468.3,309.5C467.8,309.8 463.7,312.5 463.4,312.8C463.0,313.1 461.0,314.9 460.9,315.0C460.7,315.1 461.0,314.8 460.9,315.0C460.8,315.2 459.4,319.5 459.2,320.0C459.0,320.5 456.9,324.5 456.7,325.0C456.6,325.4 456.9,329.3 456.7,329.9C456.6,330.6 453.8,337.5 453.4,338.2C453.0,338.9 449.5,343.4 449.3,344.0C449.0,344.6 448.4,349.2 448.4,349.8C448.5,350.4 450.7,356.0 450.9,356.5C451.2,357.0 453.1,359.7 453.4,359.8C453.7,359.8 457.2,357.5 457.6,357.3C457.9,357.0 459.8,354.8 460.0,354.8C460.3,354.8 461.7,357.7 461.7,358.1C461.7,358.5 459.5,362.7 459.2,363.1C459.0,363.5 456.8,366.0 456.7,366.4C456.7,366.8 458.4,371.0 458.4,371.4C458.4,371.8 456.7,374.6 456.7,374.7C456.8,374.8 459.0,373.3 459.2,373.0C459.5,372.8 461.5,369.8 461.7,369.7C462.0,369.7 463.9,372.2 464.2,372.2C464.5,372.3 467.2,370.9 467.5,370.6C467.8,370.2 469.9,365.3 470.0,364.8C470.1,364.2 469.1,360.2 469.2,359.8C469.2,359.4 470.7,356.9 470.8,356.5C470.9,356.0 471.7,352.0 471.7,351.5C471.6,351.0 469.3,347.1 469.2,346.5C469.0,345.9 468.3,340.5 468.3,339.9C468.4,339.2 469.8,333.9 470.0,333.2C470.2,332.6 471.4,327.8 471.7,327.4C471.9,327.1 474.7,325.7 475.0,325.8C475.2,325.9 476.6,328.6 476.6,329.1C476.6,329.6 475.1,334.3 475.0,334.9C474.9,335.5 474.8,341.0 475.0,341.5C475.2,342.0 478.7,344.8 479.1,344.9C479.5,344.9 482.8,343.4 483.3,343.2C483.7,342.9 487.8,340.1 488.2,339.9C488.7,339.7 492.3,339.0 492.4,339.0C492.5,339.1 490.2,341.3 489.9,341.5C489.6,341.7 486.2,342.9 485.7,343.2C485.3,343.5 481.6,347.8 481.6,348.2C481.6,348.5 484.7,350.4 484.9,350.7C485.2,350.9 486.7,353.8 486.6,354.0C486.5,354.2 482.6,354.5 482.4,354.8C482.3,355.1 483.2,359.3 483.3,359.8C483.3,360.2 483.5,363.6 483.3,363.9C483.1,364.3 479.5,366.2 479.1,366.4C478.7,366.6 475.4,367.9 475.0,368.1C474.6,368.2 471.2,369.5 470.8,369.7C470.4,370.0 467.9,372.8 467.5,373.0C467.1,373.3 463.7,374.5 463.4,374.7C463.0,374.9 460.4,377.1 460.0,377.2C459.7,377.2 457.1,375.4 456.7,375.5C456.4,375.7 453.7,379.4 453.4,379.7C453.1,380.0 450.5,381.0 450.1,381.3C449.7,381.6 445.5,385.1 445.1,385.5C444.7,385.9 442.0,388.9 441.8,389.1 M483.3,315.0C483.5,315.2 487.0,318.1 487.4,318.3C487.9,318.5 492.0,319.2 492.4,319.1C492.8,319.1 494.9,316.9 494.9,316.7C494.9,316.4 492.5,314.3 492.4,314.2 M492.4,333.6C492.5,333.5 494.7,332.8 494.9,332.9C495.1,333.1 496.2,336.2 496.2,336.6C496.2,336.9 494.2,339.5 494.0,339.5C493.8,339.6 492.1,337.7 492.0,337.4C492.0,337.1 492.4,333.8 492.4,333.6 M494.9,326.9C495.0,326.9 497.6,326.1 497.9,326.3C498.1,326.4 499.2,329.3 499.2,329.6C499.1,329.8 497.1,331.4 496.9,331.3C496.6,331.1 495.0,327.2 494.9,326.9 M474.6,354.0C474.7,354.0 476.1,354.6 476.1,354.8C476.2,355.0 475.6,357.2 475.5,357.3C475.4,357.4 474.3,356.6 474.3,356.5C474.3,356.3 474.6,354.1 474.6,354.0 M451.8,378.8C451.9,378.9 453.7,379.2 453.7,379.3C453.8,379.5 453.2,381.3 453.1,381.3C453.0,381.4 451.5,381.0 451.4,380.8C451.4,380.7 451.7,378.9 451.8,378.8 M461.7,364.8C461.9,364.8 464.8,365.4 465.0,365.6C465.2,365.8 465.9,368.6 465.8,368.9C465.8,369.1 463.6,370.6 463.4,370.6C463.1,370.5 461.5,368.4 461.4,368.1C461.3,367.8 461.7,364.9 461.7,364.8 M404.5,329.1C404.6,328.9 406.6,325.1 407.0,325.0C407.3,324.8 410.6,326.6 411.1,326.6C411.6,326.7 416.5,325.6 416.9,325.8C417.3,325.9 419.4,329.6 419.4,329.9C419.5,330.3 418.1,333.0 417.8,333.2C417.4,333.5 412.5,334.9 412.0,334.9C411.4,334.9 407.3,334.4 407.0,334.1C406.6,333.8 404.6,329.3 404.5,329.1 M426.9,344.2C427.0,344.2 428.5,344.4 428.5,344.5C428.6,344.6 428.3,345.8 428.2,345.8C428.1,345.9 426.9,345.6 426.9,345.5C426.8,345.4 426.9,344.3 426.9,344.2 M426.9,388.5C427.0,388.3 429.2,385.0 429.4,384.7C429.6,384.3 431.1,381.6 431.0,381.3C431.0,381.0 428.6,379.1 428.5,378.8C428.5,378.6 430.3,375.8 430.2,375.5C430.1,375.3 427.0,374.1 426.9,373.9C426.8,373.6 428.6,370.8 428.5,370.6C428.5,370.3 426.1,368.4 426.0,368.1C426.0,367.7 427.7,364.3 427.7,363.9C427.7,363.5 426.8,360.0 426.9,359.8C427.0,359.5 429.0,358.5 429.4,358.4C429.7,358.4 433.4,358.8 433.5,358.9C433.6,359.1 431.8,362.0 431.9,362.3C431.9,362.6 435.0,364.5 435.2,364.8C435.3,365.0 434.3,367.7 434.3,368.1C434.4,368.4 436.6,371.8 436.8,372.2C437.1,372.7 439.1,376.7 439.3,377.2C439.6,377.6 441.7,380.9 441.8,381.3C441.9,381.7 440.9,385.1 441.0,385.5C441.1,385.8 443.3,388.2 443.5,388.3 M416.9,374.7C417.1,374.5 419.9,371.6 420.2,371.4C420.6,371.2 424.1,370.4 424.4,370.6C424.7,370.7 426.8,373.5 426.9,373.9C427.0,374.3 426.3,378.5 426.0,378.8C425.8,379.2 423.1,381.2 422.7,381.3C422.4,381.5 418.9,382.2 418.6,382.2C418.3,382.1 416.2,380.0 416.1,379.7C416.0,379.3 416.9,375.0 416.9,374.7 M367.4,324.1C367.2,323.3 365.5,316.3 365.6,314.9C365.8,313.5 368.5,308.6 369.4,307.4C370.3,306.1 375.7,301.0 376.9,299.9C378.0,298.8 382.5,294.5 383.1,293.7C383.8,292.9 384.5,290.9 384.9,290.4C385.2,289.9 386.7,288.7 387.4,287.9C388.1,287.2 392.3,282.5 393.1,281.2C393.9,279.9 396.6,273.8 396.9,272.4C397.1,271.1 395.3,266.0 395.6,265.0C395.9,263.9 399.7,260.5 400.6,260.0C401.5,259.4 405.7,258.6 406.8,258.7C408.0,258.8 413.1,260.8 414.3,261.2C415.6,261.6 420.7,263.2 421.8,263.7C423.0,264.2 427.1,266.5 428.1,267.5C429.0,268.4 432.8,273.8 433.0,274.9C433.3,276.1 431.1,280.3 430.5,281.2C430.0,282.0 427.0,284.3 426.8,284.9C426.6,285.5 428.9,287.9 428.6,288.7C428.2,289.4 423.7,292.6 423.1,293.7C422.4,294.7 421.2,300.1 420.6,301.2C419.9,302.2 416.1,305.5 415.6,306.1C415.0,306.8 414.1,309.0 413.8,309.4C413.5,309.8 412.4,310.9 411.8,311.1C411.2,311.4 407.7,312.1 406.8,312.4C406.0,312.7 402.9,314.1 401.8,314.4C400.8,314.7 395.6,316.0 394.4,316.1C393.1,316.2 388.0,315.3 386.9,315.4C385.7,315.5 381.7,316.9 380.6,317.4C379.6,317.9 375.3,320.5 374.4,321.1C373.5,321.7 370.5,324.6 369.9,324.9C369.3,325.1 367.6,324.2 367.4,324.1 M398.1,221.5C398.3,221.5 401.1,222.7 401.4,223.1C401.7,223.5 403.4,229.2 403.4,229.8C403.4,230.3 401.7,234.3 401.7,234.7C401.8,235.1 404.8,237.5 405.1,238.0C405.3,238.6 407.2,245.8 407.5,246.3C407.9,246.9 411.3,249.2 411.7,249.7C412.1,250.1 415.6,254.1 415.8,254.6C416.1,255.1 416.8,259.3 416.7,259.6C416.5,259.9 413.4,260.9 413.0,260.8C412.6,260.7 408.7,257.8 408.4,257.6C408.0,257.5 406.3,258.1 406.1,257.9C405.8,257.8 403.1,254.5 402.7,254.3C402.4,254.0 399.8,253.2 399.8,253.0C399.7,252.7 401.8,249.2 401.7,248.8C401.7,248.4 398.5,245.4 398.4,245.0C398.3,244.6 400.2,240.5 400.1,240.0C400.0,239.5 396.9,235.6 396.8,235.1C396.6,234.5 397.5,229.1 397.6,228.4C397.7,227.7 398.1,221.8 398.1,221.5 M384.5,219.8C384.5,219.6 384.6,216.0 384.8,215.7C385.0,215.3 388.5,213.1 389.0,213.2C389.4,213.2 393.2,216.5 393.4,216.8C393.7,217.1 394.6,219.6 394.4,219.8C394.3,220.0 390.9,221.2 390.6,221.5C390.4,221.7 389.2,224.7 389.0,224.8C388.7,224.9 386.4,223.7 386.2,223.4C385.9,223.2 384.6,220.0 384.5,219.8 M371.6,229.8C371.7,229.6 374.5,227.3 374.9,227.3C375.2,227.2 378.6,228.4 379.0,228.4C379.4,228.4 382.8,227.2 383.2,227.3C383.5,227.4 385.6,230.2 385.7,230.6C385.7,231.0 384.8,234.3 384.8,234.7C384.9,235.1 386.8,238.5 386.8,238.9C386.8,239.3 385.4,242.7 385.2,243.0C384.9,243.3 382.7,245.4 382.3,245.5C382.0,245.6 378.6,244.6 378.2,244.7C377.8,244.8 375.2,247.6 374.9,247.7C374.5,247.7 371.5,246.0 371.2,246.0C370.9,246.0 368.8,247.3 368.6,247.2C368.3,247.1 365.8,244.2 365.8,243.8C365.7,243.5 367.9,240.1 367.9,239.7C367.9,239.3 366.2,235.9 366.3,235.6C366.3,235.2 368.3,233.0 368.6,232.7C368.8,232.4 371.4,229.9 371.6,229.8 M374.9,231.4C375.0,231.4 377.9,230.5 378.2,230.6C378.5,230.7 380.7,233.6 380.7,233.9C380.7,234.2 378.5,237.1 378.2,237.2C377.9,237.3 375.0,235.8 374.9,235.6C374.7,235.3 374.9,231.6 374.9,231.4 M390.6,226.4C390.8,226.3 393.2,224.5 393.4,224.4C393.7,224.4 396.2,225.4 396.4,225.6C396.7,225.9 397.8,229.0 397.8,229.4C397.7,229.8 395.4,233.3 395.1,233.4C394.8,233.5 392.0,232.1 391.8,231.7C391.6,231.4 390.7,226.7 390.6,226.4 M389.8,235.6C390.0,235.5 393.1,234.3 393.4,234.4C393.8,234.5 397.6,236.8 397.8,237.2C397.9,237.6 397.0,241.4 396.8,241.7C396.5,242.0 393.1,242.8 392.8,242.7C392.5,242.6 390.6,240.1 390.5,239.7C390.3,239.3 389.8,235.8 389.8,235.6 M387.3,244.3C387.5,244.3 391.3,243.0 391.8,243.0C392.3,243.1 397.5,245.2 398.1,245.5C398.7,245.8 402.7,249.2 403.1,249.7C403.4,250.1 405.7,253.6 405.6,253.8C405.5,254.0 401.5,253.9 401.1,253.8C400.6,253.7 396.9,251.8 396.4,251.6C396.0,251.5 392.2,251.1 391.8,251.0C391.4,250.8 388.7,248.7 388.5,248.3C388.3,248.0 387.4,244.5 387.3,244.3 M398.9,234.7C399.1,234.8 401.5,235.7 401.7,236.1C402.0,236.4 403.9,240.8 403.9,241.0C403.9,241.3 401.3,241.3 401.1,241.0C400.8,240.7 399.0,235.0 398.9,234.7 M393.4,229.8C393.6,229.7 395.5,228.8 395.6,228.9C395.8,229.0 396.5,231.6 396.4,231.7C396.4,231.9 394.6,232.8 394.4,232.7C394.3,232.6 393.5,229.9 393.4,229.8 M398.1,229.8C398.2,229.7 399.6,228.9 399.8,229.1C399.9,229.3 400.6,233.2 400.6,233.4C400.5,233.6 399.0,234.1 398.9,233.9C398.8,233.7 398.1,230.0 398.1,229.8 M399.8,237.2C399.9,237.3 401.6,237.8 401.7,238.0C401.9,238.3 402.3,241.5 402.2,241.7C402.2,241.8 400.2,241.3 400.1,241.0C400.0,240.8 399.8,237.4 399.8,237.2 M376.5,250.5C376.7,250.4 380.3,248.8 380.7,248.8C381.1,248.9 383.9,251.0 384.0,251.3C384.1,251.6 383.1,255.3 382.8,255.5C382.6,255.6 378.8,255.2 378.5,255.0C378.2,254.7 376.6,250.7 376.5,250.5 M384.8,248.8C385.0,248.9 387.2,249.4 387.3,249.7C387.4,249.9 387.6,254.4 387.5,254.6C387.4,254.8 385.3,254.3 385.2,254.0C385.0,253.7 384.8,249.1 384.8,248.8 M388.1,252.1C388.3,252.1 391.3,251.5 391.5,251.6C391.7,251.7 392.4,254.1 392.3,254.3C392.2,254.4 389.2,254.7 389.0,254.6C388.8,254.5 388.2,252.3 388.1,252.1 M369.9,248.0C370.1,248.0 373.3,248.6 373.5,248.8C373.8,249.0 375.0,251.5 374.9,251.6C374.8,251.8 371.5,252.5 371.2,252.3C371.0,252.1 370.0,248.2 369.9,248.0 M364.6,236.4C364.7,236.4 366.5,237.0 366.6,237.2C366.7,237.4 366.4,239.9 366.3,240.0C366.1,240.1 364.3,239.6 364.3,239.4C364.2,239.2 364.6,236.5 364.6,236.4 M363.3,259.8C363.9,259.9 369.2,261.0 370.0,261.4C370.7,261.8 372.6,264.0 372.5,264.7C372.3,265.4 369.1,269.5 368.3,269.7C367.6,269.9 364.0,267.1 363.3,267.2C362.6,267.3 360.7,270.5 360.0,270.5C359.3,270.6 355.7,268.0 355.0,268.0C354.4,268.1 352.7,270.7 352.6,271.4C352.4,272.1 353.5,275.5 353.4,276.3C353.3,277.2 351.9,280.5 351.7,281.3C351.5,282.1 350.7,286.1 350.9,286.3C351.1,286.4 353.7,282.9 354.2,283.0C354.7,283.0 356.1,287.2 356.7,287.1C357.3,287.0 360.3,282.3 360.8,282.1C361.4,281.9 362.6,284.6 363.3,284.6C364.1,284.7 369.3,283.5 370.0,283.0C370.6,282.4 370.4,278.8 370.8,278.0C371.2,277.2 374.2,274.7 374.9,273.8C375.7,273.0 379.2,268.9 379.9,268.0C380.6,267.1 382.6,263.8 383.2,263.1C383.9,262.4 386.6,260.1 387.4,259.8C388.2,259.4 392.9,259.2 393.2,258.9C393.5,258.7 391.3,256.9 390.6,256.6C390.0,256.3 386.4,255.0 385.7,255.0C384.9,255.0 382.2,256.9 381.5,256.6C380.8,256.3 378.1,251.9 377.4,251.6C376.7,251.4 374.1,253.3 373.2,253.3C372.3,253.3 367.5,251.6 366.6,251.6C365.6,251.6 362.2,252.8 361.9,253.3C361.6,253.8 362.8,257.4 362.9,257.9C363.1,258.5 363.3,259.6 363.3,259.8 M365.8,202.4C365.8,202.3 367.3,200.5 367.4,200.7C367.6,200.9 368.4,206.5 368.6,206.5C368.7,206.6 370.6,201.5 370.7,201.6C370.9,201.6 371.6,206.9 371.6,207.4C371.5,207.8 369.3,210.6 369.1,210.7C368.8,210.8 366.7,209.4 366.6,209.0C366.4,208.6 365.8,202.7 365.8,202.4 M350.0,254.6C350.0,254.6 350.3,253.5 350.1,253.1C349.8,252.8 345.7,247.9 345.1,247.3C344.5,246.7 339.2,241.8 338.5,241.5C337.8,241.2 331.7,240.5 331.0,240.7C330.3,240.9 324.1,245.0 323.5,245.7C323.0,246.4 320.5,253.9 320.2,254.8C319.9,255.6 318.1,262.5 317.7,263.1C317.3,263.6 312.4,266.2 311.9,266.4C311.4,266.6 308.2,266.9 307.8,267.2C307.4,267.5 303.7,272.6 303.6,273.0C303.6,273.4 306.5,275.5 307.0,275.5C307.4,275.5 311.4,272.4 311.9,272.2C312.4,272.0 316.3,271.2 316.9,271.4C317.5,271.5 322.9,275.5 323.5,275.5C324.2,275.5 329.5,272.5 330.2,272.2C330.8,271.9 336.1,269.9 336.8,269.7C337.5,269.5 343.0,267.9 343.4,268.0C343.9,268.2 345.8,272.4 345.9,273.0C346.1,273.6 346.9,279.1 346.8,279.7C346.6,280.2 343.0,284.2 342.6,284.6C342.2,285.0 338.7,287.5 338.5,287.9C338.2,288.4 336.8,292.5 336.8,292.9C336.8,293.3 339.3,295.7 339.3,296.2C339.3,296.7 337.0,302.2 336.8,302.9C336.6,303.5 334.5,308.9 334.3,309.5C334.1,310.1 332.7,314.7 332.7,315.0C332.6,315.2 332.7,314.8 332.7,315.0C332.6,315.2 332.0,319.6 331.8,320.0C331.6,320.4 328.8,323.2 328.5,323.3C328.2,323.4 325.5,322.5 325.2,322.5C324.9,322.4 322.2,321.6 321.9,321.6C321.5,321.7 318.6,323.1 318.6,323.3C318.5,323.5 320.7,324.8 321.0,325.0C321.4,325.1 325.8,326.1 326.0,326.1 M320.2,268.9C320.4,268.8 324.1,268.2 324.4,268.4C324.6,268.5 325.0,271.5 324.9,271.7C324.7,271.9 321.3,272.3 321.0,272.2C320.8,272.0 320.3,269.0 320.2,268.9 M343.4,258.9C343.6,258.9 345.8,258.3 345.9,258.4C346.1,258.5 346.2,261.3 346.1,261.4C346.0,261.6 343.9,261.5 343.8,261.4C343.6,261.3 343.5,259.0 343.4,258.9 M299.5,226.6C299.8,226.5 304.6,225.0 305.3,224.9C306.0,224.8 312.3,224.0 312.8,224.1C313.2,224.2 313.7,227.1 313.6,227.4C313.4,227.7 309.9,229.7 309.4,229.9C308.9,230.1 304.1,232.3 303.6,232.4C303.2,232.5 300.5,231.8 300.3,231.6C300.1,231.3 299.5,226.8 299.5,226.6 M302.0,227.4C302.3,227.4 308.2,226.2 308.6,226.3C309.1,226.3 311.3,228.0 311.1,228.2C310.9,228.4 304.9,230.3 304.5,230.2C304.0,230.2 302.1,227.6 302.0,227.4 M324.4,221.6C324.5,221.7 327.4,222.3 327.7,222.4C328.0,222.6 330.2,225.1 330.2,225.3C330.1,225.4 327.1,225.1 326.9,224.9C326.6,224.7 324.5,221.8 324.4,221.6 M336.0,210.0C336.1,210.0 338.3,210.6 338.5,210.8C338.6,211.1 339.4,214.7 339.3,215.0C339.2,215.2 337.0,216.1 336.8,215.8C336.6,215.6 336.0,210.3 336.0,210.0 M348.4,210.0C348.5,210.0 350.3,210.5 350.4,210.8C350.5,211.1 351.0,216.1 350.9,216.3C350.8,216.6 348.9,216.1 348.7,215.8C348.6,215.5 348.4,210.3 348.4,210.0"/></g></g><circle cx="292.0" cy="706.4" r="141.8" fill="none" stroke="#222" stroke-width="1"/><circle cx="292" cy="706.4" r="7" fill="#fff"/><rect x="5.00" y="431.25" width="17.30" height="13.75" fill="#9370DB" stroke="#000" stroke-width="0.7"/><rect x="22.30" y="431.25" width="17.30" height="13.75" fill="#0000CD" stroke="#000" stroke-width="0.7"/><rect x="39.60" y="431.25" width="17.30" height="13.75" fill="#4169E1" stroke="#000" stroke-width="0.7"/><rect x="56.90" y="431.25" width="17.30" height="13.75" fill="#7496EE" stroke="#000" stroke-width="0.7"/><rect x="74.20" y="431.25" width="17.30" height="13.75" fill="#B0E0E6" stroke="#000" stroke-width="0.7"/><rect x="91.50" y="431.25" width="17.30" height="13.75" fill="#20B2AA" stroke="#000" stroke-width="0.7"/><rect x="108.80" y="431.25" width="17.30" height="13.75" fill="#BCEE68" stroke="#000" stroke-width="0.7"/><rect x="126.10" y="431.25" width="17.30" height="13.75" fill="#93BB35" stroke="#000" stroke-width="0.7"/><rect x="143.40" y="431.25" width="17.30" height="13.75" fill="#F5E6BE" stroke="#000" stroke-width="0.7"/><rect x="160.70" y="431.25" width="17.30" height="13.75" fill="#DEB887" stroke="#000" stroke-width="0.7"/><rect x="178.00" y="431.25" width="17.30" height="13.75" fill="#FFDE00" stroke="#000" stroke-width="0.7"/><rect x="195.30" y="431.25" width="17.30" height="13.75" fill="#FFA500" stroke="#000" stroke-width="0.7"/><rect x="212.60" y="431.25" width="17.30" height="13.75" fill="#FF4500" stroke="#000" stroke-width="0.7"/><rect x="229.90" y="431.25" width="17.30" height="13.75" fill="#B22222" stroke="#000" stroke-width="0.7"/><rect x="247.20" y="431.25" width="17.30" height="13.75" fill="#FFB6C1" stroke="#000" stroke-width="0.7"/><rect x="264.50" y="431.25" width="17.30" height="13.75" fill="#FF1493" stroke="#000" stroke-width="0.7"/><rect x="301.25" y="431.25" width="17.30" height="13.75" fill="#9370DB" stroke="#000" stroke-width="0.7"/><rect x="318.55" y="431.25" width="17.30" height="13.75" fill="#0000CD" stroke="#000" stroke-width="0.7"/><rect x="335.85" y="431.25" width="17.30" height="13.75" fill="#4169E1" stroke="#000" stroke-width="0.7"/><rect x="353.15" y="431.25" width="17.30" height="13.75" fill="#7496EE" stroke="#000" stroke-width="0.7"/><rect x="370.45" y="431.25" width="17.30" height="13.75" fill="#B0E0E6" stroke="#000" stroke-width="0.7"/><rect x="387.75" y="431.25" width="17.30" height="13.75" fill="#20B2AA" stroke="#000" stroke-width="0.7"/><rect x="405.05" y="431.25" width="17.30" height="13.75" fill="#BCEE68" stroke="#000" stroke-width="0.7"/><rect x="422.35" y="431.25" width="17.30" height="13.75" fill="#93BB35" stroke="#000" stroke-width="0.7"/><rect x="439.65" y="431.25" width="17.30" height="13.75" fill="#F5E6BE" stroke="#000" stroke-width="0.7"/><rect x="456.95" y="431.25" width="17.30" height="13.75" fill="#DEB887" stroke="#000" stroke-width="0.7"/><rect x="474.25" y="431.25" width="17.30" height="13.75" fill="#FFDE00" stroke="#000" stroke-width="0.7"/><rect x="491.55" y="431.25" width="17.30" height="13.75" fill="#FFA500" stroke="#000" stroke-width="0.7"/><rect x="508.85" y="431.25" width="17.30" height="13.75" fill="#FF4500" stroke="#000" stroke-width="0.7"/><rect x="526.15" y="431.25" width="17.30" height="13.75" fill="#B22222" stroke="#000" stroke-width="0.7"/><rect x="543.45" y="431.25" width="17.30" height="13.75" fill="#FFB6C1" stroke="#000" stroke-width="0.7"/><rect x="560.75" y="431.25" width="17.30" height="13.75" fill="#FF1493" stroke="#000" stroke-width="0.7"/><rect x="511" y="617.10" width="33" height="14.29" fill="#FF1493" stroke="#000" stroke-width="0.7"/><rect x="511" y="631.39" width="33" height="14.29" fill="#FFB6C1" stroke="#000" stroke-width="0.7"/><rect x="511" y="645.68" width="33" height="14.29" fill="#B22222" stroke="#000" stroke-width="0.7"/><rect x="511" y="659.96" width="33" height="14.29" fill="#FF4500" stroke="#000" stroke-width="0.7"/><rect x="511" y="674.25" width="33" height="14.29" fill="#FFA500" stroke="#000" stroke-width="0.7"/><rect x="511" y="688.54" width="33" height="14.29" fill="#FFDE00" stroke="#000" stroke-width="0.7"/><rect x="511" y="702.83" width="33" height="14.29" fill="#DEB887" stroke="#000" stroke-width="0.7"/><rect x="511" y="717.11" width="33" height="14.29" fill="#F5E6BE" stroke="#000" stroke-width="0.7"/><rect x="511" y="731.40" width="33" height="14.29" fill="#93BB35" stroke="#000" stroke-width="0.7"/><rect x="511" y="745.69" width="33" height="14.29" fill="#BCEE68" stroke="#000" stroke-width="0.7"/><rect x="511" y="759.98" width="33" height="14.29" fill="#20B2AA" stroke="#000" stroke-width="0.7"/><rect x="511" y="774.26" width="33" height="14.29" fill="#B0E0E6" stroke="#000" stroke-width="0.7"/><rect x="511" y="788.55" width="33" height="14.29" fill="#7496EE" stroke="#000" stroke-width="0.7"/><rect x="511" y="802.84" width="33" height="14.29" fill="#4169E1" stroke="#000" stroke-width="0.7"/><rect x="511" y="817.12" width="33" height="14.29" fill="#0000CD" stroke="#000" stroke-width="0.7"/><rect x="511" y="831.41" width="33" height="14.29" fill="#9370DB" stroke="#000" stroke-width="0.7"/></svg>
<div class="t s b" style="font-size:27px;left:264.00px;top:-4.38px;letter-spacing:-0.499px;color:#000">ANN</div><div class="t s b" style="font-size:15.7px;left:63.20px;top:31.43px;letter-spacing:0.039px;color:#000">b01.01ibis (yrs 50-74)</div><div class="t s b" style="font-size:15.7px;left:402.75px;top:32.68px;letter-spacing:0.053px;color:#000">ISCCP D2</div><div class="t s b" style="font-size:13.8px;left:0.50px;top:77.68px;letter-spacing:-0.040px;color:#000">Low-level cloud</div><div class="t s b" style="font-size:13.8px;left:236.30px;top:74.93px;letter-spacing:-0.174px;color:#000">percent</div><div class="t s b" style="font-size:13.8px;left:296.50px;top:77.68px;letter-spacing:0.031px;color:#000">Low-level cloud</div><div class="t s b" style="font-size:13.8px;left:533.00px;top:74.43px;letter-spacing:-0.207px;color:#000">percent</div><div class="t s b" style="font-size:15.7px;left:209.75px;top:490.68px;letter-spacing:-0.009px;color:#000">b01.01ibis - ISCCP D2</div><div class="t s b" style="font-size:13.8px;left:148.60px;top:534.93px;letter-spacing:-0.029px;color:#000">Low-level cloud</div><div class="t s b" style="font-size:13.8px;left:384.50px;top:532.43px;letter-spacing:-0.082px;color:#000">percent</div><div class="t r" style="font-size:13.4px;left:2.50px;top:409.92px;letter-spacing:-0.807px;color:#222">MEAN=</div><div class="t r" style="font-size:13.4px;left:59.50px;top:409.92px;letter-spacing:1.142px;color:#222">60.80</div><div class="t r" style="font-size:13.4px;left:108.25px;top:409.92px;letter-spacing:0.643px;color:#222">Min=</div><div class="t r" style="font-size:13.4px;left:153.75px;top:409.92px;letter-spacing:0.829px;color:#222">28.84</div><div class="t r" style="font-size:13.4px;left:202.50px;top:409.92px;letter-spacing:0.568px;color:#222">Max=</div><div class="t r" style="font-size:13.4px;left:250.75px;top:409.92px;letter-spacing:0.829px;color:#222">87.93</div><div class="t r" style="font-size:13.4px;left:299.50px;top:409.92px;letter-spacing:-0.732px;color:#222">MEAN=</div><div class="t r" style="font-size:13.4px;left:357.00px;top:409.92px;letter-spacing:0.954px;color:#222">21.65</div><div class="t r" style="font-size:13.4px;left:405.50px;top:409.92px;letter-spacing:0.726px;color:#222">Min=</div><div class="t r" style="font-size:13.4px;left:457.00px;top:409.92px;letter-spacing:1.004px;color:#222">0.05</div><div class="t r" style="font-size:13.4px;left:497.50px;top:409.92px;letter-spacing:0.735px;color:#222">Max=</div><div class="t r" style="font-size:13.4px;left:546.25px;top:409.92px;letter-spacing:0.829px;color:#222">49.74</div><div class="t r" style="font-size:13.4px;left:450.10px;top:581.17px;letter-spacing:0.629px;color:#222">MIN =</div><div class="t r" style="font-size:13.4px;left:509.40px;top:581.17px;letter-spacing:0.887px;color:#222">8.49</div><div class="t r" style="font-size:13.4px;left:542.70px;top:581.17px;letter-spacing:-0.099px;color:#222">MAX =</div><div class="t r" style="font-size:13.4px;left:597.70px;top:581.17px;letter-spacing:1.092px;color:#222">67.80</div><div class="t r" style="font-size:13px;left:19.30px;top:449.64px;letter-spacing:1.0px;color:#222">5</div><div class="t r" style="font-size:13px;left:315.55px;top:449.64px;letter-spacing:1.0px;color:#222">5</div><div class="t r" style="font-size:13px;left:49.65px;top:449.64px;letter-spacing:1.0px;color:#222">15</div><div class="t r" style="font-size:13px;left:345.90px;top:449.64px;letter-spacing:1.0px;color:#222">15</div><div class="t r" style="font-size:13px;left:84.75px;top:449.64px;letter-spacing:1.0px;color:#222">25</div><div class="t r" style="font-size:13px;left:381.00px;top:449.64px;letter-spacing:1.0px;color:#222">25</div><div class="t r" style="font-size:13px;left:119.35px;top:449.64px;letter-spacing:1.0px;color:#222">40</div><div class="t r" style="font-size:13px;left:415.60px;top:449.64px;letter-spacing:1.0px;color:#222">40</div><div class="t r" style="font-size:13px;left:153.95px;top:449.64px;letter-spacing:1.0px;color:#222">60</div><div class="t r" style="font-size:13px;left:450.20px;top:449.64px;letter-spacing:1.0px;color:#222">60</div><div class="t r" style="font-size:13px;left:188.55px;top:449.64px;letter-spacing:1.0px;color:#222">75</div><div class="t r" style="font-size:13px;left:484.80px;top:449.64px;letter-spacing:1.0px;color:#222">75</div><div class="t r" style="font-size:13px;left:223.15px;top:449.64px;letter-spacing:1.0px;color:#222">85</div><div class="t r" style="font-size:13px;left:519.40px;top:449.64px;letter-spacing:1.0px;color:#222">85</div><div class="t r" style="font-size:13px;left:257.75px;top:449.64px;letter-spacing:1.0px;color:#222">95</div><div class="t r" style="font-size:13px;left:554.00px;top:449.64px;letter-spacing:1.0px;color:#222">95</div><div class="t r" style="font-size:13px;left:553.10px;top:625.03px;letter-spacing:0.9px;color:#222">50</div><div class="t r" style="font-size:13px;left:553.10px;top:639.32px;letter-spacing:0.9px;color:#222">40</div><div class="t r" style="font-size:13px;left:553.10px;top:653.61px;letter-spacing:0.9px;color:#222">30</div><div class="t r" style="font-size:13px;left:553.10px;top:667.90px;letter-spacing:0.9px;color:#222">20</div><div class="t r" style="font-size:13px;left:552.60px;top:682.19px;letter-spacing:0.9px;color:#222">15</div><div class="t r" style="font-size:13px;left:552.60px;top:696.48px;letter-spacing:0.9px;color:#222">10</div><div class="t r" style="font-size:13px;left:556.80px;top:710.77px;letter-spacing:0.9px;color:#222">5</div><div class="t r" style="font-size:13px;left:556.80px;top:725.06px;letter-spacing:0.9px;color:#222">0</div><div class="t r" style="font-size:13px;left:552.68px;top:739.35px;letter-spacing:0.9px;color:#222">−5</div><div class="t r" style="font-size:13px;left:548.98px;top:753.64px;letter-spacing:0.9px;color:#222">−10</div><div class="t r" style="font-size:13px;left:548.98px;top:767.93px;letter-spacing:0.9px;color:#222">−15</div><div class="t r" style="font-size:13px;left:548.98px;top:782.22px;letter-spacing:0.9px;color:#222">−20</div><div class="t r" style="font-size:13px;left:548.98px;top:796.51px;letter-spacing:0.9px;color:#222">−30</div><div class="t r" style="font-size:13px;left:548.98px;top:810.80px;letter-spacing:0.9px;color:#222">−40</div><div class="t r" style="font-size:13px;left:548.98px;top:825.09px;letter-spacing:0.9px;color:#222">−50</div>
</body></html>
